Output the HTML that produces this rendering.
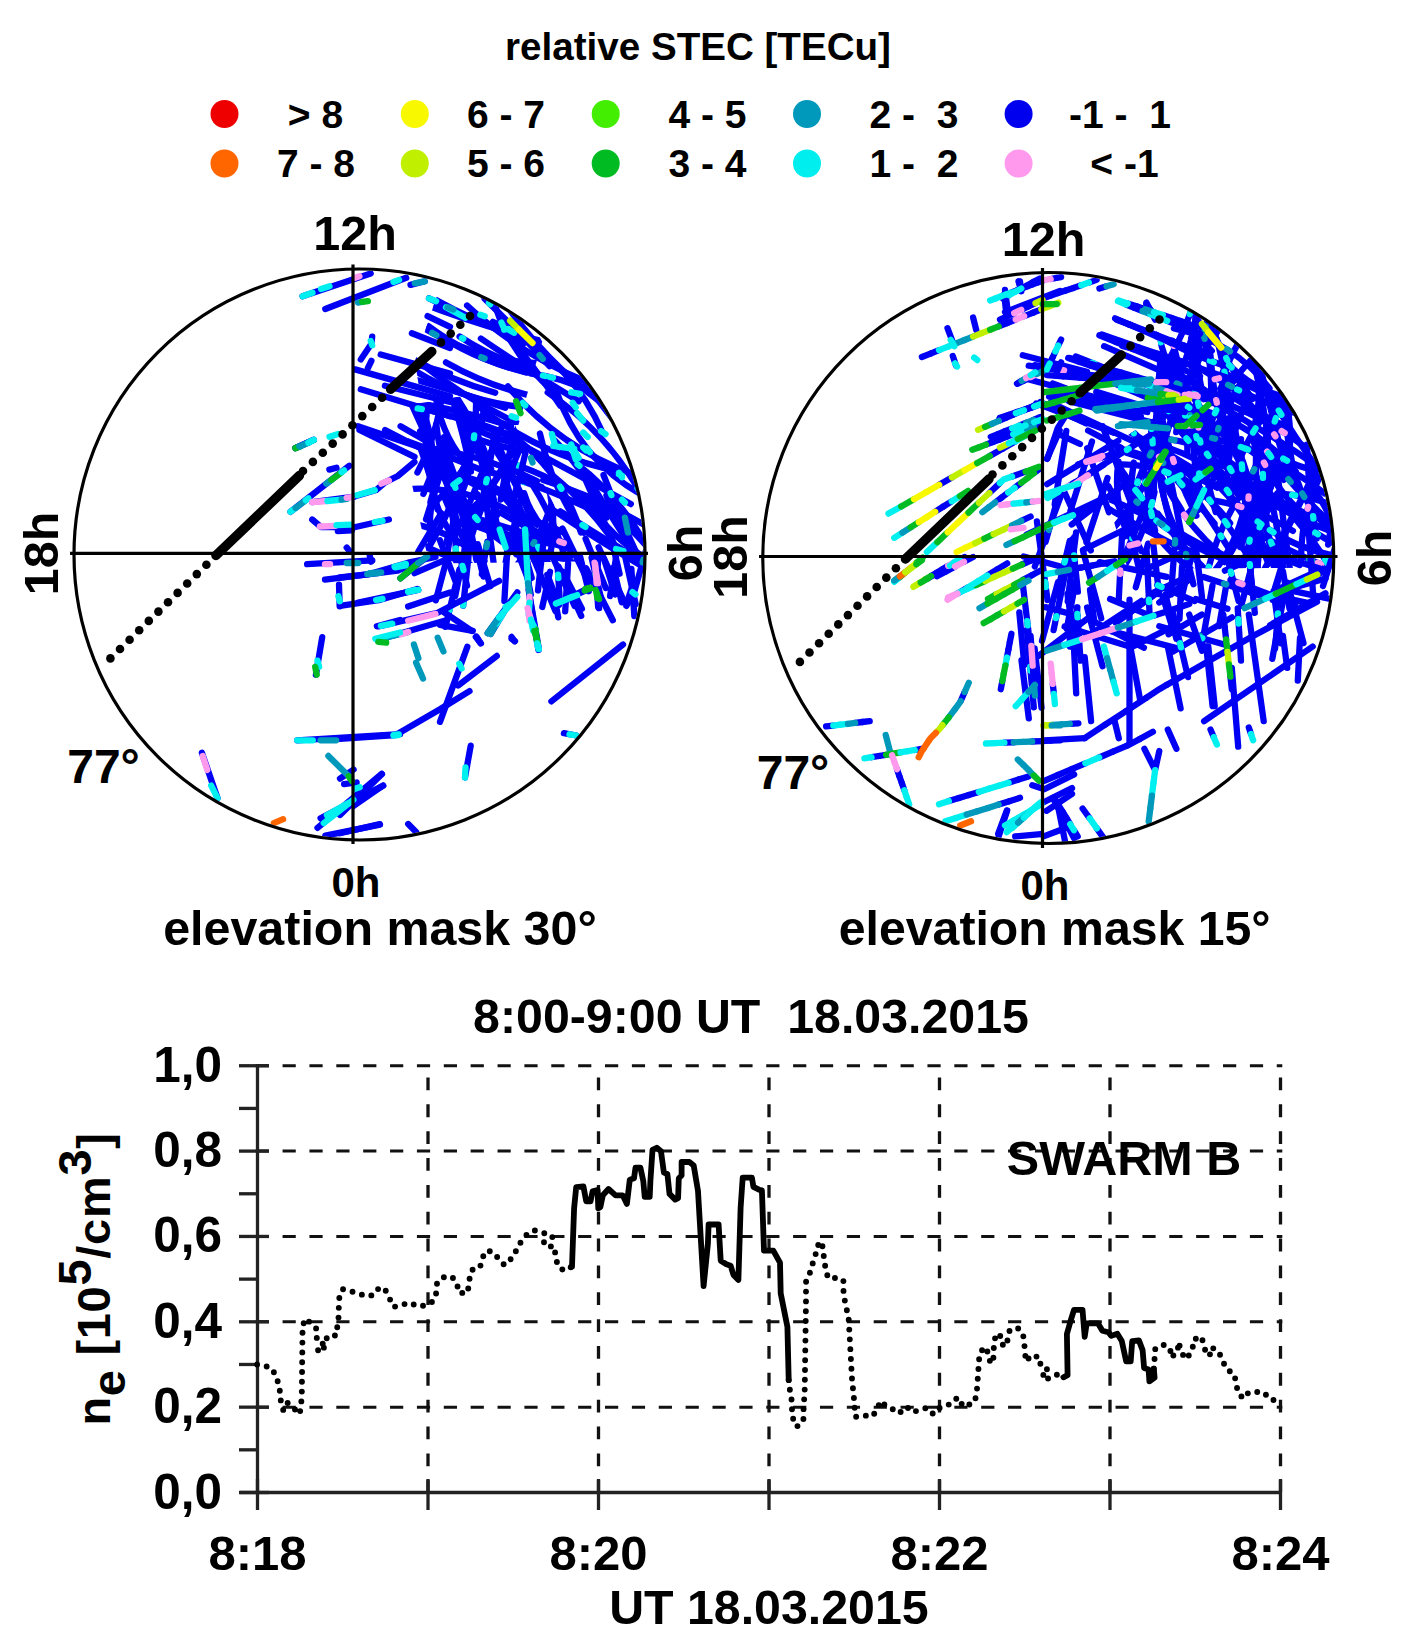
<!DOCTYPE html>
<html><head><meta charset="utf-8"><style>
html,body{margin:0;padding:0;background:#fff;}
svg{display:block;}
text{font-family:"Liberation Sans",sans-serif;font-weight:bold;fill:#000;}
</style></head><body>
<svg width="1408" height="1648" viewBox="0 0 1408 1648">
<text x="698" y="59.6" font-size="38.6" text-anchor="middle" >relative STEC [TECu]</text>
<circle cx="224.5" cy="114" r="14" fill="#ee0000"/>
<circle cx="224.5" cy="163.5" r="14" fill="#ff6600"/>
<circle cx="414.8" cy="114" r="14" fill="#f8f800"/>
<circle cx="414.8" cy="163.5" r="14" fill="#c0f000"/>
<circle cx="605.7" cy="114" r="14" fill="#44ee00"/>
<circle cx="605.7" cy="163.5" r="14" fill="#00bb22"/>
<circle cx="807" cy="114" r="14" fill="#0099bb"/>
<circle cx="807" cy="163.5" r="14" fill="#00eeee"/>
<circle cx="1018.6" cy="114" r="14" fill="#0000ee"/>
<circle cx="1018.6" cy="163.5" r="14" fill="#ff99ee"/>
<text x="315.5" y="127.5" font-size="39" text-anchor="middle" xml:space="preserve">&gt; 8</text>
<text x="506" y="127.5" font-size="39" text-anchor="middle" xml:space="preserve">6 - 7</text>
<text x="707.5" y="127.5" font-size="39" text-anchor="middle" xml:space="preserve">4 - 5</text>
<text x="914" y="127.5" font-size="39" text-anchor="middle" xml:space="preserve">2 -  3</text>
<text x="1120" y="127.5" font-size="39" text-anchor="middle" xml:space="preserve">-1 -  1</text>
<text x="316" y="177" font-size="39" text-anchor="middle" xml:space="preserve">7 - 8</text>
<text x="506" y="177" font-size="39" text-anchor="middle" xml:space="preserve">5 - 6</text>
<text x="707.5" y="177" font-size="39" text-anchor="middle" xml:space="preserve">3 - 4</text>
<text x="914" y="177" font-size="39" text-anchor="middle" xml:space="preserve">1 -  2</text>
<text x="1124.5" y="177" font-size="39" text-anchor="middle" xml:space="preserve">&lt; -1</text>
<defs><clipPath id="clipL"><circle cx="359.5" cy="554.5" r="284"/></clipPath><clipPath id="clipR"><circle cx="1048.25" cy="558" r="284"/></clipPath></defs>
<g clip-path="url(#clipL)">
<clipPath id="dc1"><polygon points="436.5,297.0 519.6,298.7 542.2,341.7 518.4,425.1 424.3,423.5 415.0,360.8"/></clipPath><g clip-path="url(#dc1)"><g stroke="#0000f5" stroke-width="6.3" stroke-linecap="round"><path d="M395.7,374.1 Q451.0,389.1 505.3,407.7" fill="none"/><path d="M459.6,336.5 Q501.6,364.0 550.8,374.0" fill="none"/><path d="M418.4,361.5 Q476.8,408.0 546.1,436.0" fill="none"/><path d="M415.7,318.9 Q475.3,366.1 550.6,376.5" fill="none"/><path d="M400.4,351.6 Q444.9,378.8 495.2,392.7" fill="none"/><path d="M415.2,371.0 Q468.4,403.5 530.6,407.7" fill="none"/><path d="M436.1,299.9 Q483.7,326.2 535.8,342.1" fill="none"/><path d="M446.0,362.4 Q497.1,391.2 555.1,400.6" fill="none"/><path d="M411.8,299.4 Q476.6,325.4 544.6,341.7" fill="none"/><path d="M392.0,294.5 Q461.9,307.8 523.4,343.6" fill="none"/><path d="M409.5,318.8 Q469.3,360.5 542.1,363.5" fill="none"/><path d="M428.3,326.1 Q472.9,359.2 526.8,372.6" fill="none"/></g><g stroke-width="6.3" stroke-linecap="round"><line x1="461.9" y1="338.0" x2="463.3" y2="338.8" stroke="#00f0f0"/><line x1="432.1" y1="332.9" x2="436.4" y2="335.2" stroke="#0099bb"/><line x1="481.2" y1="357.1" x2="484.6" y2="358.5" stroke="#0099bb"/></g></g>
<g><g stroke="#0000f5" stroke-width="6.3" stroke-linecap="round"><path d="M593.3,501.4 Q641.7,530.1 669.6,579.0" fill="none"/><path d="M504.9,331.5 Q534.7,367.2 560.3,405.8" fill="none"/><path d="M588.9,504.5 Q625.3,556.0 684.9,576.7" fill="none"/><path d="M603.5,475.0 Q625.4,532.1 652.6,586.7" fill="none"/><path d="M479.1,407.1 Q540.2,455.3 616.5,470.9" fill="none"/><path d="M606.4,495.4 Q625.8,549.0 663.6,591.6" fill="none"/><path d="M584.2,470.7 Q618.5,530.7 658.2,587.3" fill="none"/><path d="M543.1,480.1 Q616.8,503.5 680.2,547.8" fill="none"/><path d="M509.1,438.1 Q570.2,470.6 630.8,504.1" fill="none"/><path d="M555.0,440.6 Q587.4,473.6 605.7,516.1" fill="none"/><path d="M492.9,321.8 Q569.0,356.5 602.8,433.0" fill="none"/><path d="M551.4,474.4 Q583.8,500.8 608.6,534.4" fill="none"/><path d="M513.6,478.3 Q561.8,494.2 606.9,517.4" fill="none"/><path d="M560.4,511.3 Q607.6,540.8 655.5,569.3" fill="none"/><path d="M484.6,298.7 Q518.3,331.2 549.5,366.2" fill="none"/><path d="M531.3,373.7 Q596.5,381.9 638.4,432.5" fill="none"/><path d="M480.9,338.5 Q528.9,371.3 578.7,401.3" fill="none"/><path d="M585.3,384.7 Q612.6,416.8 635.5,452.2" fill="none"/><path d="M490.4,289.6 Q505.4,352.0 555.1,392.5" fill="none"/><path d="M575.4,462.7 Q623.8,499.8 650.9,554.5" fill="none"/><path d="M518.5,439.9 Q563.7,476.7 580.9,532.4" fill="none"/><path d="M467.1,305.5 Q520.2,354.5 587.0,382.0" fill="none"/><path d="M507.8,386.4 Q559.3,447.6 634.6,474.7" fill="none"/><path d="M547.7,392.5 Q616.7,438.8 651.1,514.4" fill="none"/><path d="M510.4,462.9 Q555.8,477.3 593.8,505.9" fill="none"/><path d="M539.9,433.5 Q551.5,487.9 584.1,532.8" fill="none"/><path d="M579.1,464.9 Q597.8,508.2 617.3,551.2" fill="none"/><path d="M551.0,508.5 Q595.9,539.4 643.0,566.7" fill="none"/><path d="M556.7,392.1 Q579.5,459.7 641.6,494.9" fill="none"/><path d="M507.1,306.3 Q552.8,370.8 618.4,414.8" fill="none"/></g><g stroke-width="6.3" stroke-linecap="round"><line x1="610.6" y1="493.1" x2="611.4" y2="495.1" stroke="#00f0f0"/><line x1="651.4" y1="577.0" x2="653.4" y2="579.6" stroke="#00f0f0"/><line x1="509.8" y1="330.3" x2="514.1" y2="332.8" stroke="#00f0f0"/><line x1="521.7" y1="481.0" x2="525.4" y2="482.3" stroke="#00f0f0"/><line x1="582.4" y1="525.0" x2="585.5" y2="526.9" stroke="#00f0f0"/><line x1="539.5" y1="355.1" x2="542.8" y2="358.8" stroke="#0099bb"/><line x1="489.0" y1="303.0" x2="490.3" y2="304.3" stroke="#00f0f0"/><line x1="549.6" y1="377.0" x2="553.0" y2="377.8" stroke="#00f0f0"/><line x1="542.9" y1="375.5" x2="545.1" y2="376.0" stroke="#00f0f0"/><line x1="501.4" y1="322.5" x2="503.3" y2="326.7" stroke="#00f0f0"/><line x1="577.5" y1="464.3" x2="579.5" y2="465.9" stroke="#00f0f0"/><line x1="560.0" y1="486.6" x2="561.4" y2="488.8" stroke="#00f0f0"/><line x1="522.7" y1="402.9" x2="525.3" y2="405.5" stroke="#00f0f0"/><line x1="637.6" y1="488.2" x2="639.6" y2="491.6" stroke="#00f0f0"/><line x1="518.2" y1="465.5" x2="521.4" y2="466.6" stroke="#00f0f0"/><line x1="586.9" y1="448.6" x2="589.9" y2="452.2" stroke="#00f0f0"/></g></g>
<clipPath id="dc2"><polygon points="405.8,405.4 499.1,390.2 524.4,445.6 557.8,512.7 575.4,561.4 429.1,563.6 411.0,479.8"/></clipPath><g clip-path="url(#dc2)"><g stroke="#0000f5" stroke-width="6.3" stroke-linecap="round"><path d="M448.9,440.4 Q448.6,484.7 454.0,528.7" fill="none"/><path d="M454.6,416.0 Q499.4,428.8 541.6,448.8" fill="none"/><path d="M392.7,520.7 Q445.7,525.0 484.4,561.3" fill="none"/><path d="M471.8,517.1 Q523.9,531.8 574.4,551.0" fill="none"/><path d="M417.4,472.5 Q441.3,427.1 443.6,375.7" fill="none"/><path d="M471.8,508.8 Q510.9,472.5 519.3,419.8" fill="none"/><path d="M528.5,514.0 Q535.6,550.9 560.0,579.5" fill="none"/><path d="M405.9,400.9 Q459.4,409.6 511.0,425.9" fill="none"/><path d="M505.8,486.5 Q535.1,530.8 555.3,579.9" fill="none"/><path d="M395.9,364.8 Q426.3,416.5 438.3,475.2" fill="none"/><path d="M416.3,407.1 Q471.2,419.6 523.0,441.8" fill="none"/><path d="M503.3,472.9 Q516.3,508.8 517.7,547.0" fill="none"/><path d="M518.8,504.0 Q528.6,551.7 548.2,596.3" fill="none"/><path d="M475.6,438.5 Q505.8,449.7 537.8,452.1" fill="none"/><path d="M444.1,437.2 Q446.3,473.5 462.7,505.9" fill="none"/><path d="M442.6,492.5 Q453.8,521.2 468.2,548.5" fill="none"/><path d="M453.5,402.4 Q464.0,436.5 470.9,471.5" fill="none"/><path d="M426.6,415.2 Q422.1,452.8 435.8,488.1" fill="none"/><path d="M440.1,455.6 Q447.7,488.3 456.8,520.7" fill="none"/><path d="M517.8,563.8 Q545.6,532.9 554.6,492.4" fill="none"/><path d="M450.5,473.3 Q467.6,520.0 468.5,569.7" fill="none"/><path d="M500.9,512.9 Q552.8,543.9 612.2,555.5" fill="none"/><path d="M433.6,504.0 Q477.7,464.1 484.6,404.9" fill="none"/><path d="M464.0,422.4 Q490.2,438.9 520.7,444.4" fill="none"/><path d="M404.7,489.3 Q464.6,484.8 516.6,514.9" fill="none"/><path d="M477.1,494.0 Q495.8,524.7 516.2,554.2" fill="none"/><path d="M428.1,548.2 Q444.3,522.6 455.0,494.1" fill="none"/><path d="M417.0,399.0 Q439.7,441.9 429.9,489.3" fill="none"/><path d="M524.2,493.3 Q534.0,526.1 563.2,544.2" fill="none"/><path d="M420.2,447.3 Q431.7,477.5 437.4,509.3" fill="none"/><path d="M454.8,410.0 Q474.5,440.6 467.8,476.4" fill="none"/><path d="M493.0,446.0 Q516.8,482.1 532.7,522.2" fill="none"/><path d="M510.0,509.1 Q522.1,472.9 528.9,435.3" fill="none"/><path d="M434.5,384.9 Q437.2,428.1 464.4,461.7" fill="none"/><path d="M436.3,424.3 Q441.5,478.0 473.9,521.1" fill="none"/><path d="M411.4,404.0 Q433.2,450.7 452.9,498.3" fill="none"/><path d="M464.9,479.6 Q492.4,495.6 524.2,495.4" fill="none"/><path d="M533.6,450.3 Q561.5,500.6 549.9,557.0" fill="none"/><path d="M500.4,493.3 Q540.1,535.4 554.8,591.4" fill="none"/><path d="M468.7,523.9 Q509.3,535.2 541.9,562.0" fill="none"/><path d="M493.2,526.5 Q538.8,553.9 590.2,567.8" fill="none"/><path d="M501.5,580.6 Q511.2,536.7 522.1,493.1" fill="none"/><path d="M485.8,487.1 Q488.6,542.9 499.9,597.6" fill="none"/><path d="M446.5,562.7 Q450.3,521.7 465.4,483.3" fill="none"/><path d="M404.2,536.4 Q436.5,552.8 470.6,565.0" fill="none"/><path d="M531.9,483.9 Q562.4,531.8 571.5,587.8" fill="none"/><path d="M429.8,473.4 Q433.7,512.4 458.0,543.2" fill="none"/><path d="M455.9,481.9 Q469.1,519.6 502.2,541.9" fill="none"/><path d="M460.7,524.1 Q480.6,475.8 501.3,427.8" fill="none"/><path d="M464.0,413.0 Q486.1,467.2 496.9,524.7" fill="none"/><path d="M443.7,448.0 Q467.3,501.9 476.4,560.0" fill="none"/><path d="M493.6,433.9 Q513.0,480.4 537.2,524.7" fill="none"/><path d="M390.9,435.5 Q437.7,451.5 483.2,470.7" fill="none"/><path d="M492.2,472.8 Q529.5,481.0 564.6,496.0" fill="none"/><path d="M448.8,459.6 Q455.2,517.6 456.9,576.0" fill="none"/><path d="M428.8,368.5 Q471.9,410.2 483.8,469.0" fill="none"/><path d="M503.1,493.8 Q513.3,460.9 528.6,430.0" fill="none"/><path d="M475.7,524.6 Q488.6,485.0 513.5,451.6" fill="none"/><path d="M427.6,447.5 Q484.8,455.9 537.0,481.0" fill="none"/><path d="M486.5,528.8 Q520.5,540.3 556.2,544.3" fill="none"/><path d="M430.8,541.1 Q425.3,492.4 452.8,452.0" fill="none"/><path d="M470.4,540.2 Q487.4,488.9 494.0,435.3" fill="none"/><path d="M453.8,508.9 Q476.8,457.3 476.0,400.8" fill="none"/><path d="M521.2,517.1 Q557.0,526.5 588.5,545.9" fill="none"/><path d="M463.3,571.2 Q462.3,524.4 490.4,487.0" fill="none"/><path d="M420.1,431.1 Q450.6,474.3 474.0,521.7" fill="none"/><path d="M442.3,474.3 Q473.2,475.6 500.3,490.4" fill="none"/><path d="M430.4,501.9 Q439.4,472.6 444.4,442.2" fill="none"/><path d="M500.7,499.6 Q505.4,469.3 512.6,439.4" fill="none"/><path d="M455.1,410.3 Q486.9,458.4 497.1,515.1" fill="none"/><path d="M440.1,373.4 Q473.6,416.9 491.2,469.0" fill="none"/><path d="M497.1,535.9 Q531.0,555.5 570.1,556.8" fill="none"/></g><g stroke-width="6.3" stroke-linecap="round"><line x1="525.5" y1="532.2" x2="526.2" y2="534.9" stroke="#0099bb"/><line x1="533.3" y1="543.7" x2="534.3" y2="542.0" stroke="#0099bb"/><line x1="455.0" y1="486.5" x2="455.4" y2="487.9" stroke="#00f0f0"/><line x1="583.3" y1="548.6" x2="587.0" y2="549.6" stroke="#00f0f0"/><line x1="538.1" y1="546.9" x2="539.5" y2="549.7" stroke="#00f0f0"/><line x1="475.1" y1="517.1" x2="477.6" y2="520.0" stroke="#00f0f0"/><line x1="455.8" y1="548.3" x2="455.9" y2="550.2" stroke="#00f0f0"/><line x1="486.1" y1="482.4" x2="486.8" y2="479.2" stroke="#00f0f0"/><line x1="473.9" y1="438.1" x2="474.2" y2="435.4" stroke="#00f0f0"/></g></g>
<g><g stroke="#0000f5" stroke-width="6.3" stroke-linecap="round"><line x1="481.8" y1="574.0" x2="487.3" y2="541.7"/><line x1="585.6" y1="538.7" x2="605.8" y2="588.1"/><line x1="435.8" y1="600.4" x2="445.0" y2="565.8"/><line x1="565.2" y1="611.4" x2="568.1" y2="563.4"/><line x1="538.0" y1="590.3" x2="544.5" y2="532.4"/><line x1="631.4" y1="569.0" x2="634.3" y2="616.0"/><line x1="610.1" y1="596.0" x2="616.0" y2="557.8"/><line x1="477.7" y1="544.2" x2="490.3" y2="586.2"/><line x1="532.5" y1="555.8" x2="555.4" y2="611.1"/><line x1="515.3" y1="545.9" x2="528.0" y2="579.1"/><line x1="557.6" y1="566.3" x2="559.7" y2="599.3"/><line x1="612.5" y1="543.8" x2="619.6" y2="573.7"/><line x1="445.4" y1="626.9" x2="459.3" y2="569.8"/><line x1="613.5" y1="567.6" x2="621.7" y2="602.4"/><line x1="460.3" y1="556.2" x2="467.0" y2="585.7"/><line x1="522.8" y1="547.4" x2="531.7" y2="578.0"/><line x1="550.2" y1="551.3" x2="574.6" y2="606.0"/><line x1="542.3" y1="607.0" x2="550.0" y2="571.8"/><line x1="523.5" y1="557.8" x2="530.8" y2="594.5"/><line x1="603.9" y1="558.5" x2="615.1" y2="594.4"/><line x1="596.0" y1="588.3" x2="598.4" y2="556.9"/><line x1="562.8" y1="571.7" x2="581.9" y2="608.7"/><line x1="624.9" y1="555.6" x2="635.7" y2="604.2"/><line x1="558.7" y1="566.7" x2="581.2" y2="615.9"/><line x1="504.4" y1="601.0" x2="507.7" y2="541.9"/><line x1="562.4" y1="528.5" x2="588.3" y2="581.6"/><line x1="439.9" y1="540.2" x2="455.5" y2="581.5"/><line x1="475.3" y1="544.1" x2="483.4" y2="576.6"/><line x1="586.1" y1="568.2" x2="612.8" y2="620.3"/><line x1="547.3" y1="574.8" x2="558.9" y2="605.0"/><line x1="455.2" y1="596.1" x2="462.2" y2="562.6"/><line x1="591.6" y1="557.9" x2="600.8" y2="597.2"/><line x1="634.4" y1="591.5" x2="645.8" y2="551.0"/><line x1="580.1" y1="556.5" x2="588.7" y2="591.3"/><line x1="598.6" y1="547.4" x2="622.7" y2="598.3"/><line x1="463.2" y1="605.7" x2="469.5" y2="546.8"/></g><g stroke-width="6.3" stroke-linecap="round"><line x1="486.4" y1="547.3" x2="487.1" y2="543.1" stroke="#0099bb"/><line x1="558.1" y1="574.6" x2="558.4" y2="578.1" stroke="#00f0f0"/><line x1="449.4" y1="610.4" x2="449.9" y2="608.4" stroke="#00f0f0"/><line x1="462.5" y1="565.9" x2="463.5" y2="570.1" stroke="#00f0f0"/><line x1="595.3" y1="574.0" x2="595.9" y2="576.1" stroke="#0099bb"/><line x1="642.6" y1="562.4" x2="643.3" y2="559.8" stroke="#0099bb"/><line x1="463.2" y1="605.4" x2="463.5" y2="602.8" stroke="#00f0f0"/></g></g>
<polyline points="302.6,296.2 370.7,273.5" fill="none" stroke="#0000f5" stroke-width="6.3" stroke-linecap="round" stroke-linejoin="round"/>
<polyline points="325.3,309.0 406.2,277.8" fill="none" stroke="#0000f5" stroke-width="6.3" stroke-linecap="round" stroke-linejoin="round"/>
<polyline points="410.5,284.9 424.7,281.3" fill="none" stroke="#0000f5" stroke-width="6.3" stroke-linecap="round" stroke-linejoin="round"/>
<polyline points="429.0,298.4 450.0,308.3" fill="none" stroke="#0000f5" stroke-width="6.3" stroke-linecap="round" stroke-linejoin="round"/>
<polyline points="427.6,316.1 450.0,326.8" fill="none" stroke="#0000f5" stroke-width="6.3" stroke-linecap="round" stroke-linejoin="round"/>
<polyline points="411.9,333.2 450.0,348.1" fill="none" stroke="#0000f5" stroke-width="6.3" stroke-linecap="round" stroke-linejoin="round"/>
<polyline points="372.2,336.7 371.4,343.8 360.8,359.4" fill="none" stroke="#0000f5" stroke-width="6.3" stroke-linecap="round" stroke-linejoin="round"/>
<polyline points="371.4,360.9 367.9,368.0" fill="none" stroke="#0000f5" stroke-width="6.3" stroke-linecap="round" stroke-linejoin="round"/>
<polyline points="380.7,354.5 450.0,373.6" fill="none" stroke="#0000f5" stroke-width="6.3" stroke-linecap="round" stroke-linejoin="round"/>
<polyline points="355.1,369.4 450.0,396.4" fill="none" stroke="#0000f5" stroke-width="6.3" stroke-linecap="round" stroke-linejoin="round"/>
<polyline points="360.8,389.3 450.0,416.2" fill="none" stroke="#0000f5" stroke-width="6.3" stroke-linecap="round" stroke-linejoin="round"/>
<polyline points="384.9,385.7 450.0,402.0" fill="none" stroke="#0000f5" stroke-width="6.3" stroke-linecap="round" stroke-linejoin="round"/>
<polyline points="358.0,426.2 450.0,457.4" fill="none" stroke="#0000f5" stroke-width="6.3" stroke-linecap="round" stroke-linejoin="round"/>
<polyline points="400.6,426.2 427.6,441.8" fill="none" stroke="#0000f5" stroke-width="6.3" stroke-linecap="round" stroke-linejoin="round"/>
<polyline points="295.5,448.2 313.9,439.7" fill="none" stroke="#0000f5" stroke-width="6.3" stroke-linecap="round" stroke-linejoin="round"/>
<polyline points="295.6,447.9 313.5,440.2" fill="none" stroke="#0000f5" stroke-width="6.3" stroke-linecap="round" stroke-linejoin="round"/>
<polyline points="290.5,511.8 349.3,465.8" fill="none" stroke="#0000f5" stroke-width="6.3" stroke-linecap="round" stroke-linejoin="round"/>
<polyline points="329.4,469.6 336.5,467.7" fill="none" stroke="#0000f5" stroke-width="6.3" stroke-linecap="round" stroke-linejoin="round"/>
<polyline points="312.2,502.2 354.4,496.5" fill="none" stroke="#0000f5" stroke-width="6.3" stroke-linecap="round" stroke-linejoin="round"/>
<polyline points="354.4,496.5 376.1,490.1 385.1,482.4 397.8,476.0 414.5,462.0" fill="none" stroke="#0000f5" stroke-width="6.3" stroke-linecap="round" stroke-linejoin="round"/>
<polyline points="312.2,519.5 321.1,527.2 354.4,527.2 388.9,519.5" fill="none" stroke="#0000f5" stroke-width="6.3" stroke-linecap="round" stroke-linejoin="round"/>
<polyline points="337.8,531.0 351.8,530.4" fill="none" stroke="#0000f5" stroke-width="6.3" stroke-linecap="round" stroke-linejoin="round"/>
<polyline points="359.5,430.0 414.5,456.8" fill="none" stroke="#0000f5" stroke-width="6.3" stroke-linecap="round" stroke-linejoin="round"/>
<polyline points="385.1,430.0 429.8,453.0" fill="none" stroke="#0000f5" stroke-width="6.3" stroke-linecap="round" stroke-linejoin="round"/>
<polyline points="423.4,493.9 436.2,462.0" fill="none" stroke="#0000f5" stroke-width="6.3" stroke-linecap="round" stroke-linejoin="round"/>
<polyline points="426.0,519.5 440.0,474.7" fill="none" stroke="#0000f5" stroke-width="6.3" stroke-linecap="round" stroke-linejoin="round"/>
<polyline points="418.3,551.5 441.3,513.1" fill="none" stroke="#0000f5" stroke-width="6.3" stroke-linecap="round" stroke-linejoin="round"/>
<polyline points="446.4,542.5 450.0,529.7" fill="none" stroke="#0000f5" stroke-width="6.3" stroke-linecap="round" stroke-linejoin="round"/>
<polyline points="307.1,564.2 372.3,560.4" fill="none" stroke="#0000f5" stroke-width="6.3" stroke-linecap="round" stroke-linejoin="round"/>
<polyline points="369.7,555.3 371.0,561.7" fill="none" stroke="#0000f5" stroke-width="6.3" stroke-linecap="round" stroke-linejoin="round"/>
<polyline points="325.0,579.6 397.8,570.6 427.2,557.8" fill="none" stroke="#0000f5" stroke-width="6.3" stroke-linecap="round" stroke-linejoin="round"/>
<polyline points="400.4,578.3 427.2,556.6" fill="none" stroke="#0000f5" stroke-width="6.3" stroke-linecap="round" stroke-linejoin="round"/>
<polyline points="414.5,573.2 450.0,557.8" fill="none" stroke="#0000f5" stroke-width="6.3" stroke-linecap="round" stroke-linejoin="round"/>
<polyline points="358.2,602.6 418.3,589.8" fill="none" stroke="#0000f5" stroke-width="6.3" stroke-linecap="round" stroke-linejoin="round"/>
<polyline points="339.0,584.7 339.7,606.4" fill="none" stroke="#0000f5" stroke-width="6.3" stroke-linecap="round" stroke-linejoin="round"/>
<polyline points="346.7,547.6 349.3,550.8" fill="none" stroke="#0000f5" stroke-width="6.3" stroke-linecap="round" stroke-linejoin="round"/>
<polyline points="408.1,606.4 450.0,592.4" fill="none" stroke="#0000f5" stroke-width="6.3" stroke-linecap="round" stroke-linejoin="round"/>
<polyline points="525.0,529.5 529.5,596.6 538.4,650.0" fill="none" stroke="#0000f5" stroke-width="6.3" stroke-linecap="round" stroke-linejoin="round"/>
<polyline points="556.3,603.3 590.6,588.4" fill="none" stroke="#0000f5" stroke-width="6.3" stroke-linecap="round" stroke-linejoin="round"/>
<polyline points="596.6,583.2 598.1,607.0" fill="none" stroke="#0000f5" stroke-width="6.3" stroke-linecap="round" stroke-linejoin="round"/>
<polyline points="626.4,604.1 633.9,581.7" fill="none" stroke="#0000f5" stroke-width="6.3" stroke-linecap="round" stroke-linejoin="round"/>
<polyline points="490.7,633.9 508.6,604.1" fill="none" stroke="#0000f5" stroke-width="6.3" stroke-linecap="round" stroke-linejoin="round"/>
<polyline points="511.6,636.9 514.6,641.3" fill="none" stroke="#0000f5" stroke-width="6.3" stroke-linecap="round" stroke-linejoin="round"/>
<polyline points="475.8,636.9 480.3,642.8" fill="none" stroke="#0000f5" stroke-width="6.3" stroke-linecap="round" stroke-linejoin="round"/>
<polyline points="440.0,624.9 472.8,630.9" fill="none" stroke="#0000f5" stroke-width="6.3" stroke-linecap="round" stroke-linejoin="round"/>
<polyline points="340.0,738.9 395.7,735.0 440.0,709.3 469.5,691.1" fill="none" stroke="#0000f5" stroke-width="6.3" stroke-linecap="round" stroke-linejoin="round"/>
<polyline points="440.0,721.8 467.3,646.8" fill="none" stroke="#0000f5" stroke-width="6.3" stroke-linecap="round" stroke-linejoin="round"/>
<polyline points="458.2,685.5 496.8,655.9" fill="none" stroke="#0000f5" stroke-width="6.3" stroke-linecap="round" stroke-linejoin="round"/>
<polyline points="551.4,701.4 623.0,644.5" fill="none" stroke="#0000f5" stroke-width="6.3" stroke-linecap="round" stroke-linejoin="round"/>
<polyline points="563.9,733.2 576.4,735.5" fill="none" stroke="#0000f5" stroke-width="6.3" stroke-linecap="round" stroke-linejoin="round"/>
<polyline points="470.7,745.7 465.0,777.5" fill="none" stroke="#0000f5" stroke-width="6.3" stroke-linecap="round" stroke-linejoin="round"/>
<polyline points="408.2,824.1 416.1,832.0" fill="none" stroke="#0000f5" stroke-width="6.3" stroke-linecap="round" stroke-linejoin="round"/>
<polyline points="340.0,833.2 379.8,824.1" fill="none" stroke="#0000f5" stroke-width="6.3" stroke-linecap="round" stroke-linejoin="round"/>
<polyline points="340.0,815.0 382.0,774.1" fill="none" stroke="#0000f5" stroke-width="6.3" stroke-linecap="round" stroke-linejoin="round"/>
<polyline points="353.6,805.9 383.2,785.5" fill="none" stroke="#0000f5" stroke-width="6.3" stroke-linecap="round" stroke-linejoin="round"/>
<polyline points="340.0,605.9 378.6,600.2 417.3,588.9" fill="none" stroke="#0000f5" stroke-width="6.3" stroke-linecap="round" stroke-linejoin="round"/>
<polyline points="340.0,577.5 369.5,574.1 408.2,562.7 435.5,557.0" fill="none" stroke="#0000f5" stroke-width="6.3" stroke-linecap="round" stroke-linejoin="round"/>
<polyline points="378.6,626.4 437.7,612.7 499.1,580.9" fill="none" stroke="#0000f5" stroke-width="6.3" stroke-linecap="round" stroke-linejoin="round"/>
<polyline points="377.5,640.0 444.5,620.7" fill="none" stroke="#0000f5" stroke-width="6.3" stroke-linecap="round" stroke-linejoin="round"/>
<polyline points="444.5,612.7 471.8,630.9" fill="none" stroke="#0000f5" stroke-width="6.3" stroke-linecap="round" stroke-linejoin="round"/>
<polyline points="476.4,636.6 480.9,643.4" fill="none" stroke="#0000f5" stroke-width="6.3" stroke-linecap="round" stroke-linejoin="round"/>
<polyline points="511.6,638.9 515.0,641.1" fill="none" stroke="#0000f5" stroke-width="6.3" stroke-linecap="round" stroke-linejoin="round"/>
<polyline points="487.7,633.2 517.3,592.3" fill="none" stroke="#0000f5" stroke-width="6.3" stroke-linecap="round" stroke-linejoin="round"/>
<polyline points="528.6,590.0 538.9,649.1" fill="none" stroke="#0000f5" stroke-width="6.3" stroke-linecap="round" stroke-linejoin="round"/>
<polyline points="555.9,603.6 590.0,587.7" fill="none" stroke="#0000f5" stroke-width="6.3" stroke-linecap="round" stroke-linejoin="round"/>
<polyline points="596.8,567.3 599.1,608.2" fill="none" stroke="#0000f5" stroke-width="6.3" stroke-linecap="round" stroke-linejoin="round"/>
<polyline points="553.6,592.3 558.2,617.3" fill="none" stroke="#0000f5" stroke-width="6.3" stroke-linecap="round" stroke-linejoin="round"/>
<polyline points="633.2,594.5 626.4,605.9" fill="none" stroke="#0000f5" stroke-width="6.3" stroke-linecap="round" stroke-linejoin="round"/>
<polyline points="340.0,778.6 353.6,769.5" fill="none" stroke="#0000f5" stroke-width="6.3" stroke-linecap="round" stroke-linejoin="round"/>
<polyline points="322.2,637.2 315.9,674.7" fill="none" stroke="#0000f5" stroke-width="6.3" stroke-linecap="round" stroke-linejoin="round"/>
<polyline points="297.2,740.3 400.0,734.1" fill="none" stroke="#0000f5" stroke-width="6.3" stroke-linecap="round" stroke-linejoin="round"/>
<polyline points="201.9,752.8 217.5,798.1" fill="none" stroke="#0000f5" stroke-width="6.3" stroke-linecap="round" stroke-linejoin="round"/>
<polyline points="344.1,784.1 356.6,782.5" fill="none" stroke="#0000f5" stroke-width="6.3" stroke-linecap="round" stroke-linejoin="round"/>
<polyline points="317.5,827.8 381.6,773.9" fill="none" stroke="#0000f5" stroke-width="6.3" stroke-linecap="round" stroke-linejoin="round"/>
<polyline points="320.6,818.4 383.1,785.6" fill="none" stroke="#0000f5" stroke-width="6.3" stroke-linecap="round" stroke-linejoin="round"/>
<polyline points="325.3,835.6 380.0,824.7" fill="none" stroke="#0000f5" stroke-width="6.3" stroke-linecap="round" stroke-linejoin="round"/>
<polyline points="376.9,626.2 400.0,620.0" fill="none" stroke="#0000f5" stroke-width="6.3" stroke-linecap="round" stroke-linejoin="round"/>
<polyline points="302.6,296.2 312.5,292.7" fill="none" stroke="#00f0f0" stroke-width="6.3" stroke-linecap="round" stroke-linejoin="round"/>
<polyline points="321.0,289.1 329.5,286.3" fill="none" stroke="#00f0f0" stroke-width="6.3" stroke-linecap="round" stroke-linejoin="round"/>
<polyline points="355.1,277.8 359.4,276.3" fill="none" stroke="#ff99ee" stroke-width="6.3" stroke-linecap="round" stroke-linejoin="round"/>
<polyline points="393.5,282.0 399.1,279.9" fill="none" stroke="#00f0f0" stroke-width="6.3" stroke-linecap="round" stroke-linejoin="round"/>
<polyline points="414.8,283.4 424.7,281.3" fill="none" stroke="#0099bb" stroke-width="6.3" stroke-linecap="round" stroke-linejoin="round"/>
<polyline points="358.0,302.6 362.2,301.9" fill="none" stroke="#0099bb" stroke-width="6.3" stroke-linecap="round" stroke-linejoin="round"/>
<polyline points="362.2,301.9 367.9,301.2" fill="none" stroke="#00bb22" stroke-width="6.3" stroke-linecap="round" stroke-linejoin="round"/>
<polyline points="429.0,298.4 436.1,301.2" fill="none" stroke="#00f0f0" stroke-width="6.3" stroke-linecap="round" stroke-linejoin="round"/>
<polyline points="370.7,341.0 372.2,345.2" fill="none" stroke="#00f0f0" stroke-width="6.3" stroke-linecap="round" stroke-linejoin="round"/>
<polyline points="417.6,408.4 421.9,409.1" fill="none" stroke="#00f0f0" stroke-width="6.3" stroke-linecap="round" stroke-linejoin="round"/>
<polyline points="295.5,448.2 299.7,446.8" fill="none" stroke="#00bb22" stroke-width="6.3" stroke-linecap="round" stroke-linejoin="round"/>
<polyline points="299.7,446.8 309.7,441.8" fill="none" stroke="#0099bb" stroke-width="6.3" stroke-linecap="round" stroke-linejoin="round"/>
<polyline points="309.7,441.8 313.9,439.7" fill="none" stroke="#00f0f0" stroke-width="6.3" stroke-linecap="round" stroke-linejoin="round"/>
<polyline points="329.5,436.8 338.1,434.0" fill="none" stroke="#00f0f0" stroke-width="6.3" stroke-linecap="round" stroke-linejoin="round"/>
<polyline points="446.0,307.3 465.4,317.7" fill="none" stroke="#00f0f0" stroke-width="6.3" stroke-linecap="round" stroke-linejoin="round"/>
<polyline points="447.5,307.3 453.4,309.5" fill="none" stroke="#0099bb" stroke-width="6.3" stroke-linecap="round" stroke-linejoin="round"/>
<polyline points="480.3,314.7 484.7,316.2" fill="none" stroke="#00f0f0" stroke-width="6.3" stroke-linecap="round" stroke-linejoin="round"/>
<polyline points="504.1,329.7 508.6,328.9" fill="none" stroke="#00f0f0" stroke-width="6.3" stroke-linecap="round" stroke-linejoin="round"/>
<polyline points="510.1,320.7 519.0,329.7" fill="none" stroke="#c0f000" stroke-width="6.3" stroke-linecap="round" stroke-linejoin="round"/>
<polyline points="519.0,329.7 532.5,343.1" fill="none" stroke="#f8f800" stroke-width="6.3" stroke-linecap="round" stroke-linejoin="round"/>
<polyline points="516.1,401.2 520.5,413.2" fill="none" stroke="#00bb22" stroke-width="6.3" stroke-linecap="round" stroke-linejoin="round"/>
<polyline points="511.6,416.2 516.1,417.7" fill="none" stroke="#00f0f0" stroke-width="6.3" stroke-linecap="round" stroke-linejoin="round"/>
<polyline points="571.2,392.3 580.2,393.8" fill="none" stroke="#00f0f0" stroke-width="6.3" stroke-linecap="round" stroke-linejoin="round"/>
<polyline points="572.7,402.7 575.7,407.2" fill="none" stroke="#00f0f0" stroke-width="6.3" stroke-linecap="round" stroke-linejoin="round"/>
<polyline points="577.2,413.2 583.2,420.6" fill="none" stroke="#00f0f0" stroke-width="6.3" stroke-linecap="round" stroke-linejoin="round"/>
<polyline points="601.1,431.1 605.5,434.1" fill="none" stroke="#00f0f0" stroke-width="6.3" stroke-linecap="round" stroke-linejoin="round"/>
<polyline points="551.9,434.1 554.8,444.5" fill="none" stroke="#00f0f0" stroke-width="6.3" stroke-linecap="round" stroke-linejoin="round"/>
<polyline points="571.2,444.5 575.7,459.4" fill="none" stroke="#00f0f0" stroke-width="6.3" stroke-linecap="round" stroke-linejoin="round"/>
<polyline points="583.2,432.6 587.7,437.0" fill="none" stroke="#00f0f0" stroke-width="6.3" stroke-linecap="round" stroke-linejoin="round"/>
<polyline points="583.2,447.5 586.2,450.5" fill="none" stroke="#00f0f0" stroke-width="6.3" stroke-linecap="round" stroke-linejoin="round"/>
<polyline points="531.0,457.9 532.5,462.4" fill="none" stroke="#0099bb" stroke-width="6.3" stroke-linecap="round" stroke-linejoin="round"/>
<polyline points="619.0,472.8 622.0,477.3" fill="none" stroke="#00f0f0" stroke-width="6.3" stroke-linecap="round" stroke-linejoin="round"/>
<polyline points="295.6,447.9 299.4,446.4" fill="none" stroke="#00bb22" stroke-width="6.3" stroke-linecap="round" stroke-linejoin="round"/>
<polyline points="299.4,446.4 308.4,442.8" fill="none" stroke="#0099bb" stroke-width="6.3" stroke-linecap="round" stroke-linejoin="round"/>
<polyline points="308.4,442.8 313.5,440.2" fill="none" stroke="#00f0f0" stroke-width="6.3" stroke-linecap="round" stroke-linejoin="round"/>
<polyline points="290.5,511.8 295.6,508.0" fill="none" stroke="#00f0f0" stroke-width="6.3" stroke-linecap="round" stroke-linejoin="round"/>
<polyline points="295.6,508.0 305.8,500.3" fill="none" stroke="#0099bb" stroke-width="6.3" stroke-linecap="round" stroke-linejoin="round"/>
<polyline points="305.8,500.3 308.4,498.4" fill="none" stroke="#00f0f0" stroke-width="6.3" stroke-linecap="round" stroke-linejoin="round"/>
<polyline points="326.3,483.7 331.4,479.9" fill="none" stroke="#0099bb" stroke-width="6.3" stroke-linecap="round" stroke-linejoin="round"/>
<polyline points="331.4,479.9 341.6,472.2" fill="none" stroke="#00bb22" stroke-width="6.3" stroke-linecap="round" stroke-linejoin="round"/>
<polyline points="341.6,472.2 344.1,470.3" fill="none" stroke="#00f0f0" stroke-width="6.3" stroke-linecap="round" stroke-linejoin="round"/>
<polyline points="312.2,502.2 327.5,501.0" fill="none" stroke="#ff99ee" stroke-width="6.3" stroke-linecap="round" stroke-linejoin="round"/>
<polyline points="327.5,501.0 341.6,499.7" fill="none" stroke="#00f0f0" stroke-width="6.3" stroke-linecap="round" stroke-linejoin="round"/>
<polyline points="341.6,499.7 346.7,499.0" fill="none" stroke="#0099bb" stroke-width="6.3" stroke-linecap="round" stroke-linejoin="round"/>
<polyline points="346.7,497.8 351.8,497.1" fill="none" stroke="#ff99ee" stroke-width="6.3" stroke-linecap="round" stroke-linejoin="round"/>
<polyline points="356.9,495.2 374.8,490.1" fill="none" stroke="#00f0f0" stroke-width="6.3" stroke-linecap="round" stroke-linejoin="round"/>
<polyline points="381.2,483.7 388.9,480.5" fill="none" stroke="#ff99ee" stroke-width="6.3" stroke-linecap="round" stroke-linejoin="round"/>
<polyline points="319.9,526.5 335.2,525.9" fill="none" stroke="#ff99ee" stroke-width="6.3" stroke-linecap="round" stroke-linejoin="round"/>
<polyline points="336.5,525.2 350.5,524.6" fill="none" stroke="#00f0f0" stroke-width="6.3" stroke-linecap="round" stroke-linejoin="round"/>
<polyline points="374.8,522.0 382.5,520.8" fill="none" stroke="#00f0f0" stroke-width="6.3" stroke-linecap="round" stroke-linejoin="round"/>
<polyline points="325.0,564.2 330.1,564.2" fill="none" stroke="#ff99ee" stroke-width="6.3" stroke-linecap="round" stroke-linejoin="round"/>
<polyline points="346.7,563.0 358.2,563.0" fill="none" stroke="#0099bb" stroke-width="6.3" stroke-linecap="round" stroke-linejoin="round"/>
<polyline points="369.7,573.2 381.2,572.5" fill="none" stroke="#0099bb" stroke-width="6.3" stroke-linecap="round" stroke-linejoin="round"/>
<polyline points="395.3,567.4 405.5,565.5" fill="none" stroke="#00f0f0" stroke-width="6.3" stroke-linecap="round" stroke-linejoin="round"/>
<polyline points="400.4,578.3 418.3,563.0" fill="none" stroke="#00bb22" stroke-width="6.3" stroke-linecap="round" stroke-linejoin="round"/>
<polyline points="418.3,563.0 427.2,556.6" fill="none" stroke="#0099bb" stroke-width="6.3" stroke-linecap="round" stroke-linejoin="round"/>
<polyline points="376.1,600.0 382.5,598.8" fill="none" stroke="#00f0f0" stroke-width="6.3" stroke-linecap="round" stroke-linejoin="round"/>
<polyline points="408.1,591.7 418.3,589.8" fill="none" stroke="#00f0f0" stroke-width="6.3" stroke-linecap="round" stroke-linejoin="round"/>
<polyline points="338.4,596.2 339.7,601.3" fill="none" stroke="#00f0f0" stroke-width="6.3" stroke-linecap="round" stroke-linejoin="round"/>
<polyline points="525.0,529.5 528.0,583.2" fill="none" stroke="#00f0f0" stroke-width="6.3" stroke-linecap="round" stroke-linejoin="round"/>
<polyline points="528.0,583.2 529.5,593.6" fill="none" stroke="#0099bb" stroke-width="6.3" stroke-linecap="round" stroke-linejoin="round"/>
<polyline points="529.5,596.6 529.5,602.6" fill="none" stroke="#ff99ee" stroke-width="6.3" stroke-linecap="round" stroke-linejoin="round"/>
<polyline points="529.5,602.6 528.7,614.5" fill="none" stroke="#00f0f0" stroke-width="6.3" stroke-linecap="round" stroke-linejoin="round"/>
<polyline points="528.7,614.5 529.5,620.5" fill="none" stroke="#ff99ee" stroke-width="6.3" stroke-linecap="round" stroke-linejoin="round"/>
<polyline points="531.0,620.5 535.5,629.4" fill="none" stroke="#00f0f0" stroke-width="6.3" stroke-linecap="round" stroke-linejoin="round"/>
<polyline points="535.5,629.4 536.9,641.3" fill="none" stroke="#00bb22" stroke-width="6.3" stroke-linecap="round" stroke-linejoin="round"/>
<polyline points="536.9,641.3 538.4,648.8" fill="none" stroke="#00f0f0" stroke-width="6.3" stroke-linecap="round" stroke-linejoin="round"/>
<polyline points="556.3,603.3 562.3,601.1" fill="none" stroke="#0099bb" stroke-width="6.3" stroke-linecap="round" stroke-linejoin="round"/>
<polyline points="562.3,601.1 577.2,595.1" fill="none" stroke="#00f0f0" stroke-width="6.3" stroke-linecap="round" stroke-linejoin="round"/>
<polyline points="584.7,590.6 590.6,588.4" fill="none" stroke="#00bb22" stroke-width="6.3" stroke-linecap="round" stroke-linejoin="round"/>
<polyline points="595.1,563.8 596.6,583.2" fill="none" stroke="#ff99ee" stroke-width="6.3" stroke-linecap="round" stroke-linejoin="round"/>
<polyline points="596.6,593.6 597.3,598.1" fill="none" stroke="#00bb22" stroke-width="6.3" stroke-linecap="round" stroke-linejoin="round"/>
<polyline points="632.4,592.1 635.4,594.4" fill="none" stroke="#00f0f0" stroke-width="6.3" stroke-linecap="round" stroke-linejoin="round"/>
<polyline points="490.7,633.9 496.7,623.4" fill="none" stroke="#0099bb" stroke-width="6.3" stroke-linecap="round" stroke-linejoin="round"/>
<polyline points="496.7,623.4 502.6,614.5" fill="none" stroke="#00f0f0" stroke-width="6.3" stroke-linecap="round" stroke-linejoin="round"/>
<polyline points="505.6,607.0 510.1,604.1" fill="none" stroke="#00f0f0" stroke-width="6.3" stroke-linecap="round" stroke-linejoin="round"/>
<polyline points="619.0,474.3 622.0,475.8" fill="none" stroke="#00f0f0" stroke-width="6.3" stroke-linecap="round" stroke-linejoin="round"/>
<polyline points="622.0,499.7 624.9,502.6" fill="none" stroke="#00f0f0" stroke-width="6.3" stroke-linecap="round" stroke-linejoin="round"/>
<polyline points="624.9,517.6 627.9,532.5" fill="none" stroke="#0099bb" stroke-width="6.3" stroke-linecap="round" stroke-linejoin="round"/>
<polyline points="553.3,446.0 574.2,448.9" fill="none" stroke="#00f0f0" stroke-width="6.3" stroke-linecap="round" stroke-linejoin="round"/>
<polyline points="571.2,446.0 578.7,457.9" fill="none" stroke="#00f0f0" stroke-width="6.3" stroke-linecap="round" stroke-linejoin="round"/>
<polyline points="453.4,484.7 459.4,480.3" fill="none" stroke="#00f0f0" stroke-width="6.3" stroke-linecap="round" stroke-linejoin="round"/>
<polyline points="499.7,529.5 505.6,547.4" fill="none" stroke="#00f0f0" stroke-width="6.3" stroke-linecap="round" stroke-linejoin="round"/>
<polyline points="559.3,541.4 563.8,542.9" fill="none" stroke="#ff99ee" stroke-width="6.3" stroke-linecap="round" stroke-linejoin="round"/>
<polyline points="616.0,548.9 623.4,551.1" fill="none" stroke="#00f0f0" stroke-width="6.3" stroke-linecap="round" stroke-linejoin="round"/>
<polyline points="393.4,735.5 398.0,735.0" fill="none" stroke="#00f0f0" stroke-width="6.3" stroke-linecap="round" stroke-linejoin="round"/>
<polyline points="459.3,663.9 461.6,668.4" fill="none" stroke="#00f0f0" stroke-width="6.3" stroke-linecap="round" stroke-linejoin="round"/>
<polyline points="569.5,734.3 576.4,735.5" fill="none" stroke="#00f0f0" stroke-width="6.3" stroke-linecap="round" stroke-linejoin="round"/>
<polyline points="465.5,767.3 465.0,777.5" fill="none" stroke="#00f0f0" stroke-width="6.3" stroke-linecap="round" stroke-linejoin="round"/>
<polyline points="408.2,591.8 415.0,590.0" fill="none" stroke="#00f0f0" stroke-width="6.3" stroke-linecap="round" stroke-linejoin="round"/>
<polyline points="367.3,574.1 378.6,573.0" fill="none" stroke="#0099bb" stroke-width="6.3" stroke-linecap="round" stroke-linejoin="round"/>
<polyline points="394.5,566.8 405.9,563.9" fill="none" stroke="#00f0f0" stroke-width="6.3" stroke-linecap="round" stroke-linejoin="round"/>
<polyline points="408.2,620.7 435.5,613.9" fill="none" stroke="#ff99ee" stroke-width="6.3" stroke-linecap="round" stroke-linejoin="round"/>
<polyline points="380.9,625.9 392.3,623.6" fill="none" stroke="#00f0f0" stroke-width="6.3" stroke-linecap="round" stroke-linejoin="round"/>
<polyline points="377.5,640.0 385.5,637.7" fill="none" stroke="#00f0f0" stroke-width="6.3" stroke-linecap="round" stroke-linejoin="round"/>
<polyline points="378.6,641.1 385.5,640.0" fill="none" stroke="#00bb22" stroke-width="6.3" stroke-linecap="round" stroke-linejoin="round"/>
<polyline points="385.5,637.7 408.2,632.0" fill="none" stroke="#0099bb" stroke-width="6.3" stroke-linecap="round" stroke-linejoin="round"/>
<polyline points="401.4,634.3 408.2,632.0" fill="none" stroke="#ff99ee" stroke-width="6.3" stroke-linecap="round" stroke-linejoin="round"/>
<polyline points="413.9,644.5 418.4,658.2" fill="none" stroke="#0099bb" stroke-width="6.3" stroke-linecap="round" stroke-linejoin="round"/>
<polyline points="416.1,662.7 423.0,678.6" fill="none" stroke="#0099bb" stroke-width="6.3" stroke-linecap="round" stroke-linejoin="round"/>
<polyline points="437.7,637.7 443.4,651.4" fill="none" stroke="#0099bb" stroke-width="6.3" stroke-linecap="round" stroke-linejoin="round"/>
<polyline points="487.7,633.2 499.1,617.3" fill="none" stroke="#0099bb" stroke-width="6.3" stroke-linecap="round" stroke-linejoin="round"/>
<polyline points="499.1,617.3 517.3,596.8" fill="none" stroke="#00f0f0" stroke-width="6.3" stroke-linecap="round" stroke-linejoin="round"/>
<polyline points="527.5,608.2 530.9,619.5" fill="none" stroke="#ff99ee" stroke-width="6.3" stroke-linecap="round" stroke-linejoin="round"/>
<polyline points="530.9,619.5 533.2,630.9" fill="none" stroke="#00f0f0" stroke-width="6.3" stroke-linecap="round" stroke-linejoin="round"/>
<polyline points="534.3,630.9 537.7,642.3" fill="none" stroke="#00bb22" stroke-width="6.3" stroke-linecap="round" stroke-linejoin="round"/>
<polyline points="537.3,643.4 538.9,649.1" fill="none" stroke="#00f0f0" stroke-width="6.3" stroke-linecap="round" stroke-linejoin="round"/>
<polyline points="555.9,603.6 571.8,596.8" fill="none" stroke="#00f0f0" stroke-width="6.3" stroke-linecap="round" stroke-linejoin="round"/>
<polyline points="585.5,588.9 590.0,587.7" fill="none" stroke="#00bb22" stroke-width="6.3" stroke-linecap="round" stroke-linejoin="round"/>
<polyline points="594.5,562.7 598.0,583.2" fill="none" stroke="#ff99ee" stroke-width="6.3" stroke-linecap="round" stroke-linejoin="round"/>
<polyline points="595.7,590.0 599.1,599.1" fill="none" stroke="#00bb22" stroke-width="6.3" stroke-linecap="round" stroke-linejoin="round"/>
<polyline points="317.5,660.6 319.1,666.9" fill="none" stroke="#00f0f0" stroke-width="6.3" stroke-linecap="round" stroke-linejoin="round"/>
<polyline points="315.2,666.9 316.7,674.7" fill="none" stroke="#00bb22" stroke-width="6.3" stroke-linecap="round" stroke-linejoin="round"/>
<polyline points="297.2,740.3 312.8,740.3" fill="none" stroke="#00f0f0" stroke-width="6.3" stroke-linecap="round" stroke-linejoin="round"/>
<polyline points="320.6,740.3 336.2,740.3" fill="none" stroke="#0099bb" stroke-width="6.3" stroke-linecap="round" stroke-linejoin="round"/>
<polyline points="394.1,734.8 398.8,734.4" fill="none" stroke="#00f0f0" stroke-width="6.3" stroke-linecap="round" stroke-linejoin="round"/>
<polyline points="202.7,755.9 207.3,770.0" fill="none" stroke="#ff99ee" stroke-width="6.3" stroke-linecap="round" stroke-linejoin="round"/>
<polyline points="211.2,785.6 217.5,798.1" fill="none" stroke="#00f0f0" stroke-width="6.3" stroke-linecap="round" stroke-linejoin="round"/>
<polyline points="273.8,823.1 283.1,819.2" fill="none" stroke="#ff6600" stroke-width="6.3" stroke-linecap="round" stroke-linejoin="round"/>
<polyline points="328.4,755.9 350.3,777.8" fill="none" stroke="#0099bb" stroke-width="6.3" stroke-linecap="round" stroke-linejoin="round"/>
<polyline points="348.8,776.2 351.9,780.9" fill="none" stroke="#00bb22" stroke-width="6.3" stroke-linecap="round" stroke-linejoin="round"/>
<polyline points="323.8,823.1 353.4,799.7" fill="none" stroke="#00f0f0" stroke-width="6.3" stroke-linecap="round" stroke-linejoin="round"/>
<polyline points="326.9,815.3 348.8,802.8" fill="none" stroke="#00f0f0" stroke-width="6.3" stroke-linecap="round" stroke-linejoin="round"/>
<polyline points="355.0,788.8 359.7,787.2" fill="none" stroke="#00f0f0" stroke-width="6.3" stroke-linecap="round" stroke-linejoin="round"/>
<polyline points="375.3,638.8 400.0,632.5" fill="none" stroke="#00f0f0" stroke-width="6.3" stroke-linecap="round" stroke-linejoin="round"/>
<polyline points="378.4,641.9 386.2,642.7" fill="none" stroke="#00bb22" stroke-width="6.3" stroke-linecap="round" stroke-linejoin="round"/>
</g>
<circle cx="110.4" cy="658.4" r="4.3" fill="#000"/>
<circle cx="120.0" cy="649.0" r="4.3" fill="#000"/>
<circle cx="129.6" cy="639.7" r="4.3" fill="#000"/>
<circle cx="139.2" cy="630.3" r="4.3" fill="#000"/>
<circle cx="148.8" cy="620.9" r="4.3" fill="#000"/>
<circle cx="158.4" cy="611.6" r="4.3" fill="#000"/>
<circle cx="168.0" cy="602.2" r="4.3" fill="#000"/>
<circle cx="177.6" cy="592.9" r="4.3" fill="#000"/>
<circle cx="187.2" cy="583.5" r="4.3" fill="#000"/>
<circle cx="196.8" cy="574.1" r="4.3" fill="#000"/>
<circle cx="206.4" cy="564.8" r="4.3" fill="#000"/>
<circle cx="216.0" cy="555.4" r="4.3" fill="#000"/>
<circle cx="303.0" cy="471.0" r="4.3" fill="#000"/>
<circle cx="312.9" cy="461.9" r="4.3" fill="#000"/>
<circle cx="322.8" cy="452.7" r="4.3" fill="#000"/>
<circle cx="332.7" cy="443.6" r="4.3" fill="#000"/>
<circle cx="342.6" cy="434.4" r="4.3" fill="#000"/>
<circle cx="352.4" cy="425.2" r="4.3" fill="#000"/>
<circle cx="362.3" cy="416.1" r="4.3" fill="#000"/>
<circle cx="372.2" cy="407.0" r="4.3" fill="#000"/>
<circle cx="382.1" cy="397.8" r="4.3" fill="#000"/>
<circle cx="441.0" cy="342.4" r="4.3" fill="#000"/>
<circle cx="450.7" cy="333.6" r="4.3" fill="#000"/>
<circle cx="460.3" cy="324.8" r="4.3" fill="#000"/>
<circle cx="470.0" cy="316.0" r="4.3" fill="#000"/>
<line x1="216" y1="555.4" x2="299.5" y2="475.5" stroke="#000" stroke-width="9.5" stroke-linecap="round"/>
<line x1="390.6" y1="389.3" x2="431.8" y2="351.6" stroke="#000" stroke-width="9.5" stroke-linecap="round"/>
<g clip-path="url(#clipR)">
<clipPath id="dc3"><polygon points="1151.6,302.6 1196.1,309.4 1233.0,330.3 1272.5,358.6 1298.3,385.0 1321.3,421.5 1335.7,455.9 1342.3,502.7 1342.5,567.8 1127.5,568.6 1108.5,502.8 1114.7,443.7 1152.9,418.7 1158.2,344.4"/></clipPath><g clip-path="url(#dc3)"><g stroke="#0000f5" stroke-width="6.3" stroke-linecap="round"><path d="M1194.1,515.5 Q1200.7,444.5 1239.7,384.8" fill="none"/><path d="M1106.8,420.1 Q1152.0,443.4 1195.3,470.2" fill="none"/><path d="M1213.3,500.4 Q1256.2,507.4 1292.9,530.9" fill="none"/><path d="M1103.9,539.2 Q1157.0,482.6 1174.1,407.0" fill="none"/><path d="M1153.5,312.1 Q1187.1,324.7 1211.8,350.9" fill="none"/><path d="M1202.1,606.1 Q1207.4,547.0 1239.1,496.9" fill="none"/><path d="M1124.9,314.6 Q1169.6,346.8 1221.6,364.8" fill="none"/><path d="M1325.6,473.1 Q1335.8,508.5 1328.1,544.6" fill="none"/><path d="M1213.3,428.8 Q1253.5,447.5 1283.9,479.8" fill="none"/><path d="M1150.3,371.1 Q1189.0,391.2 1231.1,402.4" fill="none"/><path d="M1217.0,484.3 Q1251.4,518.4 1268.6,563.8" fill="none"/><path d="M1127.8,424.0 Q1155.2,466.5 1181.4,509.7" fill="none"/><path d="M1157.6,415.2 Q1172.0,485.0 1185.4,554.9" fill="none"/><path d="M1194.3,434.0 Q1266.6,448.2 1324.8,493.4" fill="none"/><path d="M1151.4,431.9 Q1192.4,491.1 1230.9,551.8" fill="none"/><path d="M1222.9,371.6 Q1272.0,402.2 1328.8,412.7" fill="none"/><path d="M1256.8,445.5 Q1250.6,510.7 1283.5,567.4" fill="none"/><path d="M1220.3,388.5 Q1251.4,411.2 1286.6,426.4" fill="none"/><path d="M1279.1,546.7 Q1305.6,489.8 1335.9,434.8" fill="none"/><path d="M1223.0,385.6 Q1242.5,437.6 1238.8,493.0" fill="none"/><path d="M1248.1,487.4 Q1265.4,536.1 1254.4,586.7" fill="none"/><path d="M1265.5,439.8 Q1277.6,396.7 1296.0,355.9" fill="none"/><path d="M1131.7,495.6 Q1156.3,546.8 1203.4,578.6" fill="none"/><path d="M1162.0,420.0 Q1186.6,369.3 1196.7,313.9" fill="none"/><path d="M1199.5,368.0 Q1249.9,400.2 1307.4,417.1" fill="none"/><path d="M1232.6,479.8 Q1282.8,513.9 1339.8,534.7" fill="none"/><path d="M1173.9,328.5 Q1232.8,340.7 1269.5,388.4" fill="none"/><path d="M1252.9,429.8 Q1291.3,492.4 1348.9,538.0" fill="none"/><path d="M1313.6,488.8 Q1352.8,544.8 1344.1,612.6" fill="none"/><path d="M1148.5,444.0 Q1172.4,519.1 1235.5,566.2" fill="none"/><path d="M1276.9,363.9 Q1297.0,419.9 1286.4,478.5" fill="none"/><path d="M1150.3,445.1 Q1174.2,477.9 1200.5,509.0" fill="none"/><path d="M1195.4,443.5 Q1221.8,471.9 1259.9,478.7" fill="none"/><path d="M1301.1,559.9 Q1300.7,503.6 1331.3,456.4" fill="none"/><path d="M1253.3,339.7 Q1266.6,393.0 1280.0,446.3" fill="none"/><path d="M1240.2,547.1 Q1268.5,491.6 1266.1,429.3" fill="none"/><path d="M1265.0,387.1 Q1299.0,447.5 1343.3,500.9" fill="none"/><path d="M1161.0,439.1 Q1153.6,494.1 1182.4,541.6" fill="none"/><path d="M1109.8,445.4 Q1165.9,460.5 1217.3,487.8" fill="none"/><path d="M1227.4,480.4 Q1228.2,436.9 1248.4,398.3" fill="none"/><path d="M1295.7,518.8 Q1328.1,543.7 1366.2,558.3" fill="none"/><path d="M1211.0,358.9 Q1213.7,424.3 1249.5,479.0" fill="none"/><path d="M1123.6,557.9 Q1141.6,519.2 1154.3,478.3" fill="none"/><path d="M1184.4,379.9 Q1195.8,444.7 1197.5,510.4" fill="none"/><path d="M1242.6,524.6 Q1305.4,562.8 1375.9,583.2" fill="none"/><path d="M1241.0,439.1 Q1240.1,495.5 1261.9,547.5" fill="none"/><path d="M1179.4,403.8 Q1249.1,417.9 1295.8,471.6" fill="none"/><path d="M1127.1,379.6 Q1151.1,431.1 1182.6,478.4" fill="none"/><path d="M1191.2,338.4 Q1190.5,385.5 1205.8,430.0" fill="none"/><path d="M1154.0,443.5 Q1220.8,460.9 1261.2,516.8" fill="none"/><path d="M1118.6,574.7 Q1145.0,537.1 1154.5,492.1" fill="none"/><path d="M1280.2,493.7 Q1334.1,497.3 1376.8,530.4" fill="none"/><path d="M1254.2,363.4 Q1269.3,424.2 1271.0,486.8" fill="none"/><path d="M1142.6,371.5 Q1155.0,430.6 1154.0,491.0" fill="none"/><path d="M1119.9,464.3 Q1168.4,463.8 1205.1,495.5" fill="none"/><path d="M1166.7,387.2 Q1212.8,420.8 1233.5,474.0" fill="none"/><path d="M1177.8,460.8 Q1220.4,510.0 1253.9,565.9" fill="none"/><path d="M1095.7,501.0 Q1140.2,528.6 1187.4,551.2" fill="none"/><path d="M1139.8,506.4 Q1180.7,544.6 1233.6,563.0" fill="none"/><path d="M1234.3,466.8 Q1257.4,530.7 1259.9,598.6" fill="none"/><path d="M1093.1,492.8 Q1140.8,510.8 1184.6,537.0" fill="none"/><path d="M1219.9,399.5 Q1224.4,350.1 1260.6,316.4" fill="none"/><path d="M1228.5,603.5 Q1254.1,551.1 1254.1,492.7" fill="none"/><path d="M1250.5,425.2 Q1263.9,481.0 1307.7,518.1" fill="none"/><path d="M1202.4,397.0 Q1266.2,429.9 1324.7,471.5" fill="none"/><path d="M1264.0,570.0 Q1292.9,516.7 1319.7,462.3" fill="none"/><path d="M1184.2,384.4 Q1206.9,419.5 1236.5,448.9" fill="none"/><path d="M1172.4,340.7 Q1190.6,408.8 1205.6,477.6" fill="none"/><path d="M1229.6,500.8 Q1235.4,455.8 1261.8,419.0" fill="none"/><path d="M1230.3,591.2 Q1250.0,540.4 1277.4,493.2" fill="none"/><path d="M1136.1,406.9 Q1180.0,354.5 1198.0,288.6" fill="none"/><path d="M1134.2,363.8 Q1188.3,405.8 1212.3,469.9" fill="none"/><path d="M1142.5,457.4 Q1146.7,494.3 1155.1,530.6" fill="none"/><path d="M1126.3,452.6 Q1190.0,470.6 1230.1,523.2" fill="none"/><path d="M1250.6,558.3 Q1266.7,503.9 1280.6,448.8" fill="none"/><path d="M1123.8,536.8 Q1132.4,468.0 1177.7,415.5" fill="none"/><path d="M1154.8,391.9 Q1150.5,465.7 1174.8,535.5" fill="none"/><path d="M1197.9,284.3 Q1190.5,342.3 1203.7,399.2" fill="none"/><path d="M1264.7,444.8 Q1293.2,471.3 1332.2,471.5" fill="none"/><path d="M1243.6,491.1 Q1272.9,433.8 1291.5,372.2" fill="none"/><path d="M1176.5,395.0 Q1200.3,459.5 1252.5,504.2" fill="none"/><path d="M1201.6,300.1 Q1218.5,353.9 1252.5,399.0" fill="none"/><path d="M1223.3,416.2 Q1255.7,479.5 1263.1,550.3" fill="none"/><path d="M1131.7,430.4 Q1164.3,465.5 1211.4,474.6" fill="none"/><path d="M1205.4,459.1 Q1244.6,514.1 1279.7,571.7" fill="none"/><path d="M1154.3,438.2 Q1209.3,440.2 1249.4,477.7" fill="none"/><path d="M1157.3,388.8 Q1165.6,455.6 1196.4,515.6" fill="none"/><path d="M1186.0,515.3 Q1227.9,474.4 1230.4,415.9" fill="none"/><path d="M1161.5,388.2 Q1207.1,420.8 1253.9,451.6" fill="none"/><path d="M1306.9,444.7 Q1308.3,492.0 1316.7,538.6" fill="none"/><path d="M1133.8,462.5 Q1121.4,537.4 1152.8,606.5" fill="none"/><path d="M1157.9,396.8 Q1196.5,449.1 1240.4,497.0" fill="none"/><path d="M1158.8,336.7 Q1174.7,386.9 1186.5,438.2" fill="none"/><path d="M1207.7,579.0 Q1237.8,545.7 1245.6,501.6" fill="none"/><path d="M1238.4,504.8 Q1292.4,557.6 1367.9,559.1" fill="none"/><path d="M1134.3,358.6 Q1166.1,426.6 1223.8,474.6" fill="none"/><path d="M1145.2,359.5 Q1187.1,375.1 1222.1,402.9" fill="none"/><path d="M1228.6,364.5 Q1256.6,393.3 1296.2,399.6" fill="none"/><path d="M1166.1,388.7 Q1242.0,400.3 1303.7,446.0" fill="none"/><path d="M1277.0,468.7 Q1284.8,534.6 1294.3,600.2" fill="none"/><path d="M1229.7,385.8 Q1283.1,429.5 1302.4,495.6" fill="none"/><path d="M1224.3,562.1 Q1251.9,525.2 1248.4,479.3" fill="none"/><path d="M1198.5,483.5 Q1202.3,409.7 1253.9,356.6" fill="none"/><path d="M1263.0,458.1 Q1261.9,513.4 1274.0,567.4" fill="none"/><path d="M1248.5,482.1 Q1293.5,512.6 1345.8,527.6" fill="none"/><path d="M1113.5,456.9 Q1140.3,504.1 1182.9,537.6" fill="none"/><path d="M1248.4,519.2 Q1264.1,557.4 1297.6,581.6" fill="none"/><path d="M1158.0,513.9 Q1187.9,555.8 1226.9,589.4" fill="none"/><path d="M1263.5,487.7 Q1315.4,531.6 1343.1,593.6" fill="none"/><path d="M1195.9,404.7 Q1200.4,459.4 1215.7,512.1" fill="none"/><path d="M1145.7,371.4 Q1187.3,401.5 1207.5,448.6" fill="none"/><path d="M1183.0,398.3 Q1203.4,335.7 1221.9,272.5" fill="none"/><path d="M1178.4,399.6 Q1217.8,441.6 1243.3,493.2" fill="none"/><path d="M1204.7,303.1 Q1221.9,346.9 1227.8,393.5" fill="none"/><path d="M1118.5,461.4 Q1112.8,500.2 1128.3,536.2" fill="none"/><path d="M1181.1,286.4 Q1215.1,339.9 1210.7,403.2" fill="none"/><path d="M1148.1,445.9 Q1182.1,484.1 1214.5,523.6" fill="none"/><path d="M1284.7,373.8 Q1282.4,431.7 1298.2,487.3" fill="none"/><path d="M1169.9,359.0 Q1188.0,404.5 1187.4,453.4" fill="none"/><path d="M1129.9,496.1 Q1185.7,545.3 1256.8,567.0" fill="none"/><path d="M1210.5,463.1 Q1219.6,423.7 1228.2,384.2" fill="none"/><path d="M1243.8,336.3 Q1266.9,378.2 1254.8,424.4" fill="none"/><path d="M1176.2,432.2 Q1184.6,363.5 1232.8,313.9" fill="none"/><path d="M1252.3,438.4 Q1277.8,504.9 1282.7,576.0" fill="none"/><path d="M1287.1,464.4 Q1313.3,523.2 1363.6,563.4" fill="none"/></g><g stroke-width="6.3" stroke-linecap="round"><line x1="1238.0" y1="506.0" x2="1241.4" y2="507.0" stroke="#ff99ee"/><line x1="1145.2" y1="482.9" x2="1146.0" y2="481.5" stroke="#00f0f0"/><line x1="1207.7" y1="571.5" x2="1208.8" y2="566.7" stroke="#00f0f0"/><line x1="1209.9" y1="360.6" x2="1213.8" y2="362.1" stroke="#00f0f0"/><line x1="1134.3" y1="321.2" x2="1136.8" y2="322.9" stroke="#0099bb"/><line x1="1176.6" y1="383.5" x2="1179.4" y2="384.7" stroke="#0099bb"/><line x1="1132.9" y1="431.9" x2="1133.8" y2="433.3" stroke="#00f0f0"/><line x1="1245.9" y1="448.8" x2="1248.1" y2="449.6" stroke="#00f0f0"/><line x1="1240.7" y1="446.9" x2="1244.0" y2="448.1" stroke="#00f0f0"/><line x1="1212.1" y1="438.0" x2="1215.1" y2="438.8" stroke="#0099bb"/><line x1="1220.6" y1="535.6" x2="1221.4" y2="537.0" stroke="#00f0f0"/><line x1="1270.8" y1="541.7" x2="1272.2" y2="545.0" stroke="#00f0f0"/><line x1="1286.3" y1="378.7" x2="1287.9" y2="374.8" stroke="#0099bb"/><line x1="1228.1" y1="384.7" x2="1231.9" y2="386.7" stroke="#0099bb"/><line x1="1237.2" y1="389.5" x2="1239.1" y2="390.4" stroke="#00f0f0"/><line x1="1225.9" y1="348.7" x2="1230.0" y2="351.3" stroke="#0099bb"/><line x1="1267.1" y1="451.5" x2="1269.8" y2="455.3" stroke="#ff99ee"/><line x1="1288.3" y1="479.1" x2="1290.7" y2="482.0" stroke="#0099bb"/><line x1="1268.4" y1="453.2" x2="1271.1" y2="457.0" stroke="#00f0f0"/><line x1="1340.7" y1="547.2" x2="1341.7" y2="551.3" stroke="#0099bb"/><line x1="1184.1" y1="514.6" x2="1186.4" y2="517.8" stroke="#ff99ee"/><line x1="1159.0" y1="456.9" x2="1161.0" y2="459.6" stroke="#ff99ee"/><line x1="1307.7" y1="508.7" x2="1308.2" y2="506.9" stroke="#ff99ee"/><line x1="1322.0" y1="472.4" x2="1322.9" y2="470.7" stroke="#00f0f0"/><line x1="1327.0" y1="480.6" x2="1328.6" y2="482.7" stroke="#0099bb"/><line x1="1278.7" y1="410.5" x2="1281.4" y2="414.8" stroke="#00f0f0"/><line x1="1159.6" y1="461.6" x2="1163.2" y2="463.0" stroke="#0099bb"/><line x1="1315.2" y1="532.6" x2="1317.9" y2="534.3" stroke="#00f0f0"/><line x1="1216.2" y1="400.1" x2="1216.8" y2="402.8" stroke="#ff99ee"/><line x1="1132.3" y1="538.3" x2="1133.1" y2="536.5" stroke="#00f0f0"/><line x1="1189.9" y1="415.1" x2="1190.1" y2="417.0" stroke="#0099bb"/><line x1="1309.0" y1="559.1" x2="1312.1" y2="560.4" stroke="#0099bb"/><line x1="1317.8" y1="562.8" x2="1321.4" y2="564.3" stroke="#ff99ee"/><line x1="1241.8" y1="464.3" x2="1242.2" y2="469.0" stroke="#00f0f0"/><line x1="1146.3" y1="418.0" x2="1147.9" y2="420.9" stroke="#ff99ee"/><line x1="1198.0" y1="402.6" x2="1198.8" y2="406.1" stroke="#00f0f0"/><line x1="1151.1" y1="506.0" x2="1152.2" y2="502.1" stroke="#00f0f0"/><line x1="1292.1" y1="494.9" x2="1295.2" y2="495.3" stroke="#00f0f0"/><line x1="1152.4" y1="439.3" x2="1152.7" y2="443.4" stroke="#00f0f0"/><line x1="1151.1" y1="425.2" x2="1151.5" y2="428.9" stroke="#00f0f0"/><line x1="1164.4" y1="471.4" x2="1166.1" y2="472.1" stroke="#00f0f0"/><line x1="1165.1" y1="471.7" x2="1168.6" y2="473.0" stroke="#00f0f0"/><line x1="1224.8" y1="521.0" x2="1227.6" y2="525.1" stroke="#00f0f0"/><line x1="1209.2" y1="499.6" x2="1210.9" y2="501.9" stroke="#00f0f0"/><line x1="1156.4" y1="520.6" x2="1159.4" y2="523.0" stroke="#00f0f0"/><line x1="1164.6" y1="526.9" x2="1167.1" y2="528.7" stroke="#00f0f0"/><line x1="1258.9" y1="581.1" x2="1259.2" y2="585.2" stroke="#0099bb"/><line x1="1159.5" y1="522.8" x2="1162.5" y2="524.5" stroke="#0099bb"/><line x1="1239.5" y1="577.3" x2="1240.1" y2="575.5" stroke="#00f0f0"/><line x1="1249.4" y1="541.7" x2="1249.7" y2="539.7" stroke="#00f0f0"/><line x1="1263.9" y1="462.5" x2="1265.1" y2="464.9" stroke="#ff99ee"/><line x1="1196.2" y1="436.1" x2="1196.7" y2="438.2" stroke="#00f0f0"/><line x1="1173.0" y1="342.8" x2="1173.8" y2="345.9" stroke="#ff99ee"/><line x1="1253.0" y1="432.5" x2="1255.5" y2="428.4" stroke="#00f0f0"/><line x1="1189.9" y1="314.0" x2="1191.5" y2="309.7" stroke="#00f0f0"/><line x1="1151.0" y1="511.6" x2="1151.9" y2="516.0" stroke="#00f0f0"/><line x1="1259.6" y1="527.3" x2="1260.4" y2="524.5" stroke="#00f0f0"/><line x1="1149.9" y1="455.4" x2="1151.4" y2="452.6" stroke="#0099bb"/><line x1="1137.2" y1="482.9" x2="1137.7" y2="481.4" stroke="#00f0f0"/><line x1="1196.8" y1="294.0" x2="1196.6" y2="296.0" stroke="#0099bb"/><line x1="1196.1" y1="303.1" x2="1195.9" y2="306.0" stroke="#00f0f0"/><line x1="1283.2" y1="458.6" x2="1287.1" y2="460.7" stroke="#00f0f0"/><line x1="1274.7" y1="421.5" x2="1275.9" y2="418.1" stroke="#00f0f0"/><line x1="1253.2" y1="471.5" x2="1254.3" y2="469.2" stroke="#0099bb"/><line x1="1206.9" y1="453.8" x2="1208.5" y2="456.0" stroke="#00f0f0"/><line x1="1226.2" y1="358.1" x2="1227.2" y2="360.0" stroke="#00f0f0"/><line x1="1226.8" y1="489.8" x2="1229.0" y2="493.0" stroke="#00f0f0"/><line x1="1171.1" y1="439.7" x2="1174.5" y2="440.2" stroke="#0099bb"/><line x1="1172.9" y1="459.0" x2="1173.8" y2="462.0" stroke="#ff99ee"/><line x1="1187.9" y1="406.9" x2="1189.3" y2="407.8" stroke="#00f0f0"/><line x1="1313.1" y1="516.2" x2="1313.4" y2="518.5" stroke="#00f0f0"/><line x1="1166.6" y1="408.4" x2="1168.6" y2="411.1" stroke="#00f0f0"/><line x1="1160.2" y1="340.8" x2="1160.6" y2="342.4" stroke="#00f0f0"/><line x1="1257.6" y1="521.5" x2="1261.4" y2="524.3" stroke="#00f0f0"/><line x1="1269.8" y1="530.0" x2="1273.5" y2="532.4" stroke="#00f0f0"/><line x1="1148.1" y1="385.1" x2="1149.4" y2="387.4" stroke="#00f0f0"/><line x1="1186.4" y1="438.4" x2="1188.6" y2="440.8" stroke="#00f0f0"/><line x1="1229.0" y1="364.9" x2="1231.6" y2="367.5" stroke="#00f0f0"/><line x1="1191.2" y1="393.5" x2="1195.7" y2="394.6" stroke="#00f0f0"/><line x1="1281.6" y1="431.1" x2="1284.7" y2="433.0" stroke="#ff99ee"/><line x1="1274.1" y1="434.3" x2="1275.4" y2="436.3" stroke="#ff99ee"/><line x1="1248.5" y1="498.6" x2="1248.6" y2="496.4" stroke="#ff99ee"/><line x1="1214.9" y1="413.3" x2="1216.3" y2="410.2" stroke="#00f0f0"/><line x1="1198.9" y1="476.4" x2="1199.2" y2="473.3" stroke="#00f0f0"/><line x1="1262.9" y1="474.0" x2="1263.0" y2="477.9" stroke="#00f0f0"/><line x1="1135.4" y1="489.9" x2="1137.5" y2="492.5" stroke="#00f0f0"/><line x1="1139.1" y1="494.5" x2="1142.1" y2="498.2" stroke="#00f0f0"/><line x1="1287.3" y1="573.5" x2="1289.5" y2="575.3" stroke="#00f0f0"/><line x1="1190.9" y1="554.5" x2="1194.1" y2="558.0" stroke="#0099bb"/><line x1="1325.2" y1="559.6" x2="1327.5" y2="563.3" stroke="#00f0f0"/><line x1="1197.9" y1="424.8" x2="1198.3" y2="427.6" stroke="#ff99ee"/><line x1="1200.0" y1="440.2" x2="1200.4" y2="442.6" stroke="#00f0f0"/><line x1="1190.8" y1="417.8" x2="1193.4" y2="421.7" stroke="#00f0f0"/><line x1="1204.8" y1="329.6" x2="1205.7" y2="326.6" stroke="#0099bb"/><line x1="1184.2" y1="394.7" x2="1185.0" y2="392.3" stroke="#00f0f0"/><line x1="1229.8" y1="468.1" x2="1231.5" y2="471.0" stroke="#00f0f0"/><line x1="1224.4" y1="371.6" x2="1225.1" y2="375.7" stroke="#00f0f0"/><line x1="1203.7" y1="335.8" x2="1204.6" y2="338.9" stroke="#0099bb"/><line x1="1179.6" y1="482.0" x2="1182.3" y2="485.1" stroke="#00f0f0"/><line x1="1284.4" y1="386.3" x2="1284.4" y2="391.1" stroke="#0099bb"/><line x1="1178.8" y1="385.8" x2="1179.6" y2="388.5" stroke="#0099bb"/><line x1="1184.6" y1="412.8" x2="1185.0" y2="415.6" stroke="#00f0f0"/><line x1="1136.4" y1="501.6" x2="1137.7" y2="502.8" stroke="#0099bb"/><line x1="1218.1" y1="429.5" x2="1218.5" y2="428.0" stroke="#0099bb"/><line x1="1302.1" y1="493.4" x2="1304.3" y2="497.0" stroke="#0099bb"/></g></g>
<g><g stroke="#0000f5" stroke-width="6.3" stroke-linecap="round"><line x1="1075.6" y1="396.1" x2="1125.7" y2="402.9"/><line x1="1036.2" y1="403.4" x2="1113.9" y2="432.8"/><line x1="1026.1" y1="378.8" x2="1107.6" y2="400.5"/><line x1="1050.5" y1="402.7" x2="1133.0" y2="441.2"/><line x1="1052.7" y1="383.5" x2="1140.8" y2="416.4"/><line x1="1119.6" y1="375.7" x2="1186.8" y2="398.5"/><line x1="1075.8" y1="356.4" x2="1126.1" y2="376.4"/><line x1="1096.3" y1="391.7" x2="1160.1" y2="411.3"/><line x1="1069.1" y1="401.3" x2="1157.4" y2="423.9"/><line x1="1028.7" y1="365.6" x2="1108.1" y2="377.5"/><line x1="1034.7" y1="365.1" x2="1115.3" y2="379.5"/><line x1="1049.1" y1="396.6" x2="1147.4" y2="412.0"/><line x1="1040.4" y1="402.1" x2="1086.1" y2="423.4"/><line x1="1104.1" y1="346.2" x2="1172.9" y2="376.2"/><line x1="1022.8" y1="355.3" x2="1086.9" y2="371.7"/><line x1="1111.9" y1="382.4" x2="1180.8" y2="412.2"/><line x1="1057.4" y1="394.4" x2="1113.0" y2="411.2"/><line x1="1122.2" y1="345.9" x2="1181.0" y2="361.0"/></g><g stroke-width="6.3" stroke-linecap="round"><line x1="1061.9" y1="413.1" x2="1064.4" y2="414.1" stroke="#ff99ee"/><line x1="1091.9" y1="362.8" x2="1094.5" y2="363.8" stroke="#00f0f0"/><line x1="1061.4" y1="369.9" x2="1064.1" y2="370.4" stroke="#ff99ee"/></g></g>
<g><g stroke="#0000f5" stroke-width="6.3" stroke-linecap="round"><line x1="1026.6" y1="534.6" x2="1103.1" y2="498.6"/><line x1="1083.0" y1="550.0" x2="1124.7" y2="529.5"/><line x1="1054.7" y1="504.2" x2="1066.3" y2="430.9"/><line x1="1034.8" y1="566.5" x2="1061.5" y2="494.1"/><line x1="1102.7" y1="426.3" x2="1129.5" y2="499.2"/><line x1="1070.4" y1="511.0" x2="1092.0" y2="441.5"/><line x1="1086.5" y1="542.3" x2="1107.5" y2="478.0"/><line x1="1045.6" y1="541.9" x2="1060.3" y2="489.2"/><line x1="1087.2" y1="448.3" x2="1108.9" y2="512.2"/><line x1="1108.6" y1="486.3" x2="1141.4" y2="551.0"/><line x1="1064.0" y1="491.3" x2="1090.8" y2="550.4"/><line x1="1047.1" y1="484.1" x2="1118.3" y2="440.6"/><line x1="1084.9" y1="476.1" x2="1149.2" y2="435.9"/><line x1="1071.7" y1="524.5" x2="1126.7" y2="482.5"/></g><g stroke-width="6.3" stroke-linecap="round"><line x1="1048.9" y1="529.9" x2="1049.8" y2="526.9" stroke="#0099bb"/><line x1="1126.7" y1="449.9" x2="1128.6" y2="448.8" stroke="#00f0f0"/></g></g>
<g><g stroke="#0000f5" stroke-width="6.3" stroke-linecap="round"><line x1="1073.0" y1="647.4" x2="1077.4" y2="607.4"/><line x1="1203.6" y1="577.0" x2="1266.6" y2="597.8"/><line x1="1275.1" y1="648.5" x2="1279.6" y2="592.1"/><line x1="1135.8" y1="587.2" x2="1148.1" y2="543.6"/><line x1="1067.4" y1="593.8" x2="1075.8" y2="648.7"/><line x1="1168.6" y1="634.3" x2="1201.9" y2="614.5"/><line x1="1185.2" y1="550.4" x2="1193.4" y2="584.2"/><line x1="1066.8" y1="628.9" x2="1075.6" y2="581.5"/><line x1="1165.4" y1="594.5" x2="1176.4" y2="638.9"/><line x1="1219.1" y1="626.1" x2="1226.1" y2="586.0"/><line x1="1254.9" y1="591.4" x2="1312.0" y2="603.9"/><line x1="1179.5" y1="618.8" x2="1182.0" y2="566.5"/><line x1="1067.7" y1="601.2" x2="1076.1" y2="532.4"/><line x1="1146.7" y1="551.8" x2="1149.5" y2="612.7"/><line x1="1091.0" y1="634.1" x2="1141.6" y2="600.9"/><line x1="1201.3" y1="648.1" x2="1212.5" y2="585.4"/><line x1="1173.0" y1="651.6" x2="1231.9" y2="617.4"/><line x1="1118.7" y1="600.9" x2="1122.1" y2="533.9"/><line x1="1131.5" y1="647.3" x2="1177.6" y2="624.1"/><line x1="1171.0" y1="594.4" x2="1175.3" y2="537.8"/><line x1="1195.9" y1="599.1" x2="1227.5" y2="608.8"/><line x1="1308.8" y1="532.4" x2="1313.2" y2="595.4"/><line x1="1036.4" y1="657.6" x2="1091.6" y2="615.5"/><line x1="1172.2" y1="610.1" x2="1188.0" y2="677.1"/><line x1="1224.9" y1="570.7" x2="1283.8" y2="545.0"/><line x1="1159.3" y1="602.5" x2="1187.4" y2="580.9"/><line x1="1272.3" y1="658.9" x2="1283.7" y2="596.6"/><line x1="1283.6" y1="557.2" x2="1326.9" y2="570.8"/><line x1="1089.6" y1="619.3" x2="1143.9" y2="647.7"/><line x1="1248.4" y1="550.1" x2="1254.8" y2="612.9"/><line x1="1287.4" y1="582.8" x2="1303.5" y2="643.1"/><line x1="1058.4" y1="588.0" x2="1069.7" y2="540.9"/><line x1="1230.5" y1="579.8" x2="1295.3" y2="604.1"/><line x1="1195.9" y1="548.0" x2="1202.0" y2="597.0"/><line x1="1087.1" y1="607.5" x2="1102.5" y2="666.3"/><line x1="1273.7" y1="591.0" x2="1322.5" y2="568.8"/><line x1="1272.6" y1="600.0" x2="1286.7" y2="549.7"/><line x1="1150.8" y1="566.9" x2="1188.2" y2="550.2"/><line x1="1272.3" y1="596.8" x2="1284.3" y2="557.3"/><line x1="1153.1" y1="542.6" x2="1159.1" y2="594.1"/><line x1="1045.4" y1="607.1" x2="1077.5" y2="615.8"/><line x1="1076.8" y1="607.6" x2="1080.6" y2="660.7"/><line x1="1115.8" y1="623.0" x2="1156.4" y2="593.5"/><line x1="1090.0" y1="589.9" x2="1094.3" y2="621.2"/><line x1="1023.7" y1="556.5" x2="1073.5" y2="570.0"/><line x1="1083.3" y1="552.1" x2="1101.2" y2="618.3"/><line x1="1110.9" y1="631.1" x2="1176.5" y2="648.0"/><line x1="1241.2" y1="605.9" x2="1251.1" y2="568.5"/><line x1="1228.8" y1="563.9" x2="1238.6" y2="601.2"/><line x1="1237.7" y1="608.3" x2="1241.0" y2="660.6"/><line x1="1261.9" y1="549.6" x2="1299.8" y2="565.1"/><line x1="1181.2" y1="599.2" x2="1194.1" y2="545.1"/><line x1="1099.5" y1="562.1" x2="1166.7" y2="576.9"/><line x1="1152.3" y1="593.0" x2="1182.1" y2="579.3"/><line x1="1323.0" y1="586.1" x2="1337.2" y2="540.7"/><line x1="1290.0" y1="590.3" x2="1341.7" y2="601.3"/><line x1="1059.4" y1="595.3" x2="1074.0" y2="537.5"/><line x1="1157.3" y1="585.1" x2="1194.6" y2="601.1"/><line x1="1110.1" y1="599.0" x2="1146.4" y2="614.1"/><line x1="1053.6" y1="630.1" x2="1066.5" y2="566.6"/><line x1="1282.9" y1="571.1" x2="1289.5" y2="608.7"/><line x1="1072.5" y1="539.5" x2="1077.9" y2="591.7"/><line x1="1274.0" y1="594.6" x2="1280.8" y2="643.3"/><line x1="1249.3" y1="558.9" x2="1252.4" y2="593.7"/><line x1="1042.0" y1="640.9" x2="1058.0" y2="582.2"/><line x1="1159.3" y1="626.2" x2="1226.1" y2="645.0"/><line x1="1064.6" y1="626.6" x2="1128.6" y2="646.3"/><line x1="1162.8" y1="596.7" x2="1172.1" y2="626.9"/></g><g stroke-width="6.3" stroke-linecap="round"><line x1="1223.9" y1="583.7" x2="1226.2" y2="584.4" stroke="#0099bb"/><line x1="1277.7" y1="615.4" x2="1277.9" y2="613.5" stroke="#00f0f0"/><line x1="1186.1" y1="553.9" x2="1186.8" y2="557.1" stroke="#0099bb"/><line x1="1148.9" y1="599.6" x2="1149.0" y2="602.1" stroke="#00f0f0"/><line x1="1197.9" y1="637.2" x2="1200.2" y2="635.8" stroke="#0099bb"/><line x1="1120.1" y1="573.9" x2="1120.2" y2="570.5" stroke="#ff99ee"/><line x1="1174.9" y1="543.7" x2="1175.1" y2="540.1" stroke="#0099bb"/><line x1="1180.0" y1="643.2" x2="1181.0" y2="647.4" stroke="#00f0f0"/><line x1="1249.8" y1="564.1" x2="1250.0" y2="565.9" stroke="#00f0f0"/><line x1="1064.5" y1="562.5" x2="1065.3" y2="559.4" stroke="#00f0f0"/><line x1="1238.3" y1="582.7" x2="1242.5" y2="584.3" stroke="#ff99ee"/><line x1="1077.3" y1="614.0" x2="1077.5" y2="617.4" stroke="#00f0f0"/><line x1="1230.8" y1="571.6" x2="1231.4" y2="573.7" stroke="#00f0f0"/><line x1="1238.4" y1="619.1" x2="1238.7" y2="623.5" stroke="#00f0f0"/><line x1="1157.9" y1="585.3" x2="1161.6" y2="586.9" stroke="#00f0f0"/><line x1="1056.0" y1="618.1" x2="1056.4" y2="616.2" stroke="#00f0f0"/><line x1="1074.1" y1="555.3" x2="1074.5" y2="558.8" stroke="#00f0f0"/><line x1="1199.8" y1="637.6" x2="1202.4" y2="638.3" stroke="#00f0f0"/></g></g>
<g><g stroke="#0000f5" stroke-width="6.3" stroke-linecap="round"><line x1="1036.9" y1="521.3" x2="1047.5" y2="600.0"/><line x1="1022.5" y1="581.6" x2="1028.5" y2="631.8"/><line x1="1021.5" y1="660.5" x2="1028.8" y2="718.3"/><line x1="1019.3" y1="612.4" x2="1024.3" y2="664.8"/><line x1="1026.9" y1="629.8" x2="1033.8" y2="707.3"/><line x1="1034.6" y1="648.3" x2="1041.5" y2="707.7"/></g><g stroke-width="6.3" stroke-linecap="round"><line x1="1045.1" y1="582.0" x2="1045.8" y2="587.0" stroke="#00f0f0"/><line x1="1027.2" y1="621.1" x2="1027.7" y2="625.3" stroke="#00f0f0"/><line x1="1030.2" y1="667.0" x2="1030.6" y2="670.7" stroke="#00f0f0"/></g></g>
<polyline points="921.9,357.0 930.5,353.6" fill="none" stroke="#0000f5" stroke-width="6.3" stroke-linecap="round" stroke-linejoin="round"/>
<polyline points="930.5,353.6 939.0,350.2" fill="none" stroke="#0000f5" stroke-width="6.3" stroke-linecap="round" stroke-linejoin="round"/>
<polyline points="998.7,326.4 1007.2,323.0" fill="none" stroke="#0000f5" stroke-width="6.3" stroke-linecap="round" stroke-linejoin="round"/>
<polyline points="1007.2,323.0 1015.7,319.6" fill="none" stroke="#0000f5" stroke-width="6.3" stroke-linecap="round" stroke-linejoin="round"/>
<polyline points="1024.2,316.2 1032.7,312.8" fill="none" stroke="#0000f5" stroke-width="6.3" stroke-linecap="round" stroke-linejoin="round"/>
<polyline points="1032.7,312.8 1041.3,309.4" fill="none" stroke="#0000f5" stroke-width="6.3" stroke-linecap="round" stroke-linejoin="round"/>
<polyline points="947.5,328.2 953.9,345.2" fill="none" stroke="#0000f5" stroke-width="6.3" stroke-linecap="round" stroke-linejoin="round"/>
<polyline points="973.1,317.5 976.3,330.3" fill="none" stroke="#0000f5" stroke-width="6.3" stroke-linecap="round" stroke-linejoin="round"/>
<polyline points="952.8,355.9 956.0,365.5" fill="none" stroke="#0000f5" stroke-width="6.3" stroke-linecap="round" stroke-linejoin="round"/>
<polyline points="1011.4,292.4 1016.8,290.4" fill="none" stroke="#0000f5" stroke-width="6.3" stroke-linecap="round" stroke-linejoin="round"/>
<polyline points="1016.8,290.4 1022.1,288.3" fill="none" stroke="#0000f5" stroke-width="6.3" stroke-linecap="round" stroke-linejoin="round"/>
<polyline points="1022.1,288.3 1027.4,286.3" fill="none" stroke="#0000f5" stroke-width="6.3" stroke-linecap="round" stroke-linejoin="round"/>
<polyline points="1027.4,286.3 1032.7,284.3" fill="none" stroke="#0000f5" stroke-width="6.3" stroke-linecap="round" stroke-linejoin="round"/>
<polyline points="1032.7,284.3 1038.1,282.3" fill="none" stroke="#0000f5" stroke-width="6.3" stroke-linecap="round" stroke-linejoin="round"/>
<polyline points="1038.1,282.3 1043.4,280.2" fill="none" stroke="#0000f5" stroke-width="6.3" stroke-linecap="round" stroke-linejoin="round"/>
<polyline points="1005.0,289.8 1007.2,306.9" fill="none" stroke="#0000f5" stroke-width="6.3" stroke-linecap="round" stroke-linejoin="round"/>
<polyline points="1020.0,281.3 1021.0,289.8" fill="none" stroke="#0000f5" stroke-width="6.3" stroke-linecap="round" stroke-linejoin="round"/>
<polyline points="1005.0,312.2 1060.0,290.9" fill="none" stroke="#0000f5" stroke-width="6.3" stroke-linecap="round" stroke-linejoin="round"/>
<polyline points="1017.8,383.6 1024.2,380.4" fill="none" stroke="#0000f5" stroke-width="6.3" stroke-linecap="round" stroke-linejoin="round"/>
<polyline points="1024.2,380.4 1030.6,377.2" fill="none" stroke="#0000f5" stroke-width="6.3" stroke-linecap="round" stroke-linejoin="round"/>
<polyline points="998.8,420.8 1005.8,417.8" fill="none" stroke="#0000f5" stroke-width="6.3" stroke-linecap="round" stroke-linejoin="round"/>
<polyline points="1005.8,417.8 1012.7,414.8" fill="none" stroke="#0000f5" stroke-width="6.3" stroke-linecap="round" stroke-linejoin="round"/>
<polyline points="1012.7,414.8 1019.7,411.8" fill="none" stroke="#0000f5" stroke-width="6.3" stroke-linecap="round" stroke-linejoin="round"/>
<polyline points="1019.7,411.8 1026.6,408.8" fill="none" stroke="#0000f5" stroke-width="6.3" stroke-linecap="round" stroke-linejoin="round"/>
<polyline points="1026.6,408.8 1033.6,405.8" fill="none" stroke="#0000f5" stroke-width="6.3" stroke-linecap="round" stroke-linejoin="round"/>
<polyline points="1033.6,405.8 1040.5,402.8" fill="none" stroke="#0000f5" stroke-width="6.3" stroke-linecap="round" stroke-linejoin="round"/>
<polyline points="986.0,444.6 992.8,442.0" fill="none" stroke="#0000f5" stroke-width="6.3" stroke-linecap="round" stroke-linejoin="round"/>
<polyline points="992.8,442.0 999.6,439.5" fill="none" stroke="#0000f5" stroke-width="6.3" stroke-linecap="round" stroke-linejoin="round"/>
<polyline points="999.6,439.5 1006.4,436.9" fill="none" stroke="#0000f5" stroke-width="6.3" stroke-linecap="round" stroke-linejoin="round"/>
<polyline points="1006.4,436.9 1013.2,434.4" fill="none" stroke="#0000f5" stroke-width="6.3" stroke-linecap="round" stroke-linejoin="round"/>
<polyline points="1033.7,426.7 1040.5,424.1" fill="none" stroke="#0000f5" stroke-width="6.3" stroke-linecap="round" stroke-linejoin="round"/>
<polyline points="999.3,419.2 1007.6,416.2" fill="none" stroke="#0000f5" stroke-width="6.3" stroke-linecap="round" stroke-linejoin="round"/>
<polyline points="1007.6,416.2 1015.8,413.2" fill="none" stroke="#0000f5" stroke-width="6.3" stroke-linecap="round" stroke-linejoin="round"/>
<polyline points="1024.0,410.2 1032.3,407.2" fill="none" stroke="#0000f5" stroke-width="6.3" stroke-linecap="round" stroke-linejoin="round"/>
<polyline points="1032.3,407.2 1040.5,404.3" fill="none" stroke="#0000f5" stroke-width="6.3" stroke-linecap="round" stroke-linejoin="round"/>
<polyline points="990.8,436.9 997.9,434.1" fill="none" stroke="#0000f5" stroke-width="6.3" stroke-linecap="round" stroke-linejoin="round"/>
<polyline points="997.9,434.1 1005.0,431.2" fill="none" stroke="#0000f5" stroke-width="6.3" stroke-linecap="round" stroke-linejoin="round"/>
<polyline points="1005.0,431.2 1012.1,428.4" fill="none" stroke="#0000f5" stroke-width="6.3" stroke-linecap="round" stroke-linejoin="round"/>
<polyline points="1019.2,425.6 1026.3,422.7" fill="none" stroke="#0000f5" stroke-width="6.3" stroke-linecap="round" stroke-linejoin="round"/>
<polyline points="1033.4,419.9 1040.5,417.0" fill="none" stroke="#0000f5" stroke-width="6.3" stroke-linecap="round" stroke-linejoin="round"/>
<polyline points="939.2,484.8 951.9,477.5" fill="none" stroke="#0000f5" stroke-width="6.3" stroke-linecap="round" stroke-linejoin="round"/>
<polyline points="989.8,455.9 1002.5,448.7" fill="none" stroke="#0000f5" stroke-width="6.3" stroke-linecap="round" stroke-linejoin="round"/>
<polyline points="1002.5,448.7 1015.2,441.4" fill="none" stroke="#0000f5" stroke-width="6.3" stroke-linecap="round" stroke-linejoin="round"/>
<polyline points="1027.8,434.2 1040.5,427.0 1040.5,427.0" fill="none" stroke="#0000f5" stroke-width="6.3" stroke-linecap="round" stroke-linejoin="round"/>
<polyline points="935.2,511.7 943.4,506.5" fill="none" stroke="#0000f5" stroke-width="6.3" stroke-linecap="round" stroke-linejoin="round"/>
<polyline points="943.4,506.5 951.7,501.3" fill="none" stroke="#0000f5" stroke-width="6.3" stroke-linecap="round" stroke-linejoin="round"/>
<polyline points="989.4,493.0 999.8,483.1" fill="none" stroke="#0000f5" stroke-width="6.3" stroke-linecap="round" stroke-linejoin="round"/>
<polyline points="1012.1,476.5 1025.6,471.6" fill="none" stroke="#0000f5" stroke-width="6.3" stroke-linecap="round" stroke-linejoin="round"/>
<polyline points="1021.3,520.9 1030.6,516.5" fill="none" stroke="#0000f5" stroke-width="6.3" stroke-linecap="round" stroke-linejoin="round"/>
<polyline points="995.2,502.4 1001.7,497.5" fill="none" stroke="#0000f5" stroke-width="6.3" stroke-linecap="round" stroke-linejoin="round"/>
<polyline points="1001.7,497.5 1008.2,492.6" fill="none" stroke="#0000f5" stroke-width="6.3" stroke-linecap="round" stroke-linejoin="round"/>
<polyline points="1014.6,487.8 1021.1,482.9" fill="none" stroke="#0000f5" stroke-width="6.3" stroke-linecap="round" stroke-linejoin="round"/>
<polyline points="1034.0,473.1 1040.5,468.2" fill="none" stroke="#0000f5" stroke-width="6.3" stroke-linecap="round" stroke-linejoin="round"/>
<polyline points="1063.6,518.4 1071.8,514.6" fill="none" stroke="#0000f5" stroke-width="6.3" stroke-linecap="round" stroke-linejoin="round"/>
<polyline points="1071.8,514.6 1080.0,510.8" fill="none" stroke="#0000f5" stroke-width="6.3" stroke-linecap="round" stroke-linejoin="round"/>
<polyline points="1058.4,491.9 1063.8,488.8" fill="none" stroke="#0000f5" stroke-width="6.3" stroke-linecap="round" stroke-linejoin="round"/>
<polyline points="1069.2,485.7 1074.6,482.6" fill="none" stroke="#0000f5" stroke-width="6.3" stroke-linecap="round" stroke-linejoin="round"/>
<polyline points="1074.6,482.6 1080.0,479.5" fill="none" stroke="#0000f5" stroke-width="6.3" stroke-linecap="round" stroke-linejoin="round"/>
<polyline points="931.1,576.0 936.8,572.6" fill="none" stroke="#0000f5" stroke-width="6.3" stroke-linecap="round" stroke-linejoin="round"/>
<polyline points="936.8,572.6 942.5,569.2" fill="none" stroke="#0000f5" stroke-width="6.3" stroke-linecap="round" stroke-linejoin="round"/>
<polyline points="942.5,569.2 948.2,565.8" fill="none" stroke="#0000f5" stroke-width="6.3" stroke-linecap="round" stroke-linejoin="round"/>
<polyline points="1022.0,564.5 1031.3,560.4" fill="none" stroke="#0000f5" stroke-width="6.3" stroke-linecap="round" stroke-linejoin="round"/>
<polyline points="1031.3,560.4 1040.5,556.2" fill="none" stroke="#0000f5" stroke-width="6.3" stroke-linecap="round" stroke-linejoin="round"/>
<polyline points="1023.0,579.9 1031.8,575.2" fill="none" stroke="#0000f5" stroke-width="6.3" stroke-linecap="round" stroke-linejoin="round"/>
<polyline points="1031.8,575.2 1040.5,570.5" fill="none" stroke="#0000f5" stroke-width="6.3" stroke-linecap="round" stroke-linejoin="round"/>
<polyline points="1047.6,458.2 1057.6,428.4 1064.7,417.0" fill="none" stroke="#0000f5" stroke-width="6.3" stroke-linecap="round" stroke-linejoin="round"/>
<polyline points="1059.0,434.1 1080.0,444.0" fill="none" stroke="#0000f5" stroke-width="6.3" stroke-linecap="round" stroke-linejoin="round"/>
<polyline points="1002.8,298.4 1009.0,295.1" fill="none" stroke="#0000f5" stroke-width="6.3" stroke-linecap="round" stroke-linejoin="round"/>
<polyline points="1021.3,288.5 1027.5,285.2" fill="none" stroke="#0000f5" stroke-width="6.3" stroke-linecap="round" stroke-linejoin="round"/>
<polyline points="1027.5,285.2 1033.6,281.8" fill="none" stroke="#0000f5" stroke-width="6.3" stroke-linecap="round" stroke-linejoin="round"/>
<polyline points="1033.6,281.8 1039.8,278.5" fill="none" stroke="#0000f5" stroke-width="6.3" stroke-linecap="round" stroke-linejoin="round"/>
<polyline points="1018.5,281.4 1021.3,291.3" fill="none" stroke="#0000f5" stroke-width="6.3" stroke-linecap="round" stroke-linejoin="round"/>
<polyline points="1004.3,294.1 1005.7,308.4" fill="none" stroke="#0000f5" stroke-width="6.3" stroke-linecap="round" stroke-linejoin="round"/>
<polyline points="1000.0,319.7 1007.1,316.4" fill="none" stroke="#0000f5" stroke-width="6.3" stroke-linecap="round" stroke-linejoin="round"/>
<polyline points="1007.1,316.4 1014.2,313.1" fill="none" stroke="#0000f5" stroke-width="6.3" stroke-linecap="round" stroke-linejoin="round"/>
<polyline points="1021.3,309.8 1028.4,306.5" fill="none" stroke="#0000f5" stroke-width="6.3" stroke-linecap="round" stroke-linejoin="round"/>
<polyline points="1028.4,306.5 1035.5,303.1" fill="none" stroke="#0000f5" stroke-width="6.3" stroke-linecap="round" stroke-linejoin="round"/>
<polyline points="1042.6,298.4 1050.3,295.8" fill="none" stroke="#0000f5" stroke-width="6.3" stroke-linecap="round" stroke-linejoin="round"/>
<polyline points="1050.3,295.8 1058.0,293.1" fill="none" stroke="#0000f5" stroke-width="6.3" stroke-linecap="round" stroke-linejoin="round"/>
<polyline points="1058.0,293.1 1065.7,290.5" fill="none" stroke="#0000f5" stroke-width="6.3" stroke-linecap="round" stroke-linejoin="round"/>
<polyline points="1065.7,290.5 1073.5,287.9" fill="none" stroke="#0000f5" stroke-width="6.3" stroke-linecap="round" stroke-linejoin="round"/>
<polyline points="1073.5,287.9 1081.2,285.2" fill="none" stroke="#0000f5" stroke-width="6.3" stroke-linecap="round" stroke-linejoin="round"/>
<polyline points="1088.9,282.6 1096.6,279.9" fill="none" stroke="#0000f5" stroke-width="6.3" stroke-linecap="round" stroke-linejoin="round"/>
<polyline points="1099.4,288.5 1106.5,286.3" fill="none" stroke="#0000f5" stroke-width="6.3" stroke-linecap="round" stroke-linejoin="round"/>
<polyline points="1050.7,279.0 1055.9,278.0" fill="none" stroke="#0000f5" stroke-width="6.3" stroke-linecap="round" stroke-linejoin="round"/>
<polyline points="1055.9,278.0 1061.1,277.1" fill="none" stroke="#0000f5" stroke-width="6.3" stroke-linecap="round" stroke-linejoin="round"/>
<polyline points="1126.1,304.5 1134.3,307.8" fill="none" stroke="#0000f5" stroke-width="6.3" stroke-linecap="round" stroke-linejoin="round"/>
<polyline points="1134.3,307.8 1142.5,311.1" fill="none" stroke="#0000f5" stroke-width="6.3" stroke-linecap="round" stroke-linejoin="round"/>
<polyline points="1167.2,320.9 1175.4,324.1" fill="none" stroke="#0000f5" stroke-width="6.3" stroke-linecap="round" stroke-linejoin="round"/>
<polyline points="1175.4,324.1 1183.6,327.4" fill="none" stroke="#0000f5" stroke-width="6.3" stroke-linecap="round" stroke-linejoin="round"/>
<polyline points="1183.6,327.4 1191.8,330.7" fill="none" stroke="#0000f5" stroke-width="6.3" stroke-linecap="round" stroke-linejoin="round"/>
<polyline points="1191.8,330.7 1200.0,333.9" fill="none" stroke="#0000f5" stroke-width="6.3" stroke-linecap="round" stroke-linejoin="round"/>
<polyline points="1146.3,304.1 1154.8,315.5" fill="none" stroke="#0000f5" stroke-width="6.3" stroke-linecap="round" stroke-linejoin="round"/>
<polyline points="1115.1,318.3 1129.2,324.5" fill="none" stroke="#0000f5" stroke-width="6.3" stroke-linecap="round" stroke-linejoin="round"/>
<polyline points="1129.2,324.5 1143.4,330.6" fill="none" stroke="#0000f5" stroke-width="6.3" stroke-linecap="round" stroke-linejoin="round"/>
<polyline points="1143.4,330.6 1157.5,336.8" fill="none" stroke="#0000f5" stroke-width="6.3" stroke-linecap="round" stroke-linejoin="round"/>
<polyline points="1157.5,336.8 1171.7,342.9" fill="none" stroke="#0000f5" stroke-width="6.3" stroke-linecap="round" stroke-linejoin="round"/>
<polyline points="1171.7,342.9 1185.8,349.1" fill="none" stroke="#0000f5" stroke-width="6.3" stroke-linecap="round" stroke-linejoin="round"/>
<polyline points="1185.8,349.1 1200.0,355.2 1200.0,355.2" fill="none" stroke="#0000f5" stroke-width="6.3" stroke-linecap="round" stroke-linejoin="round"/>
<polyline points="1099.4,335.3 1116.2,342.2" fill="none" stroke="#0000f5" stroke-width="6.3" stroke-linecap="round" stroke-linejoin="round"/>
<polyline points="1116.2,342.2 1133.0,349.1" fill="none" stroke="#0000f5" stroke-width="6.3" stroke-linecap="round" stroke-linejoin="round"/>
<polyline points="1133.0,349.1 1149.7,355.9" fill="none" stroke="#0000f5" stroke-width="6.3" stroke-linecap="round" stroke-linejoin="round"/>
<polyline points="1149.7,355.9 1166.5,362.8" fill="none" stroke="#0000f5" stroke-width="6.3" stroke-linecap="round" stroke-linejoin="round"/>
<polyline points="1166.5,362.8 1183.2,369.7" fill="none" stroke="#0000f5" stroke-width="6.3" stroke-linecap="round" stroke-linejoin="round"/>
<polyline points="1183.2,369.7 1200.0,376.5" fill="none" stroke="#0000f5" stroke-width="6.3" stroke-linecap="round" stroke-linejoin="round"/>
<polyline points="1061.1,339.6 1058.2,345.6" fill="none" stroke="#0000f5" stroke-width="6.3" stroke-linecap="round" stroke-linejoin="round"/>
<polyline points="1055.4,351.5 1052.6,357.5" fill="none" stroke="#0000f5" stroke-width="6.3" stroke-linecap="round" stroke-linejoin="round"/>
<polyline points="1052.6,357.5 1049.7,363.5" fill="none" stroke="#0000f5" stroke-width="6.3" stroke-linecap="round" stroke-linejoin="round"/>
<polyline points="1061.1,362.3 1056.8,372.3" fill="none" stroke="#0000f5" stroke-width="6.3" stroke-linecap="round" stroke-linejoin="round"/>
<polyline points="1017.0,383.6 1021.6,380.8" fill="none" stroke="#0000f5" stroke-width="6.3" stroke-linecap="round" stroke-linejoin="round"/>
<polyline points="1035.2,372.3 1039.8,369.4" fill="none" stroke="#0000f5" stroke-width="6.3" stroke-linecap="round" stroke-linejoin="round"/>
<polyline points="1068.2,358.1 1079.1,361.8" fill="none" stroke="#0000f5" stroke-width="6.3" stroke-linecap="round" stroke-linejoin="round"/>
<polyline points="1079.1,361.8 1090.1,365.5" fill="none" stroke="#0000f5" stroke-width="6.3" stroke-linecap="round" stroke-linejoin="round"/>
<polyline points="1090.1,365.5 1101.0,369.1" fill="none" stroke="#0000f5" stroke-width="6.3" stroke-linecap="round" stroke-linejoin="round"/>
<polyline points="1101.0,369.1 1111.9,372.8" fill="none" stroke="#0000f5" stroke-width="6.3" stroke-linecap="round" stroke-linejoin="round"/>
<polyline points="1111.9,372.8 1122.9,376.5" fill="none" stroke="#0000f5" stroke-width="6.3" stroke-linecap="round" stroke-linejoin="round"/>
<polyline points="1122.9,376.5 1133.8,380.2" fill="none" stroke="#0000f5" stroke-width="6.3" stroke-linecap="round" stroke-linejoin="round"/>
<polyline points="1133.8,380.2 1144.7,383.9" fill="none" stroke="#0000f5" stroke-width="6.3" stroke-linecap="round" stroke-linejoin="round"/>
<polyline points="1046.9,375.1 1063.1,376.3" fill="none" stroke="#0000f5" stroke-width="6.3" stroke-linecap="round" stroke-linejoin="round"/>
<polyline points="1063.1,376.3 1079.3,377.5" fill="none" stroke="#0000f5" stroke-width="6.3" stroke-linecap="round" stroke-linejoin="round"/>
<polyline points="1079.3,377.5 1095.6,378.8" fill="none" stroke="#0000f5" stroke-width="6.3" stroke-linecap="round" stroke-linejoin="round"/>
<polyline points="1095.6,378.8 1111.8,380.0" fill="none" stroke="#0000f5" stroke-width="6.3" stroke-linecap="round" stroke-linejoin="round"/>
<polyline points="1111.8,380.0 1128.0,381.2" fill="none" stroke="#0000f5" stroke-width="6.3" stroke-linecap="round" stroke-linejoin="round"/>
<polyline points="1128.0,381.2 1144.3,382.4" fill="none" stroke="#0000f5" stroke-width="6.3" stroke-linecap="round" stroke-linejoin="round"/>
<polyline points="1144.3,382.4 1160.5,383.6" fill="none" stroke="#0000f5" stroke-width="6.3" stroke-linecap="round" stroke-linejoin="round"/>
<polyline points="1048.3,392.2 1065.3,394.6" fill="none" stroke="#0000f5" stroke-width="6.3" stroke-linecap="round" stroke-linejoin="round"/>
<polyline points="1065.3,394.6 1082.4,397.1" fill="none" stroke="#0000f5" stroke-width="6.3" stroke-linecap="round" stroke-linejoin="round"/>
<polyline points="1082.4,397.1 1099.4,399.6" fill="none" stroke="#0000f5" stroke-width="6.3" stroke-linecap="round" stroke-linejoin="round"/>
<polyline points="1099.4,399.6 1116.5,402.1" fill="none" stroke="#0000f5" stroke-width="6.3" stroke-linecap="round" stroke-linejoin="round"/>
<polyline points="1116.5,402.1 1133.5,404.6" fill="none" stroke="#0000f5" stroke-width="6.3" stroke-linecap="round" stroke-linejoin="round"/>
<polyline points="1133.5,404.6 1150.6,407.1" fill="none" stroke="#0000f5" stroke-width="6.3" stroke-linecap="round" stroke-linejoin="round"/>
<polyline points="1150.6,407.1 1167.6,409.6" fill="none" stroke="#0000f5" stroke-width="6.3" stroke-linecap="round" stroke-linejoin="round"/>
<polyline points="1167.6,409.6 1184.7,412.0" fill="none" stroke="#0000f5" stroke-width="6.3" stroke-linecap="round" stroke-linejoin="round"/>
<polyline points="1000.0,417.7 1008.5,414.9" fill="none" stroke="#0000f5" stroke-width="6.3" stroke-linecap="round" stroke-linejoin="round"/>
<polyline points="1008.5,414.9 1017.0,412.0" fill="none" stroke="#0000f5" stroke-width="6.3" stroke-linecap="round" stroke-linejoin="round"/>
<polyline points="1017.0,412.0 1025.6,409.2" fill="none" stroke="#0000f5" stroke-width="6.3" stroke-linecap="round" stroke-linejoin="round"/>
<polyline points="1025.6,409.2 1034.1,406.4" fill="none" stroke="#0000f5" stroke-width="6.3" stroke-linecap="round" stroke-linejoin="round"/>
<polyline points="1000.0,434.8 1008.5,431.6" fill="none" stroke="#0000f5" stroke-width="6.3" stroke-linecap="round" stroke-linejoin="round"/>
<polyline points="1008.5,431.6 1017.0,428.5" fill="none" stroke="#0000f5" stroke-width="6.3" stroke-linecap="round" stroke-linejoin="round"/>
<polyline points="1025.6,425.4 1034.1,422.3" fill="none" stroke="#0000f5" stroke-width="6.3" stroke-linecap="round" stroke-linejoin="round"/>
<polyline points="1088.1,430.5 1120.7,447.6" fill="none" stroke="#0000f5" stroke-width="6.3" stroke-linecap="round" stroke-linejoin="round"/>
<polyline points="1046.9,458.9 1059.7,430.5" fill="none" stroke="#0000f5" stroke-width="6.3" stroke-linecap="round" stroke-linejoin="round"/>
<polyline points="1078.1,464.6 1086.2,461.8" fill="none" stroke="#0000f5" stroke-width="6.3" stroke-linecap="round" stroke-linejoin="round"/>
<polyline points="1127.6,303.4 1136.4,306.3" fill="none" stroke="#0000f5" stroke-width="6.3" stroke-linecap="round" stroke-linejoin="round"/>
<polyline points="1136.4,306.3 1145.2,309.3" fill="none" stroke="#0000f5" stroke-width="6.3" stroke-linecap="round" stroke-linejoin="round"/>
<polyline points="1162.8,315.1 1171.6,318.1" fill="none" stroke="#0000f5" stroke-width="6.3" stroke-linecap="round" stroke-linejoin="round"/>
<polyline points="1171.6,318.1 1180.4,321.0" fill="none" stroke="#0000f5" stroke-width="6.3" stroke-linecap="round" stroke-linejoin="round"/>
<polyline points="1180.4,321.0 1189.2,323.9" fill="none" stroke="#0000f5" stroke-width="6.3" stroke-linecap="round" stroke-linejoin="round"/>
<polyline points="1146.5,302.6 1155.1,319.7" fill="none" stroke="#0000f5" stroke-width="6.3" stroke-linecap="round" stroke-linejoin="round"/>
<polyline points="1116.7,319.7 1130.1,324.8" fill="none" stroke="#0000f5" stroke-width="6.3" stroke-linecap="round" stroke-linejoin="round"/>
<polyline points="1130.1,324.8 1143.5,330.0" fill="none" stroke="#0000f5" stroke-width="6.3" stroke-linecap="round" stroke-linejoin="round"/>
<polyline points="1143.5,330.0 1156.9,335.2" fill="none" stroke="#0000f5" stroke-width="6.3" stroke-linecap="round" stroke-linejoin="round"/>
<polyline points="1156.9,335.2 1170.3,340.4" fill="none" stroke="#0000f5" stroke-width="6.3" stroke-linecap="round" stroke-linejoin="round"/>
<polyline points="1170.3,340.4 1183.7,345.5" fill="none" stroke="#0000f5" stroke-width="6.3" stroke-linecap="round" stroke-linejoin="round"/>
<polyline points="1183.7,345.5 1197.1,350.7" fill="none" stroke="#0000f5" stroke-width="6.3" stroke-linecap="round" stroke-linejoin="round"/>
<polyline points="1197.1,350.7 1210.5,355.9" fill="none" stroke="#0000f5" stroke-width="6.3" stroke-linecap="round" stroke-linejoin="round"/>
<polyline points="1101.8,334.6 1120.4,341.0" fill="none" stroke="#0000f5" stroke-width="6.3" stroke-linecap="round" stroke-linejoin="round"/>
<polyline points="1120.4,341.0 1138.9,347.4" fill="none" stroke="#0000f5" stroke-width="6.3" stroke-linecap="round" stroke-linejoin="round"/>
<polyline points="1138.9,347.4 1157.5,353.8" fill="none" stroke="#0000f5" stroke-width="6.3" stroke-linecap="round" stroke-linejoin="round"/>
<polyline points="1157.5,353.8 1176.1,360.1" fill="none" stroke="#0000f5" stroke-width="6.3" stroke-linecap="round" stroke-linejoin="round"/>
<polyline points="1176.1,360.1 1194.6,366.5" fill="none" stroke="#0000f5" stroke-width="6.3" stroke-linecap="round" stroke-linejoin="round"/>
<polyline points="1194.6,366.5 1213.2,372.9" fill="none" stroke="#0000f5" stroke-width="6.3" stroke-linecap="round" stroke-linejoin="round"/>
<polyline points="1213.2,372.9 1231.8,379.3" fill="none" stroke="#0000f5" stroke-width="6.3" stroke-linecap="round" stroke-linejoin="round"/>
<polyline points="1069.8,358.0 1086.9,362.9" fill="none" stroke="#0000f5" stroke-width="6.3" stroke-linecap="round" stroke-linejoin="round"/>
<polyline points="1086.9,362.9 1103.9,367.8" fill="none" stroke="#0000f5" stroke-width="6.3" stroke-linecap="round" stroke-linejoin="round"/>
<polyline points="1103.9,367.8 1121.0,372.6" fill="none" stroke="#0000f5" stroke-width="6.3" stroke-linecap="round" stroke-linejoin="round"/>
<polyline points="1121.0,372.6 1138.0,377.5" fill="none" stroke="#0000f5" stroke-width="6.3" stroke-linecap="round" stroke-linejoin="round"/>
<polyline points="1138.0,377.5 1155.1,382.4" fill="none" stroke="#0000f5" stroke-width="6.3" stroke-linecap="round" stroke-linejoin="round"/>
<polyline points="1155.1,382.4 1172.1,387.2" fill="none" stroke="#0000f5" stroke-width="6.3" stroke-linecap="round" stroke-linejoin="round"/>
<polyline points="1172.1,387.2 1189.2,392.1" fill="none" stroke="#0000f5" stroke-width="6.3" stroke-linecap="round" stroke-linejoin="round"/>
<polyline points="1078.4,464.6 1089.0,461.4" fill="none" stroke="#0000f5" stroke-width="6.3" stroke-linecap="round" stroke-linejoin="round"/>
<polyline points="1099.7,458.2 1110.3,455.0" fill="none" stroke="#0000f5" stroke-width="6.3" stroke-linecap="round" stroke-linejoin="round"/>
<polyline points="1110.3,455.0 1121.0,451.8" fill="none" stroke="#0000f5" stroke-width="6.3" stroke-linecap="round" stroke-linejoin="round"/>
<polyline points="1087.9,475.2 1095.9,469.9" fill="none" stroke="#0000f5" stroke-width="6.3" stroke-linecap="round" stroke-linejoin="round"/>
<polyline points="1095.9,469.9 1103.9,464.6" fill="none" stroke="#0000f5" stroke-width="6.3" stroke-linecap="round" stroke-linejoin="round"/>
<polyline points="1073.0,515.2 1082.6,511.4" fill="none" stroke="#0000f5" stroke-width="6.3" stroke-linecap="round" stroke-linejoin="round"/>
<polyline points="1196.6,415.6 1202.5,410.2" fill="none" stroke="#0000f5" stroke-width="6.3" stroke-linecap="round" stroke-linejoin="round"/>
<polyline points="1044.3,740.3 1084.7,738.2" fill="none" stroke="#0000f5" stroke-width="6.3" stroke-linecap="round" stroke-linejoin="round"/>
<polyline points="1084.7,738.2 1105.2,724.7" fill="none" stroke="#0000f5" stroke-width="6.3" stroke-linecap="round" stroke-linejoin="round"/>
<polyline points="1105.2,724.7 1125.7,711.3" fill="none" stroke="#0000f5" stroke-width="6.3" stroke-linecap="round" stroke-linejoin="round"/>
<polyline points="1125.7,711.3 1146.2,697.8" fill="none" stroke="#0000f5" stroke-width="6.3" stroke-linecap="round" stroke-linejoin="round"/>
<polyline points="1146.2,697.8 1159.3,689.2 1166.9,684.8" fill="none" stroke="#0000f5" stroke-width="6.3" stroke-linecap="round" stroke-linejoin="round"/>
<polyline points="1166.9,684.8 1188.3,672.7" fill="none" stroke="#0000f5" stroke-width="6.3" stroke-linecap="round" stroke-linejoin="round"/>
<polyline points="1188.3,672.7 1209.6,660.6" fill="none" stroke="#0000f5" stroke-width="6.3" stroke-linecap="round" stroke-linejoin="round"/>
<polyline points="1209.6,660.6 1230.9,648.5" fill="none" stroke="#0000f5" stroke-width="6.3" stroke-linecap="round" stroke-linejoin="round"/>
<polyline points="1230.9,648.5 1252.2,636.4" fill="none" stroke="#0000f5" stroke-width="6.3" stroke-linecap="round" stroke-linejoin="round"/>
<polyline points="1252.2,636.4 1253.1,635.9 1273.8,624.9" fill="none" stroke="#0000f5" stroke-width="6.3" stroke-linecap="round" stroke-linejoin="round"/>
<polyline points="1273.8,624.9 1295.4,613.3" fill="none" stroke="#0000f5" stroke-width="6.3" stroke-linecap="round" stroke-linejoin="round"/>
<polyline points="1295.4,613.3 1317.0,601.8" fill="none" stroke="#0000f5" stroke-width="6.3" stroke-linecap="round" stroke-linejoin="round"/>
<polyline points="1044.3,780.8 1058.0,775.0" fill="none" stroke="#0000f5" stroke-width="6.3" stroke-linecap="round" stroke-linejoin="round"/>
<polyline points="1058.0,775.0 1071.7,769.1" fill="none" stroke="#0000f5" stroke-width="6.3" stroke-linecap="round" stroke-linejoin="round"/>
<polyline points="1071.7,769.1 1085.4,763.3" fill="none" stroke="#0000f5" stroke-width="6.3" stroke-linecap="round" stroke-linejoin="round"/>
<polyline points="1099.2,757.5 1112.9,751.6" fill="none" stroke="#0000f5" stroke-width="6.3" stroke-linecap="round" stroke-linejoin="round"/>
<polyline points="1112.9,751.6 1126.6,745.8" fill="none" stroke="#0000f5" stroke-width="6.3" stroke-linecap="round" stroke-linejoin="round"/>
<polyline points="1126.6,745.8 1129.5,744.6 1139.8,738.9" fill="none" stroke="#0000f5" stroke-width="6.3" stroke-linecap="round" stroke-linejoin="round"/>
<polyline points="1139.8,738.9 1152.9,731.8" fill="none" stroke="#0000f5" stroke-width="6.3" stroke-linecap="round" stroke-linejoin="round"/>
<polyline points="1044.3,789.3 1074.1,774.4" fill="none" stroke="#0000f5" stroke-width="6.3" stroke-linecap="round" stroke-linejoin="round"/>
<polyline points="1204.1,721.1 1312.7,646.5" fill="none" stroke="#0000f5" stroke-width="6.3" stroke-linecap="round" stroke-linejoin="round"/>
<polyline points="1270.1,625.2 1325.5,593.3" fill="none" stroke="#0000f5" stroke-width="6.3" stroke-linecap="round" stroke-linejoin="round"/>
<polyline points="1153.5,615.8 1171.3,609.9" fill="none" stroke="#0000f5" stroke-width="6.3" stroke-linecap="round" stroke-linejoin="round"/>
<polyline points="1171.3,609.9 1189.2,603.9" fill="none" stroke="#0000f5" stroke-width="6.3" stroke-linecap="round" stroke-linejoin="round"/>
<polyline points="1069.1,569.8 1080.5,567.7" fill="none" stroke="#0000f5" stroke-width="6.3" stroke-linecap="round" stroke-linejoin="round"/>
<polyline points="1080.5,567.7 1091.9,565.6" fill="none" stroke="#0000f5" stroke-width="6.3" stroke-linecap="round" stroke-linejoin="round"/>
<polyline points="1091.9,565.6 1103.2,563.4" fill="none" stroke="#0000f5" stroke-width="6.3" stroke-linecap="round" stroke-linejoin="round"/>
<polyline points="1103.2,563.4 1114.6,561.3" fill="none" stroke="#0000f5" stroke-width="6.3" stroke-linecap="round" stroke-linejoin="round"/>
<polyline points="1317.3,574.6 1327.7,569.8" fill="none" stroke="#0000f5" stroke-width="6.3" stroke-linecap="round" stroke-linejoin="round"/>
<polyline points="1274.4,593.3 1325.5,578.4" fill="none" stroke="#0000f5" stroke-width="6.3" stroke-linecap="round" stroke-linejoin="round"/>
<polyline points="1074.1,650.8 1076.2,693.4" fill="none" stroke="#0000f5" stroke-width="6.3" stroke-linecap="round" stroke-linejoin="round"/>
<polyline points="1084.7,657.2 1091.1,721.1" fill="none" stroke="#0000f5" stroke-width="6.3" stroke-linecap="round" stroke-linejoin="round"/>
<polyline points="1129.5,599.7 1129.5,742.4" fill="none" stroke="#0000f5" stroke-width="6.3" stroke-linecap="round" stroke-linejoin="round"/>
<polyline points="1129.5,642.3 1140.1,699.8" fill="none" stroke="#0000f5" stroke-width="6.3" stroke-linecap="round" stroke-linejoin="round"/>
<polyline points="1114.6,721.1 1118.8,738.2" fill="none" stroke="#0000f5" stroke-width="6.3" stroke-linecap="round" stroke-linejoin="round"/>
<polyline points="1167.8,646.5 1180.6,708.3" fill="none" stroke="#0000f5" stroke-width="6.3" stroke-linecap="round" stroke-linejoin="round"/>
<polyline points="1189.2,614.6 1201.9,650.8" fill="none" stroke="#0000f5" stroke-width="6.3" stroke-linecap="round" stroke-linejoin="round"/>
<polyline points="1206.2,646.5 1212.6,706.2" fill="none" stroke="#0000f5" stroke-width="6.3" stroke-linecap="round" stroke-linejoin="round"/>
<polyline points="1208.3,646.5 1214.7,706.2" fill="none" stroke="#0000f5" stroke-width="6.3" stroke-linecap="round" stroke-linejoin="round"/>
<polyline points="1223.3,614.6 1224.7,627.0" fill="none" stroke="#0000f5" stroke-width="6.3" stroke-linecap="round" stroke-linejoin="round"/>
<polyline points="1224.7,627.0 1226.1,639.4" fill="none" stroke="#0000f5" stroke-width="6.3" stroke-linecap="round" stroke-linejoin="round"/>
<polyline points="1230.4,676.7 1231.8,689.2" fill="none" stroke="#0000f5" stroke-width="6.3" stroke-linecap="round" stroke-linejoin="round"/>
<polyline points="1231.8,667.8 1238.2,746.7" fill="none" stroke="#0000f5" stroke-width="6.3" stroke-linecap="round" stroke-linejoin="round"/>
<polyline points="1248.8,614.6 1263.7,721.1" fill="none" stroke="#0000f5" stroke-width="6.3" stroke-linecap="round" stroke-linejoin="round"/>
<polyline points="1282.9,635.9 1287.2,667.8" fill="none" stroke="#0000f5" stroke-width="6.3" stroke-linecap="round" stroke-linejoin="round"/>
<polyline points="1300.0,638.0 1297.8,680.6" fill="none" stroke="#0000f5" stroke-width="6.3" stroke-linecap="round" stroke-linejoin="round"/>
<polyline points="1144.4,748.8 1155.1,770.1 1159.3,751.0" fill="none" stroke="#0000f5" stroke-width="6.3" stroke-linecap="round" stroke-linejoin="round"/>
<polyline points="1167.8,729.6 1176.4,748.8" fill="none" stroke="#0000f5" stroke-width="6.3" stroke-linecap="round" stroke-linejoin="round"/>
<polyline points="1210.5,729.6 1213.7,737.1" fill="none" stroke="#0000f5" stroke-width="6.3" stroke-linecap="round" stroke-linejoin="round"/>
<polyline points="1248.8,727.5 1251.0,733.9" fill="none" stroke="#0000f5" stroke-width="6.3" stroke-linecap="round" stroke-linejoin="round"/>
<polyline points="1082.6,808.5 1089.7,818.4" fill="none" stroke="#0000f5" stroke-width="6.3" stroke-linecap="round" stroke-linejoin="round"/>
<polyline points="1096.8,828.4 1103.9,838.3" fill="none" stroke="#0000f5" stroke-width="6.3" stroke-linecap="round" stroke-linejoin="round"/>
<polyline points="1052.8,797.8 1074.1,838.3" fill="none" stroke="#0000f5" stroke-width="6.3" stroke-linecap="round" stroke-linejoin="round"/>
<polyline points="1052.8,683.8 1053.9,694.0" fill="none" stroke="#0000f5" stroke-width="6.3" stroke-linecap="round" stroke-linejoin="round"/>
<polyline points="1069.8,603.9 1069.8,646.5" fill="none" stroke="#0000f5" stroke-width="6.3" stroke-linecap="round" stroke-linejoin="round"/>
<polyline points="1069.8,723.8 1078.4,723.3" fill="none" stroke="#0000f5" stroke-width="6.3" stroke-linecap="round" stroke-linejoin="round"/>
<polyline points="928.0,578.4 935.3,574.1" fill="none" stroke="#0000f5" stroke-width="6.3" stroke-linecap="round" stroke-linejoin="round"/>
<polyline points="935.3,574.1 942.6,569.8" fill="none" stroke="#0000f5" stroke-width="6.3" stroke-linecap="round" stroke-linejoin="round"/>
<polyline points="942.6,569.8 949.9,565.6" fill="none" stroke="#0000f5" stroke-width="6.3" stroke-linecap="round" stroke-linejoin="round"/>
<polyline points="957.3,561.3 964.6,557.0" fill="none" stroke="#0000f5" stroke-width="6.3" stroke-linecap="round" stroke-linejoin="round"/>
<polyline points="936.9,576.2 945.9,571.4" fill="none" stroke="#0000f5" stroke-width="6.3" stroke-linecap="round" stroke-linejoin="round"/>
<polyline points="945.9,571.4 955.0,566.6" fill="none" stroke="#0000f5" stroke-width="6.3" stroke-linecap="round" stroke-linejoin="round"/>
<polyline points="964.0,561.8 973.1,557.0" fill="none" stroke="#0000f5" stroke-width="6.3" stroke-linecap="round" stroke-linejoin="round"/>
<polyline points="957.5,593.6 967.4,587.6" fill="none" stroke="#0000f5" stroke-width="6.3" stroke-linecap="round" stroke-linejoin="round"/>
<polyline points="987.3,575.5 997.2,569.5" fill="none" stroke="#0000f5" stroke-width="6.3" stroke-linecap="round" stroke-linejoin="round"/>
<polyline points="997.2,569.5 1007.2,563.4" fill="none" stroke="#0000f5" stroke-width="6.3" stroke-linecap="round" stroke-linejoin="round"/>
<polyline points="1011.4,633.8 1009.9,641.7" fill="none" stroke="#0000f5" stroke-width="6.3" stroke-linecap="round" stroke-linejoin="round"/>
<polyline points="1009.9,641.7 1008.4,649.6" fill="none" stroke="#0000f5" stroke-width="6.3" stroke-linecap="round" stroke-linejoin="round"/>
<polyline points="1008.4,649.6 1006.9,657.5" fill="none" stroke="#0000f5" stroke-width="6.3" stroke-linecap="round" stroke-linejoin="round"/>
<polyline points="1002.3,681.2 1000.8,689.2" fill="none" stroke="#0000f5" stroke-width="6.3" stroke-linecap="round" stroke-linejoin="round"/>
<polyline points="1030.6,635.9 1031.3,645.8" fill="none" stroke="#0000f5" stroke-width="6.3" stroke-linecap="round" stroke-linejoin="round"/>
<polyline points="1032.7,665.7 1033.5,675.7" fill="none" stroke="#0000f5" stroke-width="6.3" stroke-linecap="round" stroke-linejoin="round"/>
<polyline points="1033.5,675.7 1034.2,685.6" fill="none" stroke="#0000f5" stroke-width="6.3" stroke-linecap="round" stroke-linejoin="round"/>
<polyline points="964.7,692.0 960.7,701.1" fill="none" stroke="#0000f5" stroke-width="6.3" stroke-linecap="round" stroke-linejoin="round"/>
<polyline points="826.1,726.4 833.3,725.6" fill="none" stroke="#0000f5" stroke-width="6.3" stroke-linecap="round" stroke-linejoin="round"/>
<polyline points="855.2,722.9 862.5,722.0" fill="none" stroke="#0000f5" stroke-width="6.3" stroke-linecap="round" stroke-linejoin="round"/>
<polyline points="862.5,722.0 869.7,721.1" fill="none" stroke="#0000f5" stroke-width="6.3" stroke-linecap="round" stroke-linejoin="round"/>
<polyline points="871.6,757.2 878.8,756.0" fill="none" stroke="#0000f5" stroke-width="6.3" stroke-linecap="round" stroke-linejoin="round"/>
<polyline points="878.8,756.0 886.0,754.8" fill="none" stroke="#0000f5" stroke-width="6.3" stroke-linecap="round" stroke-linejoin="round"/>
<polyline points="914.8,750.0 921.9,748.8" fill="none" stroke="#0000f5" stroke-width="6.3" stroke-linecap="round" stroke-linejoin="round"/>
<polyline points="897.0,769.2 899.4,776.2" fill="none" stroke="#0000f5" stroke-width="6.3" stroke-linecap="round" stroke-linejoin="round"/>
<polyline points="899.4,776.2 901.9,783.2" fill="none" stroke="#0000f5" stroke-width="6.3" stroke-linecap="round" stroke-linejoin="round"/>
<polyline points="901.9,783.2 904.3,790.2" fill="none" stroke="#0000f5" stroke-width="6.3" stroke-linecap="round" stroke-linejoin="round"/>
<polyline points="1004.4,742.7 1013.7,742.3" fill="none" stroke="#0000f5" stroke-width="6.3" stroke-linecap="round" stroke-linejoin="round"/>
<polyline points="1032.2,741.5 1041.5,741.1" fill="none" stroke="#0000f5" stroke-width="6.3" stroke-linecap="round" stroke-linejoin="round"/>
<polyline points="1041.5,741.1 1050.8,740.7" fill="none" stroke="#0000f5" stroke-width="6.3" stroke-linecap="round" stroke-linejoin="round"/>
<polyline points="1050.8,740.7 1060.0,740.3" fill="none" stroke="#0000f5" stroke-width="6.3" stroke-linecap="round" stroke-linejoin="round"/>
<polyline points="948.9,801.1 958.9,798.1" fill="none" stroke="#0000f5" stroke-width="6.3" stroke-linecap="round" stroke-linejoin="round"/>
<polyline points="958.9,798.1 968.8,795.0" fill="none" stroke="#0000f5" stroke-width="6.3" stroke-linecap="round" stroke-linejoin="round"/>
<polyline points="968.8,795.0 978.8,791.9" fill="none" stroke="#0000f5" stroke-width="6.3" stroke-linecap="round" stroke-linejoin="round"/>
<polyline points="1008.6,782.7 1018.5,779.6" fill="none" stroke="#0000f5" stroke-width="6.3" stroke-linecap="round" stroke-linejoin="round"/>
<polyline points="1018.5,779.6 1028.5,776.5" fill="none" stroke="#0000f5" stroke-width="6.3" stroke-linecap="round" stroke-linejoin="round"/>
<polyline points="998.7,804.5 1009.3,801.2" fill="none" stroke="#0000f5" stroke-width="6.3" stroke-linecap="round" stroke-linejoin="round"/>
<polyline points="1009.3,801.2 1020.0,797.8" fill="none" stroke="#0000f5" stroke-width="6.3" stroke-linecap="round" stroke-linejoin="round"/>
<polyline points="998.7,836.2 1007.2,810.6" fill="none" stroke="#0000f5" stroke-width="6.3" stroke-linecap="round" stroke-linejoin="round"/>
<polyline points="998.2,833.5 1006.7,810.8" fill="none" stroke="#0000f5" stroke-width="6.3" stroke-linecap="round" stroke-linejoin="round"/>
<polyline points="1015.2,836.4 1040.8,834.2" fill="none" stroke="#0000f5" stroke-width="6.3" stroke-linecap="round" stroke-linejoin="round"/>
<polyline points="1043.6,836.4 1066.4,827.8" fill="none" stroke="#0000f5" stroke-width="6.3" stroke-linecap="round" stroke-linejoin="round"/>
<polyline points="1043.6,802.3 1072.0,788.1" fill="none" stroke="#0000f5" stroke-width="6.3" stroke-linecap="round" stroke-linejoin="round"/>
<polyline points="1046.5,810.8 1072.0,793.8" fill="none" stroke="#0000f5" stroke-width="6.3" stroke-linecap="round" stroke-linejoin="round"/>
<polyline points="1055.0,799.4 1058.8,805.6" fill="none" stroke="#0000f5" stroke-width="6.3" stroke-linecap="round" stroke-linejoin="round"/>
<polyline points="1058.8,805.6 1062.6,811.7" fill="none" stroke="#0000f5" stroke-width="6.3" stroke-linecap="round" stroke-linejoin="round"/>
<polyline points="1062.6,811.7 1066.4,817.9" fill="none" stroke="#0000f5" stroke-width="6.3" stroke-linecap="round" stroke-linejoin="round"/>
<polyline points="1066.4,817.9 1070.2,824.1" fill="none" stroke="#0000f5" stroke-width="6.3" stroke-linecap="round" stroke-linejoin="round"/>
<polyline points="1073.9,830.2 1077.7,836.4" fill="none" stroke="#0000f5" stroke-width="6.3" stroke-linecap="round" stroke-linejoin="round"/>
<polyline points="1057.8,805.1 1064.9,840.6" fill="none" stroke="#0000f5" stroke-width="6.3" stroke-linecap="round" stroke-linejoin="round"/>
<polyline points="1032.3,785.2 1040.8,788.1" fill="none" stroke="#0000f5" stroke-width="6.3" stroke-linecap="round" stroke-linejoin="round"/>
<polyline points="939.0,350.2 947.5,346.8" fill="none" stroke="#00f0f0" stroke-width="6.3" stroke-linecap="round" stroke-linejoin="round"/>
<polyline points="947.5,346.8 956.0,343.4" fill="none" stroke="#00f0f0" stroke-width="6.3" stroke-linecap="round" stroke-linejoin="round"/>
<polyline points="956.0,343.4 964.6,340.0" fill="none" stroke="#0099bb" stroke-width="6.3" stroke-linecap="round" stroke-linejoin="round"/>
<polyline points="964.6,340.0 973.1,336.6" fill="none" stroke="#0099bb" stroke-width="6.3" stroke-linecap="round" stroke-linejoin="round"/>
<polyline points="973.1,336.6 981.6,333.2" fill="none" stroke="#c0f000" stroke-width="6.3" stroke-linecap="round" stroke-linejoin="round"/>
<polyline points="981.6,333.2 990.1,329.8" fill="none" stroke="#c0f000" stroke-width="6.3" stroke-linecap="round" stroke-linejoin="round"/>
<polyline points="990.1,329.8 998.7,326.4" fill="none" stroke="#00bb22" stroke-width="6.3" stroke-linecap="round" stroke-linejoin="round"/>
<polyline points="1015.7,319.6 1024.2,316.2" fill="none" stroke="#ff99ee" stroke-width="6.3" stroke-linecap="round" stroke-linejoin="round"/>
<polyline points="1041.3,309.4 1049.8,306.0" fill="none" stroke="#c0f000" stroke-width="6.3" stroke-linecap="round" stroke-linejoin="round"/>
<polyline points="1049.8,306.0 1058.3,302.6" fill="none" stroke="#c0f000" stroke-width="6.3" stroke-linecap="round" stroke-linejoin="round"/>
<polyline points="950.7,339.9 954.3,346.3" fill="none" stroke="#00f0f0" stroke-width="6.3" stroke-linecap="round" stroke-linejoin="round"/>
<polyline points="955.0,363.3 957.1,366.5" fill="none" stroke="#00f0f0" stroke-width="6.3" stroke-linecap="round" stroke-linejoin="round"/>
<polyline points="974.1,357.6 977.3,360.1" fill="none" stroke="#00f0f0" stroke-width="6.3" stroke-linecap="round" stroke-linejoin="round"/>
<polyline points="990.1,300.5 995.5,298.5" fill="none" stroke="#00f0f0" stroke-width="6.3" stroke-linecap="round" stroke-linejoin="round"/>
<polyline points="995.5,298.5 1000.8,296.4" fill="none" stroke="#00f0f0" stroke-width="6.3" stroke-linecap="round" stroke-linejoin="round"/>
<polyline points="1000.8,296.4 1006.1,294.4" fill="none" stroke="#00f0f0" stroke-width="6.3" stroke-linecap="round" stroke-linejoin="round"/>
<polyline points="1006.1,294.4 1011.4,292.4" fill="none" stroke="#00f0f0" stroke-width="6.3" stroke-linecap="round" stroke-linejoin="round"/>
<polyline points="1030.6,377.2 1037.0,374.0" fill="none" stroke="#ff99ee" stroke-width="6.3" stroke-linecap="round" stroke-linejoin="round"/>
<polyline points="1037.0,374.0 1043.4,370.8" fill="none" stroke="#0099bb" stroke-width="6.3" stroke-linecap="round" stroke-linejoin="round"/>
<polyline points="978.0,429.8 985.0,426.8" fill="none" stroke="#c0f000" stroke-width="6.3" stroke-linecap="round" stroke-linejoin="round"/>
<polyline points="985.0,426.8 991.9,423.8" fill="none" stroke="#00bb22" stroke-width="6.3" stroke-linecap="round" stroke-linejoin="round"/>
<polyline points="991.9,423.8 998.8,420.8" fill="none" stroke="#0099bb" stroke-width="6.3" stroke-linecap="round" stroke-linejoin="round"/>
<polyline points="972.3,449.7 979.1,447.2" fill="none" stroke="#00bb22" stroke-width="6.3" stroke-linecap="round" stroke-linejoin="round"/>
<polyline points="979.1,447.2 986.0,444.6" fill="none" stroke="#00bb22" stroke-width="6.3" stroke-linecap="round" stroke-linejoin="round"/>
<polyline points="1013.2,434.4 1020.1,431.8" fill="none" stroke="#00f0f0" stroke-width="6.3" stroke-linecap="round" stroke-linejoin="round"/>
<polyline points="1020.1,431.8 1026.9,429.3" fill="none" stroke="#00f0f0" stroke-width="6.3" stroke-linecap="round" stroke-linejoin="round"/>
<polyline points="1026.9,429.3 1033.7,426.7" fill="none" stroke="#0099bb" stroke-width="6.3" stroke-linecap="round" stroke-linejoin="round"/>
<polyline points="1015.8,413.2 1024.0,410.2" fill="none" stroke="#00f0f0" stroke-width="6.3" stroke-linecap="round" stroke-linejoin="round"/>
<polyline points="1012.1,428.4 1019.2,425.6" fill="none" stroke="#00f0f0" stroke-width="6.3" stroke-linecap="round" stroke-linejoin="round"/>
<polyline points="1026.3,422.7 1033.4,419.9" fill="none" stroke="#0099bb" stroke-width="6.3" stroke-linecap="round" stroke-linejoin="round"/>
<polyline points="888.5,513.6 901.2,506.4" fill="none" stroke="#00f0f0" stroke-width="6.3" stroke-linecap="round" stroke-linejoin="round"/>
<polyline points="901.2,506.4 913.9,499.2" fill="none" stroke="#00bb22" stroke-width="6.3" stroke-linecap="round" stroke-linejoin="round"/>
<polyline points="913.9,499.2 926.5,492.0" fill="none" stroke="#f8f800" stroke-width="6.3" stroke-linecap="round" stroke-linejoin="round"/>
<polyline points="926.5,492.0 939.2,484.8" fill="none" stroke="#f8f800" stroke-width="6.3" stroke-linecap="round" stroke-linejoin="round"/>
<polyline points="951.9,477.5 964.5,470.3" fill="none" stroke="#c0f000" stroke-width="6.3" stroke-linecap="round" stroke-linejoin="round"/>
<polyline points="964.5,470.3 977.2,463.1" fill="none" stroke="#f8f800" stroke-width="6.3" stroke-linecap="round" stroke-linejoin="round"/>
<polyline points="977.2,463.1 989.8,455.9" fill="none" stroke="#00bb22" stroke-width="6.3" stroke-linecap="round" stroke-linejoin="round"/>
<polyline points="1015.2,441.4 1027.8,434.2" fill="none" stroke="#00f0f0" stroke-width="6.3" stroke-linecap="round" stroke-linejoin="round"/>
<polyline points="894.2,537.8 902.4,532.6" fill="none" stroke="#00f0f0" stroke-width="6.3" stroke-linecap="round" stroke-linejoin="round"/>
<polyline points="902.4,532.6 910.6,527.4" fill="none" stroke="#0099bb" stroke-width="6.3" stroke-linecap="round" stroke-linejoin="round"/>
<polyline points="910.6,527.4 918.8,522.2" fill="none" stroke="#00bb22" stroke-width="6.3" stroke-linecap="round" stroke-linejoin="round"/>
<polyline points="918.8,522.2 927.0,517.0" fill="none" stroke="#f8f800" stroke-width="6.3" stroke-linecap="round" stroke-linejoin="round"/>
<polyline points="927.0,517.0 935.2,511.7" fill="none" stroke="#f8f800" stroke-width="6.3" stroke-linecap="round" stroke-linejoin="round"/>
<polyline points="951.7,501.3 959.9,496.1" fill="none" stroke="#00f0f0" stroke-width="6.3" stroke-linecap="round" stroke-linejoin="round"/>
<polyline points="959.9,496.1 968.1,490.9" fill="none" stroke="#00bb22" stroke-width="6.3" stroke-linecap="round" stroke-linejoin="round"/>
<polyline points="926.9,552.0 937.3,542.2" fill="none" stroke="#00f0f0" stroke-width="6.3" stroke-linecap="round" stroke-linejoin="round"/>
<polyline points="937.3,542.2 947.7,532.3" fill="none" stroke="#00bb22" stroke-width="6.3" stroke-linecap="round" stroke-linejoin="round"/>
<polyline points="947.7,532.3 958.1,522.5" fill="none" stroke="#f8f800" stroke-width="6.3" stroke-linecap="round" stroke-linejoin="round"/>
<polyline points="958.1,522.5 968.5,512.6" fill="none" stroke="#f8f800" stroke-width="6.3" stroke-linecap="round" stroke-linejoin="round"/>
<polyline points="968.5,512.6 978.9,502.8" fill="none" stroke="#00bb22" stroke-width="6.3" stroke-linecap="round" stroke-linejoin="round"/>
<polyline points="978.9,502.8 989.4,493.0" fill="none" stroke="#c0f000" stroke-width="6.3" stroke-linecap="round" stroke-linejoin="round"/>
<polyline points="999.8,483.1 1003.6,479.5 1012.1,476.5" fill="none" stroke="#00f0f0" stroke-width="6.3" stroke-linecap="round" stroke-linejoin="round"/>
<polyline points="1025.6,471.6 1039.1,466.8" fill="none" stroke="#00bb22" stroke-width="6.3" stroke-linecap="round" stroke-linejoin="round"/>
<polyline points="956.7,552.0 965.9,547.5" fill="none" stroke="#f8f800" stroke-width="6.3" stroke-linecap="round" stroke-linejoin="round"/>
<polyline points="965.9,547.5 975.2,543.1" fill="none" stroke="#f8f800" stroke-width="6.3" stroke-linecap="round" stroke-linejoin="round"/>
<polyline points="975.2,543.1 984.4,538.7" fill="none" stroke="#c0f000" stroke-width="6.3" stroke-linecap="round" stroke-linejoin="round"/>
<polyline points="984.4,538.7 993.6,534.2" fill="none" stroke="#00bb22" stroke-width="6.3" stroke-linecap="round" stroke-linejoin="round"/>
<polyline points="993.6,534.2 1002.9,529.8" fill="none" stroke="#c0f000" stroke-width="6.3" stroke-linecap="round" stroke-linejoin="round"/>
<polyline points="1002.9,529.8 1012.1,525.4" fill="none" stroke="#c0f000" stroke-width="6.3" stroke-linecap="round" stroke-linejoin="round"/>
<polyline points="1012.1,525.4 1021.3,520.9" fill="none" stroke="#0099bb" stroke-width="6.3" stroke-linecap="round" stroke-linejoin="round"/>
<polyline points="1010.7,529.3 1023.5,527.8" fill="none" stroke="#ff99ee" stroke-width="6.3" stroke-linecap="round" stroke-linejoin="round"/>
<polyline points="982.3,512.2 988.7,507.3" fill="none" stroke="#0099bb" stroke-width="6.3" stroke-linecap="round" stroke-linejoin="round"/>
<polyline points="988.7,507.3 995.2,502.4" fill="none" stroke="#0099bb" stroke-width="6.3" stroke-linecap="round" stroke-linejoin="round"/>
<polyline points="1008.2,492.6 1014.6,487.8" fill="none" stroke="#00f0f0" stroke-width="6.3" stroke-linecap="round" stroke-linejoin="round"/>
<polyline points="1021.1,482.9 1027.6,478.0" fill="none" stroke="#00bb22" stroke-width="6.3" stroke-linecap="round" stroke-linejoin="round"/>
<polyline points="1027.6,478.0 1034.0,473.1" fill="none" stroke="#00bb22" stroke-width="6.3" stroke-linecap="round" stroke-linejoin="round"/>
<polyline points="1000.7,505.1 1007.1,504.4" fill="none" stroke="#ff99ee" stroke-width="6.3" stroke-linecap="round" stroke-linejoin="round"/>
<polyline points="1007.1,504.4 1013.5,503.7" fill="none" stroke="#ff99ee" stroke-width="6.3" stroke-linecap="round" stroke-linejoin="round"/>
<polyline points="1013.5,503.7 1019.9,503.0" fill="none" stroke="#00f0f0" stroke-width="6.3" stroke-linecap="round" stroke-linejoin="round"/>
<polyline points="1019.9,503.0 1026.3,502.3" fill="none" stroke="#00f0f0" stroke-width="6.3" stroke-linecap="round" stroke-linejoin="round"/>
<polyline points="1026.3,502.3 1032.7,501.6" fill="none" stroke="#0099bb" stroke-width="6.3" stroke-linecap="round" stroke-linejoin="round"/>
<polyline points="1032.7,501.6 1039.1,500.9" fill="none" stroke="#ff99ee" stroke-width="6.3" stroke-linecap="round" stroke-linejoin="round"/>
<polyline points="1006.4,544.9 1014.6,541.1" fill="none" stroke="#0099bb" stroke-width="6.3" stroke-linecap="round" stroke-linejoin="round"/>
<polyline points="1014.6,541.1 1022.8,537.3" fill="none" stroke="#00bb22" stroke-width="6.3" stroke-linecap="round" stroke-linejoin="round"/>
<polyline points="1022.8,537.3 1030.9,533.5" fill="none" stroke="#00bb22" stroke-width="6.3" stroke-linecap="round" stroke-linejoin="round"/>
<polyline points="1030.9,533.5 1039.1,529.7" fill="none" stroke="#00bb22" stroke-width="6.3" stroke-linecap="round" stroke-linejoin="round"/>
<polyline points="1039.1,529.7 1047.3,525.9" fill="none" stroke="#00bb22" stroke-width="6.3" stroke-linecap="round" stroke-linejoin="round"/>
<polyline points="1047.3,525.9 1055.5,522.2" fill="none" stroke="#00f0f0" stroke-width="6.3" stroke-linecap="round" stroke-linejoin="round"/>
<polyline points="1055.5,522.2 1063.6,518.4" fill="none" stroke="#00f0f0" stroke-width="6.3" stroke-linecap="round" stroke-linejoin="round"/>
<polyline points="1047.6,498.0 1053.0,494.9" fill="none" stroke="#00f0f0" stroke-width="6.3" stroke-linecap="round" stroke-linejoin="round"/>
<polyline points="1053.0,494.9 1058.4,491.9" fill="none" stroke="#00f0f0" stroke-width="6.3" stroke-linecap="round" stroke-linejoin="round"/>
<polyline points="1063.8,488.8 1069.2,485.7" fill="none" stroke="#ff99ee" stroke-width="6.3" stroke-linecap="round" stroke-linejoin="round"/>
<polyline points="894.2,581.8 899.9,577.0" fill="none" stroke="#00f0f0" stroke-width="6.3" stroke-linecap="round" stroke-linejoin="round"/>
<polyline points="899.9,577.0 905.6,572.2" fill="none" stroke="#00bb22" stroke-width="6.3" stroke-linecap="round" stroke-linejoin="round"/>
<polyline points="905.6,572.2 911.2,567.3" fill="none" stroke="#ff6600" stroke-width="6.3" stroke-linecap="round" stroke-linejoin="round"/>
<polyline points="911.2,567.3 916.9,562.5" fill="none" stroke="#f8f800" stroke-width="6.3" stroke-linecap="round" stroke-linejoin="round"/>
<polyline points="916.9,562.5 922.6,557.7" fill="none" stroke="#00bb22" stroke-width="6.3" stroke-linecap="round" stroke-linejoin="round"/>
<polyline points="914.1,586.1 919.8,582.7" fill="none" stroke="#c0f000" stroke-width="6.3" stroke-linecap="round" stroke-linejoin="round"/>
<polyline points="919.8,582.7 925.5,579.3" fill="none" stroke="#c0f000" stroke-width="6.3" stroke-linecap="round" stroke-linejoin="round"/>
<polyline points="925.5,579.3 931.1,576.0" fill="none" stroke="#00bb22" stroke-width="6.3" stroke-linecap="round" stroke-linejoin="round"/>
<polyline points="948.2,565.8 953.9,562.5" fill="none" stroke="#ff99ee" stroke-width="6.3" stroke-linecap="round" stroke-linejoin="round"/>
<polyline points="953.9,562.5 959.5,559.1" fill="none" stroke="#00f0f0" stroke-width="6.3" stroke-linecap="round" stroke-linejoin="round"/>
<polyline points="948.2,597.4 957.4,593.3" fill="none" stroke="#ff99ee" stroke-width="6.3" stroke-linecap="round" stroke-linejoin="round"/>
<polyline points="957.4,593.3 966.6,589.2" fill="none" stroke="#00f0f0" stroke-width="6.3" stroke-linecap="round" stroke-linejoin="round"/>
<polyline points="966.6,589.2 975.9,585.1" fill="none" stroke="#00f0f0" stroke-width="6.3" stroke-linecap="round" stroke-linejoin="round"/>
<polyline points="975.9,585.1 985.1,581.0" fill="none" stroke="#00bb22" stroke-width="6.3" stroke-linecap="round" stroke-linejoin="round"/>
<polyline points="985.1,581.0 994.3,576.8" fill="none" stroke="#c0f000" stroke-width="6.3" stroke-linecap="round" stroke-linejoin="round"/>
<polyline points="994.3,576.8 1003.6,572.7" fill="none" stroke="#c0f000" stroke-width="6.3" stroke-linecap="round" stroke-linejoin="round"/>
<polyline points="1003.6,572.7 1012.8,568.6" fill="none" stroke="#c0f000" stroke-width="6.3" stroke-linecap="round" stroke-linejoin="round"/>
<polyline points="1012.8,568.6 1022.0,564.5" fill="none" stroke="#00bb22" stroke-width="6.3" stroke-linecap="round" stroke-linejoin="round"/>
<polyline points="988.0,598.9 996.7,594.1" fill="none" stroke="#00bb22" stroke-width="6.3" stroke-linecap="round" stroke-linejoin="round"/>
<polyline points="996.7,594.1 1005.5,589.4" fill="none" stroke="#c0f000" stroke-width="6.3" stroke-linecap="round" stroke-linejoin="round"/>
<polyline points="1005.5,589.4 1014.2,584.7" fill="none" stroke="#c0f000" stroke-width="6.3" stroke-linecap="round" stroke-linejoin="round"/>
<polyline points="1014.2,584.7 1023.0,579.9" fill="none" stroke="#00bb22" stroke-width="6.3" stroke-linecap="round" stroke-linejoin="round"/>
<polyline points="1009.0,295.1 1015.2,291.8" fill="none" stroke="#00f0f0" stroke-width="6.3" stroke-linecap="round" stroke-linejoin="round"/>
<polyline points="1015.2,291.8 1021.3,288.5" fill="none" stroke="#00f0f0" stroke-width="6.3" stroke-linecap="round" stroke-linejoin="round"/>
<polyline points="1014.2,313.1 1021.3,309.8" fill="none" stroke="#ff99ee" stroke-width="6.3" stroke-linecap="round" stroke-linejoin="round"/>
<polyline points="1035.5,303.1 1042.6,299.8" fill="none" stroke="#c0f000" stroke-width="6.3" stroke-linecap="round" stroke-linejoin="round"/>
<polyline points="1042.6,304.1 1056.8,304.1" fill="none" stroke="#00bb22" stroke-width="6.3" stroke-linecap="round" stroke-linejoin="round"/>
<polyline points="1081.2,285.2 1088.9,282.6" fill="none" stroke="#00f0f0" stroke-width="6.3" stroke-linecap="round" stroke-linejoin="round"/>
<polyline points="1106.5,286.3 1113.6,284.2" fill="none" stroke="#0099bb" stroke-width="6.3" stroke-linecap="round" stroke-linejoin="round"/>
<polyline points="1045.5,279.9 1050.7,279.0" fill="none" stroke="#ff99ee" stroke-width="6.3" stroke-linecap="round" stroke-linejoin="round"/>
<polyline points="1117.9,301.2 1126.1,304.5" fill="none" stroke="#00f0f0" stroke-width="6.3" stroke-linecap="round" stroke-linejoin="round"/>
<polyline points="1142.5,311.1 1150.7,314.3" fill="none" stroke="#0099bb" stroke-width="6.3" stroke-linecap="round" stroke-linejoin="round"/>
<polyline points="1150.7,314.3 1158.9,317.6" fill="none" stroke="#00f0f0" stroke-width="6.3" stroke-linecap="round" stroke-linejoin="round"/>
<polyline points="1158.9,317.6 1167.2,320.9" fill="none" stroke="#00f0f0" stroke-width="6.3" stroke-linecap="round" stroke-linejoin="round"/>
<polyline points="1058.2,345.6 1055.4,351.5" fill="none" stroke="#00f0f0" stroke-width="6.3" stroke-linecap="round" stroke-linejoin="round"/>
<polyline points="1049.7,363.5 1046.9,369.4" fill="none" stroke="#00f0f0" stroke-width="6.3" stroke-linecap="round" stroke-linejoin="round"/>
<polyline points="1021.6,380.8 1026.1,378.0" fill="none" stroke="#0099bb" stroke-width="6.3" stroke-linecap="round" stroke-linejoin="round"/>
<polyline points="1026.1,378.0 1030.7,375.1" fill="none" stroke="#ff99ee" stroke-width="6.3" stroke-linecap="round" stroke-linejoin="round"/>
<polyline points="1030.7,375.1 1035.2,372.3" fill="none" stroke="#00f0f0" stroke-width="6.3" stroke-linecap="round" stroke-linejoin="round"/>
<polyline points="1144.7,383.9 1155.7,387.6" fill="none" stroke="#00f0f0" stroke-width="6.3" stroke-linecap="round" stroke-linejoin="round"/>
<polyline points="1155.7,387.6 1166.6,391.3" fill="none" stroke="#0099bb" stroke-width="6.3" stroke-linecap="round" stroke-linejoin="round"/>
<polyline points="1166.6,391.3 1177.6,395.0" fill="none" stroke="#ff99ee" stroke-width="6.3" stroke-linecap="round" stroke-linejoin="round"/>
<polyline points="1120.7,386.5 1127.8,385.8" fill="none" stroke="#00f0f0" stroke-width="6.3" stroke-linecap="round" stroke-linejoin="round"/>
<polyline points="1127.8,385.8 1134.9,385.1" fill="none" stroke="#00f0f0" stroke-width="6.3" stroke-linecap="round" stroke-linejoin="round"/>
<polyline points="1134.9,385.1 1142.0,384.3" fill="none" stroke="#0099bb" stroke-width="6.3" stroke-linecap="round" stroke-linejoin="round"/>
<polyline points="1142.0,384.3 1149.1,383.6" fill="none" stroke="#0099bb" stroke-width="6.3" stroke-linecap="round" stroke-linejoin="round"/>
<polyline points="1156.2,382.2 1166.2,382.2" fill="none" stroke="#ff99ee" stroke-width="6.3" stroke-linecap="round" stroke-linejoin="round"/>
<polyline points="1184.7,395.0 1196.0,395.0" fill="none" stroke="#ff99ee" stroke-width="6.3" stroke-linecap="round" stroke-linejoin="round"/>
<polyline points="1147.7,397.8 1156.2,396.9" fill="none" stroke="#00bb22" stroke-width="6.3" stroke-linecap="round" stroke-linejoin="round"/>
<polyline points="1156.2,396.9 1164.8,395.9" fill="none" stroke="#00bb22" stroke-width="6.3" stroke-linecap="round" stroke-linejoin="round"/>
<polyline points="1164.8,395.9 1173.3,395.0" fill="none" stroke="#c0f000" stroke-width="6.3" stroke-linecap="round" stroke-linejoin="round"/>
<polyline points="1096.6,410.6 1104.6,409.4" fill="none" stroke="#0099bb" stroke-width="6.3" stroke-linecap="round" stroke-linejoin="round"/>
<polyline points="1104.6,409.4 1112.7,408.3" fill="none" stroke="#0099bb" stroke-width="6.3" stroke-linecap="round" stroke-linejoin="round"/>
<polyline points="1112.7,408.3 1120.7,407.1" fill="none" stroke="#0099bb" stroke-width="6.3" stroke-linecap="round" stroke-linejoin="round"/>
<polyline points="1120.7,407.1 1128.8,405.9" fill="none" stroke="#0099bb" stroke-width="6.3" stroke-linecap="round" stroke-linejoin="round"/>
<polyline points="1128.8,405.9 1136.8,404.7" fill="none" stroke="#0099bb" stroke-width="6.3" stroke-linecap="round" stroke-linejoin="round"/>
<polyline points="1136.8,404.7 1144.9,403.5 1144.9,403.5" fill="none" stroke="#00f0f0" stroke-width="6.3" stroke-linecap="round" stroke-linejoin="round"/>
<polyline points="1117.9,426.2 1125.4,425.2" fill="none" stroke="#0099bb" stroke-width="6.3" stroke-linecap="round" stroke-linejoin="round"/>
<polyline points="1125.4,425.2 1132.8,424.1" fill="none" stroke="#0099bb" stroke-width="6.3" stroke-linecap="round" stroke-linejoin="round"/>
<polyline points="1132.8,424.1 1140.3,423.1" fill="none" stroke="#0099bb" stroke-width="6.3" stroke-linecap="round" stroke-linejoin="round"/>
<polyline points="1140.3,423.1 1147.7,422.0" fill="none" stroke="#0099bb" stroke-width="6.3" stroke-linecap="round" stroke-linejoin="round"/>
<polyline points="1177.6,426.2 1185.0,425.8" fill="none" stroke="#00bb22" stroke-width="6.3" stroke-linecap="round" stroke-linejoin="round"/>
<polyline points="1185.0,425.8 1192.5,425.3" fill="none" stroke="#ff99ee" stroke-width="6.3" stroke-linecap="round" stroke-linejoin="round"/>
<polyline points="1192.5,425.3 1200.0,424.8" fill="none" stroke="#00bb22" stroke-width="6.3" stroke-linecap="round" stroke-linejoin="round"/>
<polyline points="1034.1,406.4 1042.6,403.5" fill="none" stroke="#00f0f0" stroke-width="6.3" stroke-linecap="round" stroke-linejoin="round"/>
<polyline points="1017.0,428.5 1025.6,425.4" fill="none" stroke="#00f0f0" stroke-width="6.3" stroke-linecap="round" stroke-linejoin="round"/>
<polyline points="1034.1,422.3 1042.6,419.1" fill="none" stroke="#00f0f0" stroke-width="6.3" stroke-linecap="round" stroke-linejoin="round"/>
<polyline points="1000.0,447.6 1008.9,443.3" fill="none" stroke="#c0f000" stroke-width="6.3" stroke-linecap="round" stroke-linejoin="round"/>
<polyline points="1008.9,443.3 1017.8,439.0" fill="none" stroke="#00f0f0" stroke-width="6.3" stroke-linecap="round" stroke-linejoin="round"/>
<polyline points="1017.8,439.0 1026.6,434.8" fill="none" stroke="#00bb22" stroke-width="6.3" stroke-linecap="round" stroke-linejoin="round"/>
<polyline points="1026.6,434.8 1035.5,430.5" fill="none" stroke="#00bb22" stroke-width="6.3" stroke-linecap="round" stroke-linejoin="round"/>
<polyline points="1045.5,404.9 1054.0,402.5" fill="none" stroke="#00bb22" stroke-width="6.3" stroke-linecap="round" stroke-linejoin="round"/>
<polyline points="1054.0,402.5 1062.5,400.0" fill="none" stroke="#00bb22" stroke-width="6.3" stroke-linecap="round" stroke-linejoin="round"/>
<polyline points="1062.5,400.0 1071.0,397.5" fill="none" stroke="#00bb22" stroke-width="6.3" stroke-linecap="round" stroke-linejoin="round"/>
<polyline points="1071.0,397.5 1079.5,395.0" fill="none" stroke="#00bb22" stroke-width="6.3" stroke-linecap="round" stroke-linejoin="round"/>
<polyline points="1046.9,420.6 1057.8,417.3" fill="none" stroke="#00bb22" stroke-width="6.3" stroke-linecap="round" stroke-linejoin="round"/>
<polyline points="1057.8,417.3 1068.7,413.9" fill="none" stroke="#00bb22" stroke-width="6.3" stroke-linecap="round" stroke-linejoin="round"/>
<polyline points="1068.7,413.9 1079.5,410.6" fill="none" stroke="#00bb22" stroke-width="6.3" stroke-linecap="round" stroke-linejoin="round"/>
<polyline points="1086.2,461.8 1094.2,458.9" fill="none" stroke="#ff99ee" stroke-width="6.3" stroke-linecap="round" stroke-linejoin="round"/>
<polyline points="1094.2,458.9 1102.3,456.1" fill="none" stroke="#ff99ee" stroke-width="6.3" stroke-linecap="round" stroke-linejoin="round"/>
<polyline points="1156.2,464.6 1160.5,458.2" fill="none" stroke="#00bb22" stroke-width="6.3" stroke-linecap="round" stroke-linejoin="round"/>
<polyline points="1160.5,458.2 1164.8,451.8" fill="none" stroke="#00bb22" stroke-width="6.3" stroke-linecap="round" stroke-linejoin="round"/>
<polyline points="1118.8,300.5 1127.6,303.4" fill="none" stroke="#00f0f0" stroke-width="6.3" stroke-linecap="round" stroke-linejoin="round"/>
<polyline points="1145.2,309.3 1154.0,312.2" fill="none" stroke="#0099bb" stroke-width="6.3" stroke-linecap="round" stroke-linejoin="round"/>
<polyline points="1154.0,312.2 1162.8,315.1" fill="none" stroke="#00f0f0" stroke-width="6.3" stroke-linecap="round" stroke-linejoin="round"/>
<polyline points="1044.3,392.1 1062.0,390.0" fill="none" stroke="#00bb22" stroke-width="6.3" stroke-linecap="round" stroke-linejoin="round"/>
<polyline points="1062.0,390.0 1079.8,387.8" fill="none" stroke="#00bb22" stroke-width="6.3" stroke-linecap="round" stroke-linejoin="round"/>
<polyline points="1079.8,387.8 1097.5,385.7" fill="none" stroke="#00bb22" stroke-width="6.3" stroke-linecap="round" stroke-linejoin="round"/>
<polyline points="1097.5,385.7 1115.3,383.6" fill="none" stroke="#00bb22" stroke-width="6.3" stroke-linecap="round" stroke-linejoin="round"/>
<polyline points="1115.3,383.6 1133.0,381.5" fill="none" stroke="#0099bb" stroke-width="6.3" stroke-linecap="round" stroke-linejoin="round"/>
<polyline points="1133.0,381.5 1150.8,379.3" fill="none" stroke="#0099bb" stroke-width="6.3" stroke-linecap="round" stroke-linejoin="round"/>
<polyline points="1121.0,387.8 1128.9,389.1" fill="none" stroke="#00f0f0" stroke-width="6.3" stroke-linecap="round" stroke-linejoin="round"/>
<polyline points="1128.9,389.1 1136.8,390.3" fill="none" stroke="#00f0f0" stroke-width="6.3" stroke-linecap="round" stroke-linejoin="round"/>
<polyline points="1136.8,390.3 1144.7,391.5" fill="none" stroke="#0099bb" stroke-width="6.3" stroke-linecap="round" stroke-linejoin="round"/>
<polyline points="1144.7,391.5 1152.6,392.7" fill="none" stroke="#0099bb" stroke-width="6.3" stroke-linecap="round" stroke-linejoin="round"/>
<polyline points="1152.6,392.7 1160.5,393.9" fill="none" stroke="#0099bb" stroke-width="6.3" stroke-linecap="round" stroke-linejoin="round"/>
<polyline points="1160.5,393.9 1168.5,395.2" fill="none" stroke="#00bb22" stroke-width="6.3" stroke-linecap="round" stroke-linejoin="round"/>
<polyline points="1168.5,395.2 1176.4,396.4" fill="none" stroke="#c0f000" stroke-width="6.3" stroke-linecap="round" stroke-linejoin="round"/>
<polyline points="1095.4,409.2 1105.8,408.0" fill="none" stroke="#0099bb" stroke-width="6.3" stroke-linecap="round" stroke-linejoin="round"/>
<polyline points="1105.8,408.0 1116.2,406.8" fill="none" stroke="#0099bb" stroke-width="6.3" stroke-linecap="round" stroke-linejoin="round"/>
<polyline points="1116.2,406.8 1126.7,405.6" fill="none" stroke="#0099bb" stroke-width="6.3" stroke-linecap="round" stroke-linejoin="round"/>
<polyline points="1126.7,405.6 1137.1,404.4" fill="none" stroke="#0099bb" stroke-width="6.3" stroke-linecap="round" stroke-linejoin="round"/>
<polyline points="1137.1,404.4 1147.5,403.2" fill="none" stroke="#0099bb" stroke-width="6.3" stroke-linecap="round" stroke-linejoin="round"/>
<polyline points="1147.5,403.2 1157.9,402.1" fill="none" stroke="#0099bb" stroke-width="6.3" stroke-linecap="round" stroke-linejoin="round"/>
<polyline points="1157.9,402.1 1168.3,400.9" fill="none" stroke="#00bb22" stroke-width="6.3" stroke-linecap="round" stroke-linejoin="round"/>
<polyline points="1168.3,400.9 1178.7,399.7" fill="none" stroke="#00bb22" stroke-width="6.3" stroke-linecap="round" stroke-linejoin="round"/>
<polyline points="1178.7,399.7 1189.2,398.5" fill="none" stroke="#c0f000" stroke-width="6.3" stroke-linecap="round" stroke-linejoin="round"/>
<polyline points="1121.0,424.1 1132.7,425.1" fill="none" stroke="#0099bb" stroke-width="6.3" stroke-linecap="round" stroke-linejoin="round"/>
<polyline points="1132.7,425.1 1144.4,426.2" fill="none" stroke="#0099bb" stroke-width="6.3" stroke-linecap="round" stroke-linejoin="round"/>
<polyline points="1144.4,426.2 1156.1,427.3" fill="none" stroke="#0099bb" stroke-width="6.3" stroke-linecap="round" stroke-linejoin="round"/>
<polyline points="1156.1,427.3 1167.8,428.3" fill="none" stroke="#0099bb" stroke-width="6.3" stroke-linecap="round" stroke-linejoin="round"/>
<polyline points="1089.0,461.4 1099.7,458.2" fill="none" stroke="#ff99ee" stroke-width="6.3" stroke-linecap="round" stroke-linejoin="round"/>
<polyline points="1072.0,485.9 1080.0,480.5" fill="none" stroke="#ff99ee" stroke-width="6.3" stroke-linecap="round" stroke-linejoin="round"/>
<polyline points="1080.0,480.5 1087.9,475.2" fill="none" stroke="#ff99ee" stroke-width="6.3" stroke-linecap="round" stroke-linejoin="round"/>
<polyline points="1044.3,494.4 1061.3,489.1" fill="none" stroke="#00f0f0" stroke-width="6.3" stroke-linecap="round" stroke-linejoin="round"/>
<polyline points="1061.3,489.1 1078.4,483.7" fill="none" stroke="#00f0f0" stroke-width="6.3" stroke-linecap="round" stroke-linejoin="round"/>
<polyline points="1044.3,526.4 1053.9,522.6" fill="none" stroke="#00bb22" stroke-width="6.3" stroke-linecap="round" stroke-linejoin="round"/>
<polyline points="1053.9,522.6 1063.4,518.9" fill="none" stroke="#00f0f0" stroke-width="6.3" stroke-linecap="round" stroke-linejoin="round"/>
<polyline points="1063.4,518.9 1073.0,515.2" fill="none" stroke="#00f0f0" stroke-width="6.3" stroke-linecap="round" stroke-linejoin="round"/>
<polyline points="1201.9,323.9 1221.1,347.4" fill="none" stroke="#c0f000" stroke-width="6.3" stroke-linecap="round" stroke-linejoin="round"/>
<polyline points="1208.3,332.4 1221.1,347.4" fill="none" stroke="#f8f800" stroke-width="6.3" stroke-linecap="round" stroke-linejoin="round"/>
<polyline points="1189.2,394.2 1193.4,395.3" fill="none" stroke="#ff99ee" stroke-width="6.3" stroke-linecap="round" stroke-linejoin="round"/>
<polyline points="1193.4,395.3 1197.7,396.4" fill="none" stroke="#ff99ee" stroke-width="6.3" stroke-linecap="round" stroke-linejoin="round"/>
<polyline points="1214.7,379.3 1219.0,378.3" fill="none" stroke="#ff99ee" stroke-width="6.3" stroke-linecap="round" stroke-linejoin="round"/>
<polyline points="1184.9,426.2 1190.8,420.9" fill="none" stroke="#00bb22" stroke-width="6.3" stroke-linecap="round" stroke-linejoin="round"/>
<polyline points="1190.8,420.9 1196.6,415.6" fill="none" stroke="#00bb22" stroke-width="6.3" stroke-linecap="round" stroke-linejoin="round"/>
<polyline points="1202.5,410.2 1208.3,404.9" fill="none" stroke="#00bb22" stroke-width="6.3" stroke-linecap="round" stroke-linejoin="round"/>
<polyline points="1146.5,483.7 1151.3,475.7" fill="none" stroke="#00bb22" stroke-width="6.3" stroke-linecap="round" stroke-linejoin="round"/>
<polyline points="1151.3,475.7 1156.1,467.8" fill="none" stroke="#00bb22" stroke-width="6.3" stroke-linecap="round" stroke-linejoin="round"/>
<polyline points="1156.1,467.8 1160.9,459.8" fill="none" stroke="#f8f800" stroke-width="6.3" stroke-linecap="round" stroke-linejoin="round"/>
<polyline points="1160.9,459.8 1165.7,451.8" fill="none" stroke="#00bb22" stroke-width="6.3" stroke-linecap="round" stroke-linejoin="round"/>
<polyline points="1167.8,481.6 1174.2,478.4" fill="none" stroke="#00f0f0" stroke-width="6.3" stroke-linecap="round" stroke-linejoin="round"/>
<polyline points="1174.2,478.4 1180.6,475.2" fill="none" stroke="#00f0f0" stroke-width="6.3" stroke-linecap="round" stroke-linejoin="round"/>
<polyline points="1195.6,479.5 1200.5,475.9" fill="none" stroke="#00f0f0" stroke-width="6.3" stroke-linecap="round" stroke-linejoin="round"/>
<polyline points="1200.5,475.9 1205.5,472.4" fill="none" stroke="#00f0f0" stroke-width="6.3" stroke-linecap="round" stroke-linejoin="round"/>
<polyline points="1205.5,472.4 1210.5,468.8" fill="none" stroke="#00bb22" stroke-width="6.3" stroke-linecap="round" stroke-linejoin="round"/>
<polyline points="1189.2,522.1 1192.9,514.1" fill="none" stroke="#00bb22" stroke-width="6.3" stroke-linecap="round" stroke-linejoin="round"/>
<polyline points="1192.9,514.1 1196.6,506.1" fill="none" stroke="#0099bb" stroke-width="6.3" stroke-linecap="round" stroke-linejoin="round"/>
<polyline points="1196.6,506.1 1200.3,498.1" fill="none" stroke="#00f0f0" stroke-width="6.3" stroke-linecap="round" stroke-linejoin="round"/>
<polyline points="1200.3,498.1 1204.1,490.1" fill="none" stroke="#00f0f0" stroke-width="6.3" stroke-linecap="round" stroke-linejoin="round"/>
<polyline points="1152.9,541.3 1163.6,541.3" fill="none" stroke="#ff6600" stroke-width="6.3" stroke-linecap="round" stroke-linejoin="round"/>
<polyline points="1129.5,545.5 1138.0,543.4" fill="none" stroke="#ff99ee" stroke-width="6.3" stroke-linecap="round" stroke-linejoin="round"/>
<polyline points="1085.4,763.3 1099.2,757.5" fill="none" stroke="#00f0f0" stroke-width="6.3" stroke-linecap="round" stroke-linejoin="round"/>
<polyline points="1046.4,650.8 1064.3,645.0" fill="none" stroke="#0099bb" stroke-width="6.3" stroke-linecap="round" stroke-linejoin="round"/>
<polyline points="1064.3,645.0 1082.1,639.2" fill="none" stroke="#00f0f0" stroke-width="6.3" stroke-linecap="round" stroke-linejoin="round"/>
<polyline points="1082.1,639.2 1100.0,633.4" fill="none" stroke="#ff99ee" stroke-width="6.3" stroke-linecap="round" stroke-linejoin="round"/>
<polyline points="1100.0,633.4 1117.9,627.6" fill="none" stroke="#ff99ee" stroke-width="6.3" stroke-linecap="round" stroke-linejoin="round"/>
<polyline points="1117.9,627.6 1125.2,625.2 1135.7,621.7" fill="none" stroke="#0099bb" stroke-width="6.3" stroke-linecap="round" stroke-linejoin="round"/>
<polyline points="1135.7,621.7 1153.5,615.8" fill="none" stroke="#00f0f0" stroke-width="6.3" stroke-linecap="round" stroke-linejoin="round"/>
<polyline points="1046.4,574.1 1057.8,572.0" fill="none" stroke="#00f0f0" stroke-width="6.3" stroke-linecap="round" stroke-linejoin="round"/>
<polyline points="1057.8,572.0 1069.1,569.8" fill="none" stroke="#0099bb" stroke-width="6.3" stroke-linecap="round" stroke-linejoin="round"/>
<polyline points="1089.0,582.6 1098.1,576.8" fill="none" stroke="#00bb22" stroke-width="6.3" stroke-linecap="round" stroke-linejoin="round"/>
<polyline points="1098.1,576.8 1107.1,570.9" fill="none" stroke="#0099bb" stroke-width="6.3" stroke-linecap="round" stroke-linejoin="round"/>
<polyline points="1107.1,570.9 1116.2,565.0" fill="none" stroke="#00f0f0" stroke-width="6.3" stroke-linecap="round" stroke-linejoin="round"/>
<polyline points="1116.2,565.0 1125.2,559.2" fill="none" stroke="#00bb22" stroke-width="6.3" stroke-linecap="round" stroke-linejoin="round"/>
<polyline points="1244.6,608.2 1254.9,603.4" fill="none" stroke="#0099bb" stroke-width="6.3" stroke-linecap="round" stroke-linejoin="round"/>
<polyline points="1254.9,603.4 1265.3,598.6" fill="none" stroke="#0099bb" stroke-width="6.3" stroke-linecap="round" stroke-linejoin="round"/>
<polyline points="1265.3,598.6 1275.7,593.8" fill="none" stroke="#00f0f0" stroke-width="6.3" stroke-linecap="round" stroke-linejoin="round"/>
<polyline points="1275.7,593.8 1286.1,589.0" fill="none" stroke="#00bb22" stroke-width="6.3" stroke-linecap="round" stroke-linejoin="round"/>
<polyline points="1286.1,589.0 1296.5,584.2" fill="none" stroke="#00bb22" stroke-width="6.3" stroke-linecap="round" stroke-linejoin="round"/>
<polyline points="1296.5,584.2 1306.9,579.4" fill="none" stroke="#00f0f0" stroke-width="6.3" stroke-linecap="round" stroke-linejoin="round"/>
<polyline points="1306.9,579.4 1317.3,574.6" fill="none" stroke="#c0f000" stroke-width="6.3" stroke-linecap="round" stroke-linejoin="round"/>
<polyline points="1103.9,646.5 1107.1,658.3" fill="none" stroke="#00f0f0" stroke-width="6.3" stroke-linecap="round" stroke-linejoin="round"/>
<polyline points="1107.1,658.3 1110.3,670.0" fill="none" stroke="#0099bb" stroke-width="6.3" stroke-linecap="round" stroke-linejoin="round"/>
<polyline points="1110.3,670.0 1113.5,681.7" fill="none" stroke="#0099bb" stroke-width="6.3" stroke-linecap="round" stroke-linejoin="round"/>
<polyline points="1113.5,681.7 1116.7,693.4" fill="none" stroke="#00f0f0" stroke-width="6.3" stroke-linecap="round" stroke-linejoin="round"/>
<polyline points="1226.1,639.4 1227.5,651.9" fill="none" stroke="#00bb22" stroke-width="6.3" stroke-linecap="round" stroke-linejoin="round"/>
<polyline points="1227.5,651.9 1228.9,664.3" fill="none" stroke="#c0f000" stroke-width="6.3" stroke-linecap="round" stroke-linejoin="round"/>
<polyline points="1228.9,664.3 1230.4,676.7" fill="none" stroke="#00bb22" stroke-width="6.3" stroke-linecap="round" stroke-linejoin="round"/>
<polyline points="1155.1,770.1 1153.5,782.9" fill="none" stroke="#00f0f0" stroke-width="6.3" stroke-linecap="round" stroke-linejoin="round"/>
<polyline points="1153.5,782.9 1151.9,795.7" fill="none" stroke="#00f0f0" stroke-width="6.3" stroke-linecap="round" stroke-linejoin="round"/>
<polyline points="1151.9,795.7 1150.3,808.5" fill="none" stroke="#0099bb" stroke-width="6.3" stroke-linecap="round" stroke-linejoin="round"/>
<polyline points="1150.3,808.5 1148.7,821.3" fill="none" stroke="#0099bb" stroke-width="6.3" stroke-linecap="round" stroke-linejoin="round"/>
<polyline points="1213.7,737.1 1216.9,744.6" fill="none" stroke="#00f0f0" stroke-width="6.3" stroke-linecap="round" stroke-linejoin="round"/>
<polyline points="1251.0,733.9 1253.1,740.3" fill="none" stroke="#00f0f0" stroke-width="6.3" stroke-linecap="round" stroke-linejoin="round"/>
<polyline points="1089.7,818.4 1096.8,828.4" fill="none" stroke="#00f0f0" stroke-width="6.3" stroke-linecap="round" stroke-linejoin="round"/>
<polyline points="1050.7,663.6 1051.7,673.7" fill="none" stroke="#ff99ee" stroke-width="6.3" stroke-linecap="round" stroke-linejoin="round"/>
<polyline points="1051.7,673.7 1052.8,683.8" fill="none" stroke="#ff99ee" stroke-width="6.3" stroke-linecap="round" stroke-linejoin="round"/>
<polyline points="1053.9,694.0 1054.9,704.1" fill="none" stroke="#00f0f0" stroke-width="6.3" stroke-linecap="round" stroke-linejoin="round"/>
<polyline points="1044.3,725.4 1052.8,724.8" fill="none" stroke="#c0f000" stroke-width="6.3" stroke-linecap="round" stroke-linejoin="round"/>
<polyline points="1052.8,724.8 1061.3,724.3" fill="none" stroke="#0099bb" stroke-width="6.3" stroke-linecap="round" stroke-linejoin="round"/>
<polyline points="1061.3,724.3 1069.8,723.8" fill="none" stroke="#0099bb" stroke-width="6.3" stroke-linecap="round" stroke-linejoin="round"/>
<polyline points="894.2,580.5 899.8,576.4" fill="none" stroke="#0099bb" stroke-width="6.3" stroke-linecap="round" stroke-linejoin="round"/>
<polyline points="899.8,576.4 905.3,572.4" fill="none" stroke="#ff6600" stroke-width="6.3" stroke-linecap="round" stroke-linejoin="round"/>
<polyline points="905.3,572.4 910.9,568.3" fill="none" stroke="#c0f000" stroke-width="6.3" stroke-linecap="round" stroke-linejoin="round"/>
<polyline points="910.9,568.3 916.4,564.3" fill="none" stroke="#c0f000" stroke-width="6.3" stroke-linecap="round" stroke-linejoin="round"/>
<polyline points="916.4,564.3 921.9,560.2" fill="none" stroke="#00bb22" stroke-width="6.3" stroke-linecap="round" stroke-linejoin="round"/>
<polyline points="913.4,586.9 920.7,582.6" fill="none" stroke="#c0f000" stroke-width="6.3" stroke-linecap="round" stroke-linejoin="round"/>
<polyline points="920.7,582.6 928.0,578.4" fill="none" stroke="#00bb22" stroke-width="6.3" stroke-linecap="round" stroke-linejoin="round"/>
<polyline points="949.9,565.6 957.3,561.3" fill="none" stroke="#00f0f0" stroke-width="6.3" stroke-linecap="round" stroke-linejoin="round"/>
<polyline points="955.0,566.6 964.0,561.8" fill="none" stroke="#ff99ee" stroke-width="6.3" stroke-linecap="round" stroke-linejoin="round"/>
<polyline points="947.5,599.7 957.5,593.6" fill="none" stroke="#ff99ee" stroke-width="6.3" stroke-linecap="round" stroke-linejoin="round"/>
<polyline points="967.4,587.6 977.3,581.6" fill="none" stroke="#00f0f0" stroke-width="6.3" stroke-linecap="round" stroke-linejoin="round"/>
<polyline points="977.3,581.6 987.3,575.5" fill="none" stroke="#00f0f0" stroke-width="6.3" stroke-linecap="round" stroke-linejoin="round"/>
<polyline points="979.5,608.2 987.6,603.6" fill="none" stroke="#0099bb" stroke-width="6.3" stroke-linecap="round" stroke-linejoin="round"/>
<polyline points="987.6,603.6 995.8,599.0" fill="none" stroke="#00bb22" stroke-width="6.3" stroke-linecap="round" stroke-linejoin="round"/>
<polyline points="995.8,599.0 1004.0,594.3" fill="none" stroke="#00bb22" stroke-width="6.3" stroke-linecap="round" stroke-linejoin="round"/>
<polyline points="1004.0,594.3 1012.1,589.7" fill="none" stroke="#00bb22" stroke-width="6.3" stroke-linecap="round" stroke-linejoin="round"/>
<polyline points="1012.1,589.7 1020.3,585.1" fill="none" stroke="#00bb22" stroke-width="6.3" stroke-linecap="round" stroke-linejoin="round"/>
<polyline points="1020.3,585.1 1028.5,580.5" fill="none" stroke="#0099bb" stroke-width="6.3" stroke-linecap="round" stroke-linejoin="round"/>
<polyline points="983.7,623.1 990.5,619.2" fill="none" stroke="#00bb22" stroke-width="6.3" stroke-linecap="round" stroke-linejoin="round"/>
<polyline points="990.5,619.2 997.2,615.3" fill="none" stroke="#00bb22" stroke-width="6.3" stroke-linecap="round" stroke-linejoin="round"/>
<polyline points="997.2,615.3 1004.0,611.4" fill="none" stroke="#00bb22" stroke-width="6.3" stroke-linecap="round" stroke-linejoin="round"/>
<polyline points="1004.0,611.4 1010.7,607.5" fill="none" stroke="#c0f000" stroke-width="6.3" stroke-linecap="round" stroke-linejoin="round"/>
<polyline points="1010.7,607.5 1017.5,603.6" fill="none" stroke="#c0f000" stroke-width="6.3" stroke-linecap="round" stroke-linejoin="round"/>
<polyline points="1017.5,603.6 1024.2,599.7" fill="none" stroke="#00bb22" stroke-width="6.3" stroke-linecap="round" stroke-linejoin="round"/>
<polyline points="1006.9,657.5 1005.4,665.4" fill="none" stroke="#00f0f0" stroke-width="6.3" stroke-linecap="round" stroke-linejoin="round"/>
<polyline points="1005.4,665.4 1003.8,673.3" fill="none" stroke="#00bb22" stroke-width="6.3" stroke-linecap="round" stroke-linejoin="round"/>
<polyline points="1003.8,673.3 1002.3,681.2" fill="none" stroke="#00bb22" stroke-width="6.3" stroke-linecap="round" stroke-linejoin="round"/>
<polyline points="1015.7,706.2 1022.1,699.1" fill="none" stroke="#00f0f0" stroke-width="6.3" stroke-linecap="round" stroke-linejoin="round"/>
<polyline points="1022.1,699.1 1028.5,692.0" fill="none" stroke="#00f0f0" stroke-width="6.3" stroke-linecap="round" stroke-linejoin="round"/>
<polyline points="1028.5,692.0 1034.9,684.9" fill="none" stroke="#0099bb" stroke-width="6.3" stroke-linecap="round" stroke-linejoin="round"/>
<polyline points="1031.3,645.8 1032.0,655.8" fill="none" stroke="#ff99ee" stroke-width="6.3" stroke-linecap="round" stroke-linejoin="round"/>
<polyline points="1032.0,655.8 1032.7,665.7" fill="none" stroke="#ff99ee" stroke-width="6.3" stroke-linecap="round" stroke-linejoin="round"/>
<polyline points="1034.2,685.6 1034.9,695.6 1034.9,695.6" fill="none" stroke="#0099bb" stroke-width="6.3" stroke-linecap="round" stroke-linejoin="round"/>
<polyline points="968.8,682.8 964.7,692.0" fill="none" stroke="#0099bb" stroke-width="6.3" stroke-linecap="round" stroke-linejoin="round"/>
<polyline points="960.7,701.1 960.3,701.9 954.8,709.3" fill="none" stroke="#0099bb" stroke-width="6.3" stroke-linecap="round" stroke-linejoin="round"/>
<polyline points="954.8,709.3 948.8,717.3" fill="none" stroke="#0099bb" stroke-width="6.3" stroke-linecap="round" stroke-linejoin="round"/>
<polyline points="948.8,717.3 947.5,719.0 942.5,725.2" fill="none" stroke="#00bb22" stroke-width="6.3" stroke-linecap="round" stroke-linejoin="round"/>
<polyline points="942.5,725.2 939.0,729.6 935.9,732.8" fill="none" stroke="#c0f000" stroke-width="6.3" stroke-linecap="round" stroke-linejoin="round"/>
<polyline points="935.9,732.8 930.5,738.2 929.1,740.2" fill="none" stroke="#ff6600" stroke-width="6.3" stroke-linecap="round" stroke-linejoin="round"/>
<polyline points="929.1,740.2 923.6,748.5" fill="none" stroke="#ff6600" stroke-width="6.3" stroke-linecap="round" stroke-linejoin="round"/>
<polyline points="923.6,748.5 921.9,751.0 918.7,757.3" fill="none" stroke="#ff6600" stroke-width="6.3" stroke-linecap="round" stroke-linejoin="round"/>
<polyline points="833.3,725.6 840.6,724.7" fill="none" stroke="#00f0f0" stroke-width="6.3" stroke-linecap="round" stroke-linejoin="round"/>
<polyline points="840.6,724.7 847.9,723.8" fill="none" stroke="#00f0f0" stroke-width="6.3" stroke-linecap="round" stroke-linejoin="round"/>
<polyline points="847.9,723.8 855.2,722.9" fill="none" stroke="#0099bb" stroke-width="6.3" stroke-linecap="round" stroke-linejoin="round"/>
<polyline points="885.7,735.0 891.0,755.2" fill="none" stroke="#0099bb" stroke-width="6.3" stroke-linecap="round" stroke-linejoin="round"/>
<polyline points="864.4,758.4 871.6,757.2" fill="none" stroke="#00f0f0" stroke-width="6.3" stroke-linecap="round" stroke-linejoin="round"/>
<polyline points="886.0,754.8 893.2,753.6" fill="none" stroke="#00bb22" stroke-width="6.3" stroke-linecap="round" stroke-linejoin="round"/>
<polyline points="893.2,753.6 900.4,752.4" fill="none" stroke="#00bb22" stroke-width="6.3" stroke-linecap="round" stroke-linejoin="round"/>
<polyline points="900.4,752.4 907.6,751.2" fill="none" stroke="#00f0f0" stroke-width="6.3" stroke-linecap="round" stroke-linejoin="round"/>
<polyline points="907.6,751.2 914.8,750.0" fill="none" stroke="#00f0f0" stroke-width="6.3" stroke-linecap="round" stroke-linejoin="round"/>
<polyline points="892.1,755.2 894.5,762.2" fill="none" stroke="#ff99ee" stroke-width="6.3" stroke-linecap="round" stroke-linejoin="round"/>
<polyline points="894.5,762.2 897.0,769.2" fill="none" stroke="#ff99ee" stroke-width="6.3" stroke-linecap="round" stroke-linejoin="round"/>
<polyline points="904.3,790.2 906.7,797.2" fill="none" stroke="#00f0f0" stroke-width="6.3" stroke-linecap="round" stroke-linejoin="round"/>
<polyline points="906.7,797.2 909.2,804.2" fill="none" stroke="#00f0f0" stroke-width="6.3" stroke-linecap="round" stroke-linejoin="round"/>
<polyline points="985.9,743.5 995.1,743.1" fill="none" stroke="#00f0f0" stroke-width="6.3" stroke-linecap="round" stroke-linejoin="round"/>
<polyline points="995.1,743.1 1004.4,742.7" fill="none" stroke="#00f0f0" stroke-width="6.3" stroke-linecap="round" stroke-linejoin="round"/>
<polyline points="1013.7,742.3 1022.9,741.9" fill="none" stroke="#0099bb" stroke-width="6.3" stroke-linecap="round" stroke-linejoin="round"/>
<polyline points="1022.9,741.9 1032.2,741.5" fill="none" stroke="#0099bb" stroke-width="6.3" stroke-linecap="round" stroke-linejoin="round"/>
<polyline points="1017.8,759.5 1023.2,764.8" fill="none" stroke="#0099bb" stroke-width="6.3" stroke-linecap="round" stroke-linejoin="round"/>
<polyline points="1023.2,764.8 1028.5,770.1" fill="none" stroke="#0099bb" stroke-width="6.3" stroke-linecap="round" stroke-linejoin="round"/>
<polyline points="1028.5,770.1 1033.8,775.5" fill="none" stroke="#0099bb" stroke-width="6.3" stroke-linecap="round" stroke-linejoin="round"/>
<polyline points="1033.8,775.5 1039.1,780.8" fill="none" stroke="#00bb22" stroke-width="6.3" stroke-linecap="round" stroke-linejoin="round"/>
<polyline points="939.0,804.2 948.9,801.1" fill="none" stroke="#00f0f0" stroke-width="6.3" stroke-linecap="round" stroke-linejoin="round"/>
<polyline points="978.8,791.9 988.7,788.8" fill="none" stroke="#00f0f0" stroke-width="6.3" stroke-linecap="round" stroke-linejoin="round"/>
<polyline points="988.7,788.8 998.7,785.8" fill="none" stroke="#00f0f0" stroke-width="6.3" stroke-linecap="round" stroke-linejoin="round"/>
<polyline points="998.7,785.8 1008.6,782.7" fill="none" stroke="#00f0f0" stroke-width="6.3" stroke-linecap="round" stroke-linejoin="round"/>
<polyline points="945.4,821.3 956.0,817.9" fill="none" stroke="#00f0f0" stroke-width="6.3" stroke-linecap="round" stroke-linejoin="round"/>
<polyline points="956.0,817.9 966.7,814.6" fill="none" stroke="#00f0f0" stroke-width="6.3" stroke-linecap="round" stroke-linejoin="round"/>
<polyline points="966.7,814.6 977.3,811.2" fill="none" stroke="#0099bb" stroke-width="6.3" stroke-linecap="round" stroke-linejoin="round"/>
<polyline points="977.3,811.2 988.0,807.9" fill="none" stroke="#0099bb" stroke-width="6.3" stroke-linecap="round" stroke-linejoin="round"/>
<polyline points="988.0,807.9 998.7,804.5" fill="none" stroke="#0099bb" stroke-width="6.3" stroke-linecap="round" stroke-linejoin="round"/>
<polyline points="960.3,825.5 971.0,821.3" fill="none" stroke="#ff6600" stroke-width="6.3" stroke-linecap="round" stroke-linejoin="round"/>
<polyline points="1005.0,825.5 1014.1,820.2" fill="none" stroke="#00f0f0" stroke-width="6.3" stroke-linecap="round" stroke-linejoin="round"/>
<polyline points="1014.1,820.2 1023.2,814.9" fill="none" stroke="#00f0f0" stroke-width="6.3" stroke-linecap="round" stroke-linejoin="round"/>
<polyline points="1023.2,814.9 1032.2,809.6" fill="none" stroke="#00f0f0" stroke-width="6.3" stroke-linecap="round" stroke-linejoin="round"/>
<polyline points="1032.2,809.6 1041.3,804.2" fill="none" stroke="#00f0f0" stroke-width="6.3" stroke-linecap="round" stroke-linejoin="round"/>
<polyline points="1043.4,725.4 1051.7,725.4" fill="none" stroke="#c0f000" stroke-width="6.3" stroke-linecap="round" stroke-linejoin="round"/>
<polyline points="1051.7,725.4 1060.0,725.4" fill="none" stroke="#0099bb" stroke-width="6.3" stroke-linecap="round" stroke-linejoin="round"/>
<polyline points="1006.7,832.1 1012.1,827.4" fill="none" stroke="#00f0f0" stroke-width="6.3" stroke-linecap="round" stroke-linejoin="round"/>
<polyline points="1012.1,827.4 1017.6,822.6" fill="none" stroke="#00f0f0" stroke-width="6.3" stroke-linecap="round" stroke-linejoin="round"/>
<polyline points="1017.6,822.6 1023.0,817.9" fill="none" stroke="#00f0f0" stroke-width="6.3" stroke-linecap="round" stroke-linejoin="round"/>
<polyline points="1023.0,817.9 1028.5,813.2" fill="none" stroke="#0099bb" stroke-width="6.3" stroke-linecap="round" stroke-linejoin="round"/>
<polyline points="1028.5,813.2 1033.9,808.4" fill="none" stroke="#00f0f0" stroke-width="6.3" stroke-linecap="round" stroke-linejoin="round"/>
<polyline points="1033.9,808.4 1039.4,803.7 1039.4,803.7" fill="none" stroke="#00f0f0" stroke-width="6.3" stroke-linecap="round" stroke-linejoin="round"/>
<polyline points="1012.4,827.8 1018.1,822.7" fill="none" stroke="#00f0f0" stroke-width="6.3" stroke-linecap="round" stroke-linejoin="round"/>
<polyline points="1018.1,822.7 1023.8,817.6" fill="none" stroke="#0099bb" stroke-width="6.3" stroke-linecap="round" stroke-linejoin="round"/>
<polyline points="1023.8,817.6 1029.4,812.5" fill="none" stroke="#00f0f0" stroke-width="6.3" stroke-linecap="round" stroke-linejoin="round"/>
<polyline points="1029.4,812.5 1035.1,807.4" fill="none" stroke="#00f0f0" stroke-width="6.3" stroke-linecap="round" stroke-linejoin="round"/>
<polyline points="1035.1,807.4 1040.8,802.3" fill="none" stroke="#00f0f0" stroke-width="6.3" stroke-linecap="round" stroke-linejoin="round"/>
<polyline points="1070.2,824.1 1073.9,830.2" fill="none" stroke="#00f0f0" stroke-width="6.3" stroke-linecap="round" stroke-linejoin="round"/>
</g>
<circle cx="799.9" cy="661.9" r="4.3" fill="#000"/>
<circle cx="809.5" cy="652.5" r="4.3" fill="#000"/>
<circle cx="819.1" cy="643.2" r="4.3" fill="#000"/>
<circle cx="828.7" cy="633.8" r="4.3" fill="#000"/>
<circle cx="838.3" cy="624.4" r="4.3" fill="#000"/>
<circle cx="847.9" cy="615.1" r="4.3" fill="#000"/>
<circle cx="857.5" cy="605.7" r="4.3" fill="#000"/>
<circle cx="867.1" cy="596.4" r="4.3" fill="#000"/>
<circle cx="876.7" cy="587.0" r="4.3" fill="#000"/>
<circle cx="886.3" cy="577.6" r="4.3" fill="#000"/>
<circle cx="895.9" cy="568.3" r="4.3" fill="#000"/>
<circle cx="905.5" cy="558.9" r="4.3" fill="#000"/>
<circle cx="992.5" cy="474.5" r="4.3" fill="#000"/>
<circle cx="1002.4" cy="465.4" r="4.3" fill="#000"/>
<circle cx="1012.3" cy="456.2" r="4.3" fill="#000"/>
<circle cx="1022.2" cy="447.1" r="4.3" fill="#000"/>
<circle cx="1032.0" cy="437.9" r="4.3" fill="#000"/>
<circle cx="1041.9" cy="428.8" r="4.3" fill="#000"/>
<circle cx="1051.8" cy="419.6" r="4.3" fill="#000"/>
<circle cx="1061.7" cy="410.5" r="4.3" fill="#000"/>
<circle cx="1071.6" cy="401.3" r="4.3" fill="#000"/>
<circle cx="1130.5" cy="345.9" r="4.3" fill="#000"/>
<circle cx="1140.2" cy="337.1" r="4.3" fill="#000"/>
<circle cx="1149.8" cy="328.3" r="4.3" fill="#000"/>
<circle cx="1159.5" cy="319.5" r="4.3" fill="#000"/>
<line x1="905.5" y1="558.9" x2="989" y2="479" stroke="#000" stroke-width="9.5" stroke-linecap="round"/>
<line x1="1080.1" y1="392.8" x2="1121.3" y2="355.1" stroke="#000" stroke-width="9.5" stroke-linecap="round"/>
<circle cx="359.5" cy="554.5" r="285.5" fill="none" stroke="#000" stroke-width="3.2"/>
<line x1="353" y1="264.5" x2="353" y2="844" stroke="#000" stroke-width="3.2"/>
<line x1="70" y1="553.3" x2="648" y2="553.3" stroke="#000" stroke-width="3.2"/>
<circle cx="1048.25" cy="558" r="285.5" fill="none" stroke="#000" stroke-width="3.2"/>
<line x1="1042.5" y1="268" x2="1042.5" y2="848" stroke="#000" stroke-width="3.2"/>
<line x1="759" y1="556.5" x2="1337.5" y2="556.5" stroke="#000" stroke-width="3.2"/>
<text x="355" y="250" font-size="48.5" text-anchor="middle" >12h</text>
<text x="356" y="896.5" font-size="42" text-anchor="middle" >0h</text>
<text x="380" y="945" font-size="48.4" text-anchor="middle" >elevation mask 30°</text>
<text x="0" y="0" font-size="48.5" text-anchor="middle" transform="translate(57.5,553.5) rotate(-90)">18h</text>
<text x="0" y="0" font-size="48.5" text-anchor="middle" transform="translate(701.5,553) rotate(-90)">6h</text>
<text x="103.5" y="783.3" font-size="48" text-anchor="middle" >77°</text>
<text x="1043.5" y="255.5" font-size="48.5" text-anchor="middle" >12h</text>
<text x="1045" y="900" font-size="42" text-anchor="middle" >0h</text>
<text x="1054.7" y="945" font-size="48.2" text-anchor="middle" >elevation mask 15°</text>
<text x="0" y="0" font-size="48.5" text-anchor="middle" transform="translate(746.5,557) rotate(-90)">18h</text>
<text x="0" y="0" font-size="48.5" text-anchor="middle" transform="translate(1391,558) rotate(-90)">6h</text>
<text x="793" y="789" font-size="48" text-anchor="middle" >77°</text>
<text x="751" y="1032.5" font-size="48.3" text-anchor="middle" xml:space="preserve">8:00-9:00 UT  18.03.2015</text>
<line x1="255.7" y1="1407.15" x2="1282.3" y2="1407.15" stroke="#111" stroke-width="3" stroke-dasharray="13.2 13.67"/>
<line x1="255.7" y1="1321.8" x2="1282.3" y2="1321.8" stroke="#111" stroke-width="3" stroke-dasharray="13.2 13.67"/>
<line x1="255.7" y1="1236.45" x2="1282.3" y2="1236.45" stroke="#111" stroke-width="3" stroke-dasharray="13.2 13.67"/>
<line x1="255.7" y1="1151.1" x2="1282.3" y2="1151.1" stroke="#111" stroke-width="3" stroke-dasharray="13.2 13.67"/>
<line x1="255.7" y1="1065.75" x2="1282.3" y2="1065.75" stroke="#111" stroke-width="3" stroke-dasharray="13.2 13.67"/>
<line x1="428.0" y1="1077.5" x2="428.0" y2="1492" stroke="#111" stroke-width="3.3" stroke-dasharray="12.8 14.05"/>
<line x1="598.5" y1="1077.5" x2="598.5" y2="1492" stroke="#111" stroke-width="3.3" stroke-dasharray="12.8 14.05"/>
<line x1="769.0" y1="1077.5" x2="769.0" y2="1492" stroke="#111" stroke-width="3.3" stroke-dasharray="12.8 14.05"/>
<line x1="939.5" y1="1077.5" x2="939.5" y2="1492" stroke="#111" stroke-width="3.3" stroke-dasharray="12.8 14.05"/>
<line x1="1110.0" y1="1077.5" x2="1110.0" y2="1492" stroke="#111" stroke-width="3.3" stroke-dasharray="12.8 14.05"/>
<line x1="1280.5" y1="1077.5" x2="1280.5" y2="1492" stroke="#111" stroke-width="3.3" stroke-dasharray="12.8 14.05"/>
<line x1="257.5" y1="1064" x2="257.5" y2="1494" stroke="#222" stroke-width="3.3"/>
<line x1="239.5" y1="1492.5" x2="1282" y2="1492.5" stroke="#222" stroke-width="3.3"/>
<line x1="239" y1="1492.5" x2="269" y2="1492.5" stroke="#222" stroke-width="3.3"/>
<line x1="239" y1="1449.825" x2="257.5" y2="1449.825" stroke="#222" stroke-width="3.3"/>
<line x1="239" y1="1407.15" x2="269" y2="1407.15" stroke="#222" stroke-width="3.3"/>
<line x1="239" y1="1364.475" x2="257.5" y2="1364.475" stroke="#222" stroke-width="3.3"/>
<line x1="239" y1="1321.8" x2="269" y2="1321.8" stroke="#222" stroke-width="3.3"/>
<line x1="239" y1="1279.125" x2="257.5" y2="1279.125" stroke="#222" stroke-width="3.3"/>
<line x1="239" y1="1236.45" x2="269" y2="1236.45" stroke="#222" stroke-width="3.3"/>
<line x1="239" y1="1193.775" x2="257.5" y2="1193.775" stroke="#222" stroke-width="3.3"/>
<line x1="239" y1="1151.1" x2="269" y2="1151.1" stroke="#222" stroke-width="3.3"/>
<line x1="239" y1="1108.425" x2="257.5" y2="1108.425" stroke="#222" stroke-width="3.3"/>
<line x1="239" y1="1065.75" x2="269" y2="1065.75" stroke="#222" stroke-width="3.3"/>
<line x1="257.5" y1="1479" x2="257.5" y2="1510" stroke="#222" stroke-width="3.3"/>
<line x1="428.0" y1="1479" x2="428.0" y2="1510" stroke="#222" stroke-width="3.3"/>
<line x1="598.5" y1="1479" x2="598.5" y2="1510" stroke="#222" stroke-width="3.3"/>
<line x1="769.0" y1="1479" x2="769.0" y2="1510" stroke="#222" stroke-width="3.3"/>
<line x1="939.5" y1="1479" x2="939.5" y2="1510" stroke="#222" stroke-width="3.3"/>
<line x1="1110.0" y1="1479" x2="1110.0" y2="1510" stroke="#222" stroke-width="3.3"/>
<line x1="1280.5" y1="1479" x2="1280.5" y2="1510" stroke="#222" stroke-width="3.3"/>
<text x="222" y="1508.5" font-size="49.5" text-anchor="end" >0,0</text>
<text x="222" y="1423.15" font-size="49.5" text-anchor="end" >0,2</text>
<text x="222" y="1337.8" font-size="49.5" text-anchor="end" >0,4</text>
<text x="222" y="1252.45" font-size="49.5" text-anchor="end" >0,6</text>
<text x="222" y="1167.1" font-size="49.5" text-anchor="end" >0,8</text>
<text x="222" y="1081.75" font-size="49.5" text-anchor="end" >1,0</text>
<text x="257.5" y="1569.5" font-size="49" text-anchor="middle" >8:18</text>
<text x="598.5" y="1569.5" font-size="49" text-anchor="middle" >8:20</text>
<text x="939.5" y="1569.5" font-size="49" text-anchor="middle" >8:22</text>
<text x="1280.5" y="1569.5" font-size="49" text-anchor="middle" >8:24</text>
<text x="768.9" y="1624" font-size="48.3" text-anchor="middle" >UT 18.03.2015</text>
<text x="1124" y="1175" font-size="48.5" text-anchor="middle" >SWARM B</text>
<text font-size="47" font-family="Liberation Sans, sans-serif" font-weight="bold" xml:space="preserve" letter-spacing="0.7" transform="translate(109.5,1425.6) rotate(-90)">n<tspan dy="15">e</tspan><tspan dy="-15"> [10</tspan><tspan dy="-19">5</tspan><tspan dy="19">/cm</tspan><tspan dy="-19">3</tspan><tspan dy="19">]</tspan></text>
<path d="M257.1,1364.5 L265.6,1365.9 L272.7,1369.5 L276.3,1378.0 L279.8,1386.5 L279.8,1396.5 L282.7,1407.8 L283.4,1410.7 L287.6,1402.9 L294.0,1408.5 L299.7,1414.2 L301.1,1405.0 L301.8,1395.0 L302.6,1325.5 L306.1,1318.4 L311.8,1324.7 L316.8,1329.0 L316.8,1339.7 L323.2,1343.2 L316.8,1349.6 L322.4,1352.4 L327.4,1336.1 L336.6,1335.4 L337.4,1325.5 L338.8,1315.5 L338.8,1305.6 L339.5,1295.6 L343.0,1289.2 L351.6,1291.4 L360.1,1294.2 L368.6,1296.3 L375.0,1294.2 L379.3,1287.1 L385.7,1290.7 L389.9,1299.2 L393.5,1307.0 L401.3,1304.9 L410.5,1302.7 L416.9,1306.3 L425.4,1305.6 L433.2,1301.3 L436.3,1292.9 L437.0,1283.7 L442.7,1277.3 L452.0,1276.6 L456.9,1283.7 L459.1,1292.9 L467.6,1292.9 L469.0,1283.0 L470.4,1273.0 L474.7,1266.6 L480.4,1265.9 L482.5,1257.4 L487.5,1250.3 L494.6,1253.2 L498.8,1259.5 L504.5,1265.2 L508.1,1261.7 L514.5,1255.3 L517.3,1246.8 L522.3,1240.4 L527.2,1234.0 L534.3,1230.4 L542.9,1232.6 L552.8,1236.8 L543.6,1242.5 L547.1,1246.8 L554.2,1246.0 L555.7,1256.7 L557.8,1266.0 L564.2,1270.9 L572.0,1266.6" fill="none" stroke="#000" stroke-width="5.9" stroke-linecap="round" stroke-linejoin="round" stroke-dasharray="0 9.8"/>
<path d="M788.7,1380.1 L789.4,1387.5 L791.4,1397.5 L792.0,1406.8 L792.0,1416.2 L796.7,1426.8 L803.4,1420.8 L803.4,1411.5 L804.7,1390.8 L806.0,1300.0 L806.0,1282.0 L809.4,1274.7 L812.0,1265.4 L815.4,1256.0 L816.7,1246.7 L821.4,1241.4 L823.4,1250.7 L824.0,1260.0 L826.0,1270.0 L828.0,1278.0 L836.0,1278.0 L843.4,1280.0 L843.4,1290.0 L844.7,1300.0 L846.7,1309.4 L848.7,1319.4 L852.0,1378.8 L854.0,1398.8 L854.7,1408.1 L855.4,1416.8 L864.0,1415.5 L872.8,1416.2 L877.4,1408.1 L880.8,1400.8 L886.1,1406.1 L893.4,1409.5 L898.8,1413.5 L906.8,1406.8 L912.1,1412.2 L919.9,1410.0 L927.0,1407.8 L933.4,1414.2 L939.8,1407.8 L948.3,1405.0 L954.0,1399.3 L959.7,1397.9 L962.5,1406.4 L968.2,1405.0 L974.6,1402.2 L976.7,1392.9 L977.4,1383.7 L978.1,1373.8 L978.8,1363.8 L979.5,1353.9 L984.5,1346.8 L988.8,1353.9 L990.2,1363.1 L993.0,1362.4 L993.8,1353.2 L993.8,1342.5 L996.6,1333.3 L1002.3,1337.5 L1003.0,1346.8 L1008.0,1339.7 L1009.4,1331.1 L1017.2,1327.6 L1022.9,1333.3 L1024.3,1343.2 L1025.0,1353.9 L1026.4,1361.7 L1030.7,1355.3 L1039.9,1357.4 L1040.6,1366.6 L1049.1,1370.2 L1041.3,1376.6 L1047.7,1378.7 L1056.3,1374.5 L1063.4,1377.3" fill="none" stroke="#000" stroke-width="5.9" stroke-linecap="round" stroke-linejoin="round" stroke-dasharray="0 9.8"/>
<path d="M1153.8,1368.7 L1154.6,1358.3 L1155.3,1348.6 L1163.5,1344.9 L1170.2,1348.6 L1171.0,1357.6 L1177.7,1351.6 L1178.4,1341.9 L1181.4,1351.6 L1185.1,1359.0 L1187.4,1357.6 L1192.6,1349.4 L1193.3,1339.7 L1201.6,1336.7 L1203.8,1345.6 L1206.8,1355.3 L1209.8,1355.3 L1211.2,1347.1 L1218.7,1351.6 L1222.4,1360.5 L1226.9,1369.5 L1234.4,1374.0 L1235.9,1382.9 L1238.1,1392.6 L1243.3,1398.6 L1248.5,1392.6 L1255.2,1391.9 L1264.2,1392.6 L1269.4,1399.3 L1273.9,1400.1 L1279.9,1402.3" fill="none" stroke="#000" stroke-width="5.9" stroke-linecap="round" stroke-linejoin="round" stroke-dasharray="0 9.8"/>
<path d="M572.0,1266.6 L574.1,1208.4 L576.2,1187.1 L583.4,1186.4 L586.2,1201.3 L590.5,1201.3 L592.6,1191.4 L597.6,1190.0 L598.3,1208.4 L600.4,1207.0 L602.8,1195.3 L608.5,1189.0 L615.6,1195.3 L622.7,1195.3 L626.9,1203.9 L629.8,1179.7 L634.0,1178.3 L635.5,1167.6 L640.4,1167.6 L643.3,1181.1 L644.7,1196.8 L649.7,1196.8 L650.4,1181.1 L652.5,1149.9 L656.8,1147.8 L661.0,1151.3 L663.9,1172.6 L667.4,1174.0 L669.5,1193.9 L675.2,1199.6 L678.1,1198.2 L678.8,1178.3 L681.6,1175.5 L681.6,1162.0 L689.4,1162.0 L693.7,1165.5 L698.0,1191.1 L703.6,1286.2 L707.9,1243.6 L708.6,1224.5 L718.6,1224.5 L720.7,1260.7 L726.4,1264.2 L730.6,1265.7 L733.5,1274.9 L738.4,1279.9 L740.6,1208.1 L742.7,1177.6 L751.9,1177.6 L753.4,1186.8 L759.0,1189.7 L761.9,1190.4 L764.0,1250.7 L773.3,1250.7 L780.0,1262.7 L780.7,1293.4 L784.7,1313.4 L787.4,1326.8 L788.7,1380.1" fill="none" stroke="#000" stroke-width="5.8" stroke-linecap="round" stroke-linejoin="round"/>
<path d="M1063.4,1377.3 L1067.6,1375.2 L1066.9,1334.0 L1070.5,1321.2 L1074.0,1309.8 L1082.5,1309.8 L1084.7,1336.8 L1086.7,1323.3 L1097.9,1323.3 L1102.4,1330.7 L1108.3,1332.2 L1111.3,1335.9 L1117.3,1333.7 L1121.8,1341.1 L1126.2,1361.3 L1130.7,1361.3 L1132.2,1341.1 L1138.9,1340.4 L1142.6,1350.1 L1144.1,1368.0 L1148.6,1369.5 L1149.4,1381.4 L1154.6,1377.7 L1153.8,1368.7" fill="none" stroke="#000" stroke-width="5.8" stroke-linecap="round" stroke-linejoin="round"/>
</svg>
</body></html>
